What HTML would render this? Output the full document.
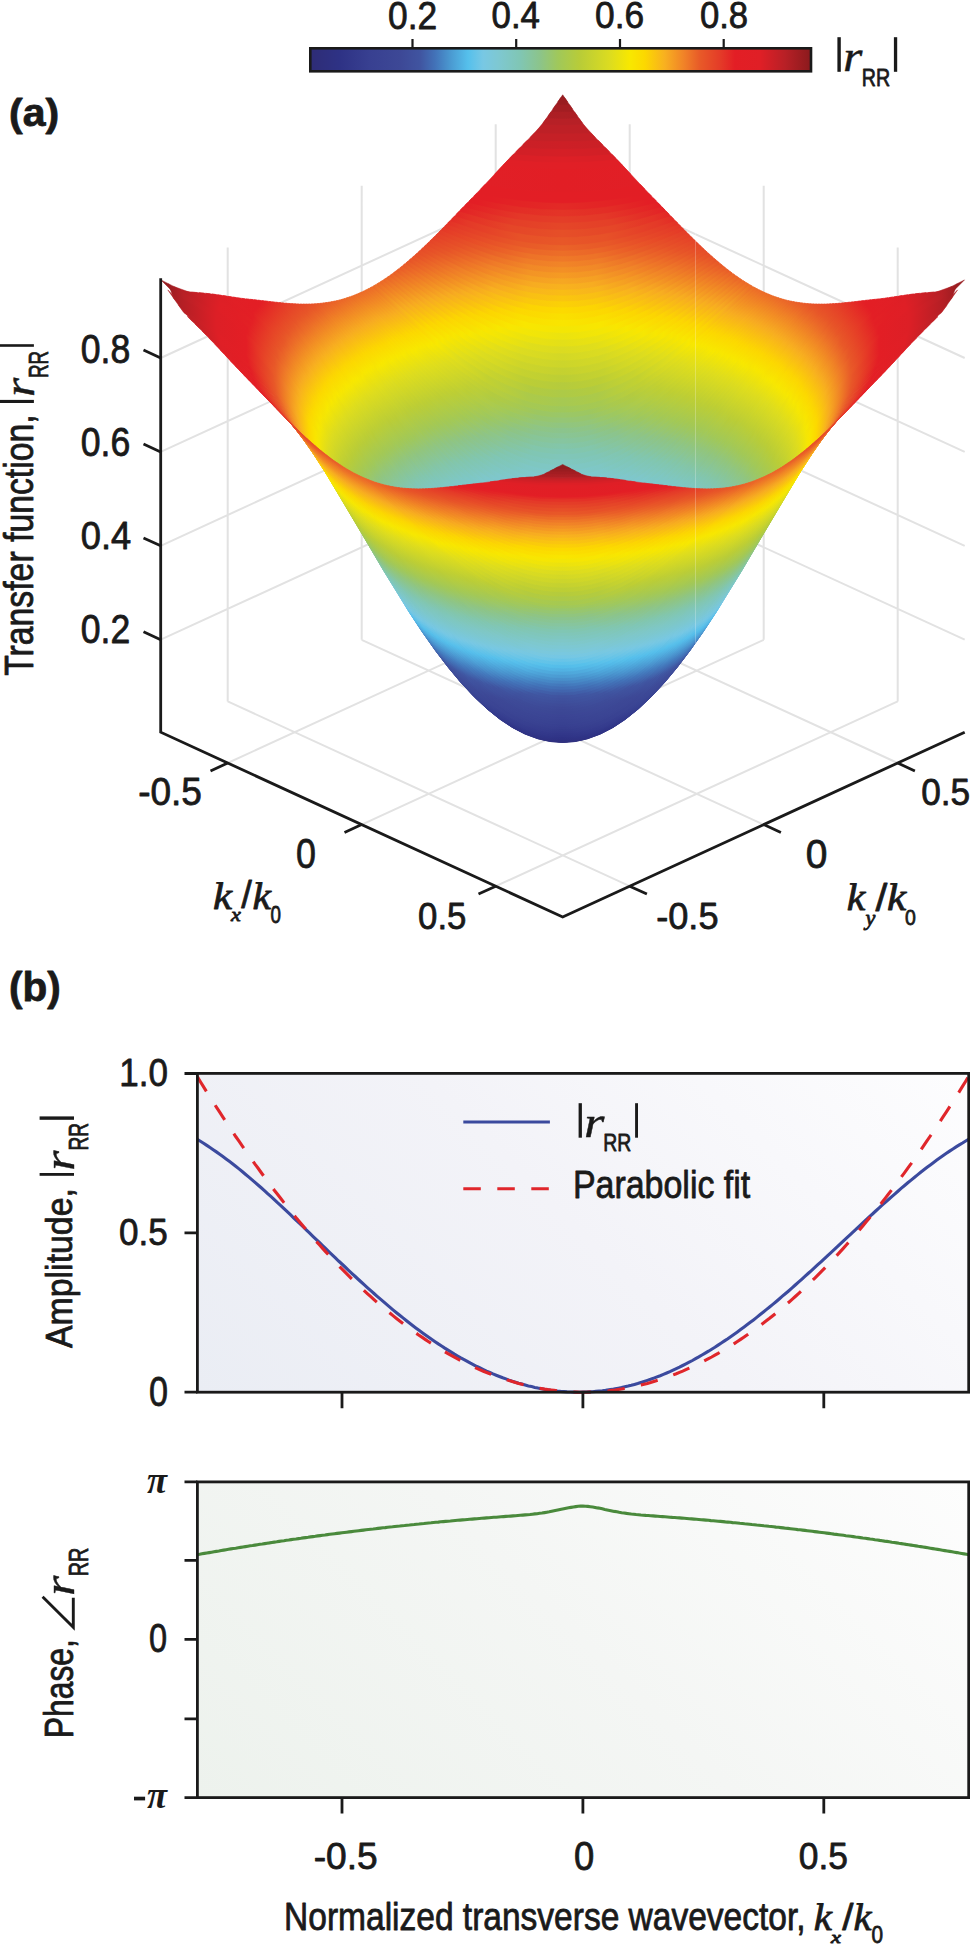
<!DOCTYPE html>
<html><head><meta charset="utf-8"><style>
html,body{margin:0;padding:0;background:#fff}
svg{display:block}
text{font-family:"Liberation Sans",sans-serif;fill:#1a1a1a}

</style></head><body>
<svg width="970" height="1944" viewBox="0 0 970 1944">
<defs><linearGradient id="cb" x1="0" x2="1" y1="0" y2="0"><stop offset="0.000" stop-color="#2e2c76"/><stop offset="0.059" stop-color="#2e3285"/><stop offset="0.119" stop-color="#384091"/><stop offset="0.179" stop-color="#3d4896"/><stop offset="0.219" stop-color="#4054a0"/><stop offset="0.249" stop-color="#4272b8"/><stop offset="0.279" stop-color="#4a98d0"/><stop offset="0.315" stop-color="#55c0ec"/><stop offset="0.345" stop-color="#78c8e4"/><stop offset="0.375" stop-color="#7ec8d2"/><stop offset="0.419" stop-color="#80c6b4"/><stop offset="0.459" stop-color="#8cc48a"/><stop offset="0.495" stop-color="#a0c85a"/><stop offset="0.538" stop-color="#b8cc38"/><stop offset="0.598" stop-color="#dcdc20"/><stop offset="0.638" stop-color="#f8e800"/><stop offset="0.668" stop-color="#fcd800"/><stop offset="0.708" stop-color="#f8b020"/><stop offset="0.748" stop-color="#f08028"/><stop offset="0.778" stop-color="#e85a28"/><stop offset="0.818" stop-color="#e43c28"/><stop offset="0.848" stop-color="#e31e25"/><stop offset="0.898" stop-color="#e01f26"/><stop offset="0.948" stop-color="#b82026"/><stop offset="1.000" stop-color="#8a1a1d"/></linearGradient><linearGradient id="bgA" gradientUnits="userSpaceOnUse" x1="197" y1="1392" x2="740" y2="849"><stop offset="0" stop-color="#eaedf4"/><stop offset="0.5" stop-color="#f3f3f8"/><stop offset="1" stop-color="#fdfdfe"/></linearGradient><linearGradient id="bgP" gradientUnits="userSpaceOnUse" x1="197" y1="1797" x2="740" y2="1254"><stop offset="0" stop-color="#edf2ed"/><stop offset="0.5" stop-color="#f4f6f4"/><stop offset="1" stop-color="#fdfdfd"/></linearGradient></defs><rect x="310.3" y="48.3" width="500.7" height="23" fill="url(#cb)" stroke="#1a1a1a" stroke-width="2.6"/><path d="M412.5 39V48M516.2 39V48M620 39V48M723.7 39V48" stroke="#1a1a1a" stroke-width="2.2"/>
<path d="M227.7 763L629.7 578.2M227.7 701.4L629.7 886.2M227.7 701.4L227.7 247.4M629.7 578.2L629.7 124.2M361.7 824.6L763.7 639.8M361.7 639.8L763.7 824.6M361.7 639.8L361.7 185.8M763.7 639.8L763.7 185.8M495.7 886.2L897.7 701.4M495.7 578.2L897.7 763M495.7 578.2L495.7 124.2M897.7 701.4L897.7 247.4M160.7 639.7L562.7 454.9M562.7 454.9L964.7 639.7M160.7 545.8L562.7 361M562.7 361L964.7 545.8M160.7 451.9L562.7 267.1M562.7 267.1L964.7 451.9M160.7 358L562.7 173.2M562.7 173.2L964.7 358" stroke="#e2e2e2" stroke-width="2" fill="none"/><defs><linearGradient id="g0" gradientUnits="userSpaceOnUse" x1="562.7" x2="964.7" y1="0" y2="0" spreadMethod="reflect"><stop offset="0.000" stop-color="#901b1e"/><stop offset="0.006" stop-color="#901b1e"/></linearGradient><linearGradient id="g1" gradientUnits="userSpaceOnUse" x1="562.7" x2="964.7" y1="0" y2="0" spreadMethod="reflect"><stop offset="0.000" stop-color="#9a1c20"/><stop offset="0.018" stop-color="#991c20"/></linearGradient><linearGradient id="g2" gradientUnits="userSpaceOnUse" x1="562.7" x2="964.7" y1="0" y2="0" spreadMethod="reflect"><stop offset="0.000" stop-color="#a31d22"/><stop offset="0.031" stop-color="#a31d22"/></linearGradient><linearGradient id="g3" gradientUnits="userSpaceOnUse" x1="562.7" x2="964.7" y1="0" y2="0" spreadMethod="reflect"><stop offset="0.000" stop-color="#ad1f24"/><stop offset="0.043" stop-color="#ac1e24"/></linearGradient><linearGradient id="g4" gradientUnits="userSpaceOnUse" x1="562.7" x2="964.7" y1="0" y2="0" spreadMethod="reflect"><stop offset="0.000" stop-color="#b72026"/><stop offset="0.056" stop-color="#b62026"/></linearGradient><linearGradient id="g5" gradientUnits="userSpaceOnUse" x1="562.7" x2="964.7" y1="0" y2="0" spreadMethod="reflect"><stop offset="0.000" stop-color="#be2026"/><stop offset="0.072" stop-color="#bd2026"/></linearGradient><linearGradient id="g6" gradientUnits="userSpaceOnUse" x1="562.7" x2="964.7" y1="0" y2="0" spreadMethod="reflect"><stop offset="0.000" stop-color="#c52026"/><stop offset="0.090" stop-color="#c42026"/></linearGradient><linearGradient id="g7" gradientUnits="userSpaceOnUse" x1="562.7" x2="964.7" y1="0" y2="0" spreadMethod="reflect"><stop offset="0.000" stop-color="#cd1f26"/><stop offset="0.108" stop-color="#ca2026"/></linearGradient><linearGradient id="g8" gradientUnits="userSpaceOnUse" x1="562.7" x2="964.7" y1="0" y2="0" spreadMethod="reflect"><stop offset="0.000" stop-color="#d51f26"/><stop offset="0.124" stop-color="#d11f26"/></linearGradient><linearGradient id="g9" gradientUnits="userSpaceOnUse" x1="562.7" x2="964.7" y1="0" y2="0" spreadMethod="reflect"><stop offset="0.000" stop-color="#de1f26"/><stop offset="0.140" stop-color="#d81f26"/></linearGradient><linearGradient id="g10" gradientUnits="userSpaceOnUse" x1="562.7" x2="964.7" y1="0" y2="0" spreadMethod="reflect"><stop offset="0.000" stop-color="#e11f26"/><stop offset="0.159" stop-color="#e01f26"/></linearGradient><linearGradient id="g11" gradientUnits="userSpaceOnUse" x1="562.7" x2="964.7" y1="0" y2="0" spreadMethod="reflect"><stop offset="0.000" stop-color="#e21e25"/><stop offset="0.187" stop-color="#e11f26"/></linearGradient><linearGradient id="g12" gradientUnits="userSpaceOnUse" x1="562.7" x2="964.7" y1="0" y2="0" spreadMethod="reflect"><stop offset="0.000" stop-color="#e31e25"/><stop offset="0.213" stop-color="#e21e25"/></linearGradient><linearGradient id="g13" gradientUnits="userSpaceOnUse" x1="562.7" x2="964.7" y1="0" y2="0" spreadMethod="reflect"><stop offset="0.000" stop-color="#e32a26"/><stop offset="0.115" stop-color="#e32325"/><stop offset="0.176" stop-color="#e31e25"/><stop offset="0.227" stop-color="#e21e25"/></linearGradient><linearGradient id="g14" gradientUnits="userSpaceOnUse" x1="562.7" x2="964.7" y1="0" y2="0" spreadMethod="reflect"><stop offset="0.000" stop-color="#e43427"/><stop offset="0.113" stop-color="#e32d26"/><stop offset="0.212" stop-color="#e31e25"/><stop offset="0.238" stop-color="#e21e25"/></linearGradient><linearGradient id="g15" gradientUnits="userSpaceOnUse" x1="562.7" x2="964.7" y1="0" y2="0" spreadMethod="reflect"><stop offset="0.000" stop-color="#e43e28"/><stop offset="0.104" stop-color="#e43828"/><stop offset="0.247" stop-color="#e31e25"/><stop offset="0.249" stop-color="#e31e25"/></linearGradient><linearGradient id="g16" gradientUnits="userSpaceOnUse" x1="562.7" x2="964.7" y1="0" y2="0" spreadMethod="reflect"><stop offset="0.000" stop-color="#e54628"/><stop offset="0.121" stop-color="#e43f28"/><stop offset="0.249" stop-color="#e32326"/><stop offset="0.259" stop-color="#e32025"/></linearGradient><linearGradient id="g17" gradientUnits="userSpaceOnUse" x1="562.7" x2="964.7" y1="0" y2="0" spreadMethod="reflect"><stop offset="0.000" stop-color="#e64f28"/><stop offset="0.128" stop-color="#e54628"/><stop offset="0.227" stop-color="#e43227"/><stop offset="0.270" stop-color="#e32626"/></linearGradient><linearGradient id="g18" gradientUnits="userSpaceOnUse" x1="562.7" x2="964.7" y1="0" y2="0" spreadMethod="reflect"><stop offset="0.000" stop-color="#e85728"/><stop offset="0.108" stop-color="#e75128"/><stop offset="0.236" stop-color="#e43928"/><stop offset="0.281" stop-color="#e32b26"/></linearGradient><linearGradient id="g19" gradientUnits="userSpaceOnUse" x1="562.7" x2="964.7" y1="0" y2="0" spreadMethod="reflect"><stop offset="0.000" stop-color="#ea6328"/><stop offset="0.111" stop-color="#e85828"/><stop offset="0.256" stop-color="#e43b28"/><stop offset="0.290" stop-color="#e42f27"/></linearGradient><linearGradient id="g20" gradientUnits="userSpaceOnUse" x1="562.7" x2="964.7" y1="0" y2="0" spreadMethod="reflect"><stop offset="0.000" stop-color="#ec6e28"/><stop offset="0.087" stop-color="#eb6628"/><stop offset="0.275" stop-color="#e43b28"/><stop offset="0.297" stop-color="#e43327"/></linearGradient><linearGradient id="g21" gradientUnits="userSpaceOnUse" x1="562.7" x2="964.7" y1="0" y2="0" spreadMethod="reflect"><stop offset="0.000" stop-color="#ef7928"/><stop offset="0.084" stop-color="#ed7228"/><stop offset="0.305" stop-color="#e43727"/></linearGradient><linearGradient id="g22" gradientUnits="userSpaceOnUse" x1="562.7" x2="964.7" y1="0" y2="0" spreadMethod="reflect"><stop offset="0.000" stop-color="#f18527"/><stop offset="0.091" stop-color="#ef7c28"/><stop offset="0.195" stop-color="#e85c28"/><stop offset="0.312" stop-color="#e43b28"/></linearGradient><linearGradient id="g23" gradientUnits="userSpaceOnUse" x1="562.7" x2="964.7" y1="0" y2="0" spreadMethod="reflect"><stop offset="0.000" stop-color="#f39025"/><stop offset="0.085" stop-color="#f18827"/><stop offset="0.176" stop-color="#ec6e28"/><stop offset="0.250" stop-color="#e75228"/><stop offset="0.319" stop-color="#e43e28"/></linearGradient><linearGradient id="g24" gradientUnits="userSpaceOnUse" x1="562.7" x2="964.7" y1="0" y2="0" spreadMethod="reflect"><stop offset="0.000" stop-color="#f59b23"/><stop offset="0.082" stop-color="#f39425"/><stop offset="0.169" stop-color="#ef7b28"/><stop offset="0.270" stop-color="#e75228"/><stop offset="0.327" stop-color="#e54028"/></linearGradient><linearGradient id="g25" gradientUnits="userSpaceOnUse" x1="562.7" x2="964.7" y1="0" y2="0" spreadMethod="reflect"><stop offset="0.000" stop-color="#f6a722"/><stop offset="0.084" stop-color="#f59f23"/><stop offset="0.181" stop-color="#f08228"/><stop offset="0.284" stop-color="#e75328"/><stop offset="0.334" stop-color="#e54328"/></linearGradient><linearGradient id="g26" gradientUnits="userSpaceOnUse" x1="562.7" x2="964.7" y1="0" y2="0" spreadMethod="reflect"><stop offset="0.000" stop-color="#f8b21e"/><stop offset="0.074" stop-color="#f7ac21"/><stop offset="0.156" stop-color="#f49524"/><stop offset="0.242" stop-color="#ed7028"/><stop offset="0.293" stop-color="#e75628"/><stop offset="0.341" stop-color="#e54528"/></linearGradient><linearGradient id="g27" gradientUnits="userSpaceOnUse" x1="562.7" x2="964.7" y1="0" y2="0" spreadMethod="reflect"><stop offset="0.000" stop-color="#f9bc16"/><stop offset="0.090" stop-color="#f8b41d"/><stop offset="0.186" stop-color="#f39525"/><stop offset="0.279" stop-color="#ea6528"/><stop offset="0.317" stop-color="#e75328"/><stop offset="0.349" stop-color="#e64728"/></linearGradient><linearGradient id="g28" gradientUnits="userSpaceOnUse" x1="562.7" x2="964.7" y1="0" y2="0" spreadMethod="reflect"><stop offset="0.000" stop-color="#fac60e"/><stop offset="0.083" stop-color="#f9bf14"/><stop offset="0.163" stop-color="#f7a921"/><stop offset="0.258" stop-color="#ef7c28"/><stop offset="0.326" stop-color="#e75528"/><stop offset="0.356" stop-color="#e64a28"/></linearGradient><linearGradient id="g29" gradientUnits="userSpaceOnUse" x1="562.7" x2="964.7" y1="0" y2="0" spreadMethod="reflect"><stop offset="0.000" stop-color="#fbd106"/><stop offset="0.088" stop-color="#fac80d"/><stop offset="0.176" stop-color="#f8b020"/><stop offset="0.281" stop-color="#ee7828"/><stop offset="0.342" stop-color="#e75428"/><stop offset="0.363" stop-color="#e64c28"/></linearGradient><linearGradient id="g30" gradientUnits="userSpaceOnUse" x1="562.7" x2="964.7" y1="0" y2="0" spreadMethod="reflect"><stop offset="0.000" stop-color="#fcda00"/><stop offset="0.080" stop-color="#fcd403"/><stop offset="0.167" stop-color="#f9bd16"/><stop offset="0.219" stop-color="#f6a622"/><stop offset="0.312" stop-color="#ec6e28"/><stop offset="0.355" stop-color="#e75428"/><stop offset="0.371" stop-color="#e64e28"/></linearGradient><linearGradient id="g31" gradientUnits="userSpaceOnUse" x1="562.7" x2="964.7" y1="0" y2="0" spreadMethod="reflect"><stop offset="0.000" stop-color="#fae000"/><stop offset="0.113" stop-color="#fcd701"/><stop offset="0.205" stop-color="#f9b81a"/><stop offset="0.233" stop-color="#f7aa21"/><stop offset="0.334" stop-color="#eb6928"/><stop offset="0.372" stop-color="#e75328"/><stop offset="0.378" stop-color="#e75028"/></linearGradient><linearGradient id="g32" gradientUnits="userSpaceOnUse" x1="562.7" x2="964.7" y1="0" y2="0" spreadMethod="reflect"><stop offset="0.000" stop-color="#f9e500"/><stop offset="0.103" stop-color="#fadf00"/><stop offset="0.158" stop-color="#fcd403"/><stop offset="0.248" stop-color="#f7ad21"/><stop offset="0.350" stop-color="#eb6728"/><stop offset="0.379" stop-color="#e75528"/><stop offset="0.386" stop-color="#e75228"/></linearGradient><linearGradient id="g33" gradientUnits="userSpaceOnUse" x1="562.7" x2="964.7" y1="0" y2="0" spreadMethod="reflect"><stop offset="0.000" stop-color="#f3e605"/><stop offset="0.095" stop-color="#f9e600"/><stop offset="0.180" stop-color="#fcd601"/><stop offset="0.269" stop-color="#f7ab21"/><stop offset="0.361" stop-color="#eb6928"/><stop offset="0.393" stop-color="#e75428"/></linearGradient><linearGradient id="g34" gradientUnits="userSpaceOnUse" x1="562.7" x2="964.7" y1="0" y2="0" spreadMethod="reflect"><stop offset="0.000" stop-color="#ebe30f"/><stop offset="0.094" stop-color="#f3e606"/><stop offset="0.134" stop-color="#f9e600"/><stop offset="0.207" stop-color="#fcd502"/><stop offset="0.284" stop-color="#f7ac21"/><stop offset="0.371" stop-color="#ec6b28"/><stop offset="0.401" stop-color="#e75628"/></linearGradient><linearGradient id="g35" gradientUnits="userSpaceOnUse" x1="562.7" x2="964.7" y1="0" y2="0" spreadMethod="reflect"><stop offset="0.000" stop-color="#e3df18"/><stop offset="0.089" stop-color="#eae210"/><stop offset="0.160" stop-color="#f8e700"/><stop offset="0.228" stop-color="#fcd502"/><stop offset="0.300" stop-color="#f7ac21"/><stop offset="0.382" stop-color="#ec6d28"/><stop offset="0.409" stop-color="#e85828"/></linearGradient><linearGradient id="g36" gradientUnits="userSpaceOnUse" x1="562.7" x2="964.7" y1="0" y2="0" spreadMethod="reflect"><stop offset="0.000" stop-color="#dbdb21"/><stop offset="0.080" stop-color="#e0de1b"/><stop offset="0.167" stop-color="#f3e605"/><stop offset="0.191" stop-color="#f9e600"/><stop offset="0.247" stop-color="#fcd602"/><stop offset="0.316" stop-color="#f7ab21"/><stop offset="0.396" stop-color="#ec6b28"/><stop offset="0.417" stop-color="#e85928"/></linearGradient><linearGradient id="g37" gradientUnits="userSpaceOnUse" x1="562.7" x2="964.7" y1="0" y2="0" spreadMethod="reflect"><stop offset="0.000" stop-color="#d3d826"/><stop offset="0.106" stop-color="#dcdc20"/><stop offset="0.202" stop-color="#f6e702"/><stop offset="0.266" stop-color="#fcd502"/><stop offset="0.329" stop-color="#f7ac21"/><stop offset="0.411" stop-color="#eb6828"/><stop offset="0.425" stop-color="#e85c28"/></linearGradient><linearGradient id="g38" gradientUnits="userSpaceOnUse" x1="562.7" x2="964.7" y1="0" y2="0" spreadMethod="reflect"><stop offset="0.000" stop-color="#ccd52b"/><stop offset="0.094" stop-color="#d3d826"/><stop offset="0.159" stop-color="#e1de1b"/><stop offset="0.231" stop-color="#f8e700"/><stop offset="0.281" stop-color="#fcd602"/><stop offset="0.343" stop-color="#f7ac21"/><stop offset="0.419" stop-color="#ec6b28"/><stop offset="0.433" stop-color="#e95e28"/></linearGradient><linearGradient id="g39" gradientUnits="userSpaceOnUse" x1="562.7" x2="964.7" y1="0" y2="0" spreadMethod="reflect"><stop offset="0.000" stop-color="#c4d130"/><stop offset="0.103" stop-color="#cdd52a"/><stop offset="0.180" stop-color="#dfdd1d"/><stop offset="0.250" stop-color="#f8e700"/><stop offset="0.298" stop-color="#fcd602"/><stop offset="0.357" stop-color="#f7ac21"/><stop offset="0.430" stop-color="#eb6a28"/><stop offset="0.441" stop-color="#e96028"/></linearGradient><linearGradient id="g40" gradientUnits="userSpaceOnUse" x1="562.7" x2="964.7" y1="0" y2="0" spreadMethod="reflect"><stop offset="0.000" stop-color="#bcce35"/><stop offset="0.101" stop-color="#c5d22f"/><stop offset="0.202" stop-color="#dedd1e"/><stop offset="0.270" stop-color="#f8e600"/><stop offset="0.311" stop-color="#fcd701"/><stop offset="0.371" stop-color="#f7aa21"/><stop offset="0.438" stop-color="#ec6d28"/><stop offset="0.449" stop-color="#ea6228"/></linearGradient><linearGradient id="g41" gradientUnits="userSpaceOnUse" x1="562.7" x2="964.7" y1="0" y2="0" spreadMethod="reflect"><stop offset="0.000" stop-color="#b5cb3d"/><stop offset="0.095" stop-color="#bcce35"/><stop offset="0.198" stop-color="#d5d924"/><stop offset="0.233" stop-color="#e2df19"/><stop offset="0.286" stop-color="#f8e600"/><stop offset="0.328" stop-color="#fcd502"/><stop offset="0.382" stop-color="#f7ac21"/><stop offset="0.450" stop-color="#ec6b28"/><stop offset="0.458" stop-color="#ea6428"/></linearGradient><linearGradient id="g42" gradientUnits="userSpaceOnUse" x1="562.7" x2="964.7" y1="0" y2="0" spreadMethod="reflect"><stop offset="0.000" stop-color="#adca47"/><stop offset="0.078" stop-color="#b2cb40"/><stop offset="0.175" stop-color="#c7d32e"/><stop offset="0.249" stop-color="#e1de1b"/><stop offset="0.299" stop-color="#f8e700"/><stop offset="0.338" stop-color="#fcd800"/><stop offset="0.393" stop-color="#f7ac21"/><stop offset="0.463" stop-color="#eb6928"/><stop offset="0.466" stop-color="#ea6528"/></linearGradient><linearGradient id="g43" gradientUnits="userSpaceOnUse" x1="562.7" x2="964.7" y1="0" y2="0" spreadMethod="reflect"><stop offset="0.000" stop-color="#a6c952"/><stop offset="0.087" stop-color="#acca49"/><stop offset="0.186" stop-color="#c2d131"/><stop offset="0.261" stop-color="#dedd1e"/><stop offset="0.313" stop-color="#f8e800"/><stop offset="0.356" stop-color="#fcd403"/><stop offset="0.404" stop-color="#f7ad21"/><stop offset="0.471" stop-color="#eb6a28"/><stop offset="0.475" stop-color="#eb6628"/></linearGradient><linearGradient id="g44" gradientUnits="userSpaceOnUse" x1="562.7" x2="964.7" y1="0" y2="0" spreadMethod="reflect"><stop offset="0.000" stop-color="#9fc85c"/><stop offset="0.097" stop-color="#a7c950"/><stop offset="0.201" stop-color="#c1d032"/><stop offset="0.277" stop-color="#dfdd1d"/><stop offset="0.326" stop-color="#f8e800"/><stop offset="0.362" stop-color="#fcd800"/><stop offset="0.414" stop-color="#f7ac21"/><stop offset="0.483" stop-color="#eb6728"/></linearGradient><linearGradient id="g45" gradientUnits="userSpaceOnUse" x1="562.7" x2="964.7" y1="0" y2="0" spreadMethod="reflect"><stop offset="0.000" stop-color="#9ac769"/><stop offset="0.065" stop-color="#9dc760"/><stop offset="0.175" stop-color="#b3cb3f"/><stop offset="0.248" stop-color="#cdd52a"/><stop offset="0.289" stop-color="#dfdd1c"/><stop offset="0.334" stop-color="#f8e800"/><stop offset="0.371" stop-color="#fcd800"/><stop offset="0.419" stop-color="#f8ae20"/><stop offset="0.485" stop-color="#ec6b28"/><stop offset="0.489" stop-color="#eb6728"/></linearGradient><linearGradient id="g46" gradientUnits="userSpaceOnUse" x1="562.7" x2="964.7" y1="0" y2="0" spreadMethod="reflect"><stop offset="0.000" stop-color="#95c675"/><stop offset="0.066" stop-color="#98c66c"/><stop offset="0.177" stop-color="#afcb44"/><stop offset="0.231" stop-color="#c1d032"/><stop offset="0.297" stop-color="#dedd1e"/><stop offset="0.346" stop-color="#f8e700"/><stop offset="0.379" stop-color="#fcd800"/><stop offset="0.428" stop-color="#f7ac21"/><stop offset="0.490" stop-color="#ec6c28"/><stop offset="0.494" stop-color="#eb6728"/></linearGradient><linearGradient id="g47" gradientUnits="userSpaceOnUse" x1="562.7" x2="964.7" y1="0" y2="0" spreadMethod="reflect"><stop offset="0.000" stop-color="#90c581"/><stop offset="0.067" stop-color="#94c678"/><stop offset="0.129" stop-color="#9ec85f"/><stop offset="0.238" stop-color="#bfcf33"/><stop offset="0.304" stop-color="#dddc1f"/><stop offset="0.354" stop-color="#f8e700"/><stop offset="0.388" stop-color="#fcd701"/><stop offset="0.433" stop-color="#f8ae20"/><stop offset="0.492" stop-color="#ed7028"/><stop offset="0.500" stop-color="#eb6728"/></linearGradient><linearGradient id="g48" gradientUnits="userSpaceOnUse" x1="562.7" x2="964.7" y1="0" y2="0" spreadMethod="reflect"><stop offset="0.000" stop-color="#8bc48d"/><stop offset="0.067" stop-color="#8fc584"/><stop offset="0.135" stop-color="#9ac767"/><stop offset="0.240" stop-color="#bbce36"/><stop offset="0.320" stop-color="#e1de1b"/><stop offset="0.363" stop-color="#f8e700"/><stop offset="0.396" stop-color="#fcd502"/><stop offset="0.443" stop-color="#f7ab21"/><stop offset="0.497" stop-color="#ed7028"/><stop offset="0.506" stop-color="#eb6728"/></linearGradient><linearGradient id="g49" gradientUnits="userSpaceOnUse" x1="562.7" x2="964.7" y1="0" y2="0" spreadMethod="reflect"><stop offset="0.000" stop-color="#89c596"/><stop offset="0.068" stop-color="#8bc48e"/><stop offset="0.119" stop-color="#92c57b"/><stop offset="0.205" stop-color="#aaca4c"/><stop offset="0.264" stop-color="#c1d032"/><stop offset="0.328" stop-color="#e0de1b"/><stop offset="0.367" stop-color="#f8e800"/><stop offset="0.401" stop-color="#fcd800"/><stop offset="0.448" stop-color="#f7ac21"/><stop offset="0.512" stop-color="#eb6728"/></linearGradient><linearGradient id="g50" gradientUnits="userSpaceOnUse" x1="562.7" x2="964.7" y1="0" y2="0" spreadMethod="reflect"><stop offset="0.000" stop-color="#86c5a0"/><stop offset="0.073" stop-color="#88c597"/><stop offset="0.125" stop-color="#8ec484"/><stop offset="0.185" stop-color="#9ec85e"/><stop offset="0.267" stop-color="#bdce34"/><stop offset="0.336" stop-color="#e0de1c"/><stop offset="0.375" stop-color="#f8e800"/><stop offset="0.410" stop-color="#fcd602"/><stop offset="0.453" stop-color="#f8ae20"/><stop offset="0.513" stop-color="#ec6b28"/><stop offset="0.518" stop-color="#eb6728"/></linearGradient><linearGradient id="g51" gradientUnits="userSpaceOnUse" x1="562.7" x2="964.7" y1="0" y2="0" spreadMethod="reflect"><stop offset="0.000" stop-color="#83c6aa"/><stop offset="0.070" stop-color="#85c5a1"/><stop offset="0.135" stop-color="#8cc48b"/><stop offset="0.196" stop-color="#9dc761"/><stop offset="0.275" stop-color="#bcce35"/><stop offset="0.345" stop-color="#e0de1c"/><stop offset="0.384" stop-color="#f8e700"/><stop offset="0.415" stop-color="#fcd800"/><stop offset="0.463" stop-color="#f7aa21"/><stop offset="0.524" stop-color="#eb6628"/></linearGradient><linearGradient id="g52" gradientUnits="userSpaceOnUse" x1="562.7" x2="964.7" y1="0" y2="0" spreadMethod="reflect"><stop offset="0.000" stop-color="#80c6b3"/><stop offset="0.071" stop-color="#83c6ab"/><stop offset="0.137" stop-color="#89c494"/><stop offset="0.190" stop-color="#96c672"/><stop offset="0.230" stop-color="#a4c954"/><stop offset="0.291" stop-color="#bfcf33"/><stop offset="0.353" stop-color="#e0de1c"/><stop offset="0.393" stop-color="#f8e700"/><stop offset="0.424" stop-color="#fcd602"/><stop offset="0.468" stop-color="#f7ab21"/><stop offset="0.530" stop-color="#ea6528"/></linearGradient><linearGradient id="g53" gradientUnits="userSpaceOnUse" x1="562.7" x2="964.7" y1="0" y2="0" spreadMethod="reflect"><stop offset="0.000" stop-color="#80c6ba"/><stop offset="0.076" stop-color="#80c6b3"/><stop offset="0.138" stop-color="#87c59c"/><stop offset="0.183" stop-color="#8fc583"/><stop offset="0.241" stop-color="#a4c954"/><stop offset="0.299" stop-color="#becf34"/><stop offset="0.357" stop-color="#dddd1e"/><stop offset="0.397" stop-color="#f8e800"/><stop offset="0.429" stop-color="#fcd800"/><stop offset="0.473" stop-color="#f7ac21"/><stop offset="0.536" stop-color="#ea6528"/></linearGradient><linearGradient id="g54" gradientUnits="userSpaceOnUse" x1="562.7" x2="964.7" y1="0" y2="0" spreadMethod="reflect"><stop offset="0.000" stop-color="#7fc7c1"/><stop offset="0.090" stop-color="#80c6b7"/><stop offset="0.135" stop-color="#84c5a7"/><stop offset="0.194" stop-color="#8ec486"/><stop offset="0.248" stop-color="#a2c857"/><stop offset="0.307" stop-color="#bdce34"/><stop offset="0.366" stop-color="#dedd1e"/><stop offset="0.406" stop-color="#f8e700"/><stop offset="0.434" stop-color="#fcd900"/><stop offset="0.479" stop-color="#f7ac21"/><stop offset="0.533" stop-color="#ec6e28"/><stop offset="0.542" stop-color="#ea6428"/></linearGradient><linearGradient id="g55" gradientUnits="userSpaceOnUse" x1="562.7" x2="964.7" y1="0" y2="0" spreadMethod="reflect"><stop offset="0.000" stop-color="#7fc7c7"/><stop offset="0.078" stop-color="#7fc7c0"/><stop offset="0.137" stop-color="#81c6b1"/><stop offset="0.206" stop-color="#8dc488"/><stop offset="0.265" stop-color="#a5c953"/><stop offset="0.315" stop-color="#bdce35"/><stop offset="0.375" stop-color="#dfdd1d"/><stop offset="0.411" stop-color="#f8e800"/><stop offset="0.443" stop-color="#fcd601"/><stop offset="0.484" stop-color="#f7ad21"/><stop offset="0.539" stop-color="#ec6d28"/><stop offset="0.548" stop-color="#ea6228"/></linearGradient><linearGradient id="g56" gradientUnits="userSpaceOnUse" x1="562.7" x2="964.7" y1="0" y2="0" spreadMethod="reflect"><stop offset="0.000" stop-color="#7ec8ce"/><stop offset="0.092" stop-color="#7fc7c4"/><stop offset="0.157" stop-color="#81c6b0"/><stop offset="0.222" stop-color="#8ec486"/><stop offset="0.273" stop-color="#a3c955"/><stop offset="0.328" stop-color="#bfcf33"/><stop offset="0.384" stop-color="#e0de1c"/><stop offset="0.420" stop-color="#f8e700"/><stop offset="0.448" stop-color="#fcd700"/><stop offset="0.490" stop-color="#f8ad20"/><stop offset="0.541" stop-color="#ed7128"/><stop offset="0.554" stop-color="#ea6128"/></linearGradient><linearGradient id="g57" gradientUnits="userSpaceOnUse" x1="562.7" x2="964.7" y1="0" y2="0" spreadMethod="reflect"><stop offset="0.000" stop-color="#7dc8d4"/><stop offset="0.079" stop-color="#7ec8cd"/><stop offset="0.168" stop-color="#80c6b4"/><stop offset="0.234" stop-color="#8ec486"/><stop offset="0.280" stop-color="#a2c857"/><stop offset="0.332" stop-color="#bcce35"/><stop offset="0.388" stop-color="#dedd1e"/><stop offset="0.425" stop-color="#f8e800"/><stop offset="0.453" stop-color="#fcd800"/><stop offset="0.495" stop-color="#f8ad20"/><stop offset="0.547" stop-color="#ed7028"/><stop offset="0.561" stop-color="#e96028"/></linearGradient><linearGradient id="g58" gradientUnits="userSpaceOnUse" x1="562.7" x2="964.7" y1="0" y2="0" spreadMethod="reflect"><stop offset="0.000" stop-color="#7bc8da"/><stop offset="0.085" stop-color="#7ec8d2"/><stop offset="0.165" stop-color="#80c6bb"/><stop offset="0.194" stop-color="#82c6ad"/><stop offset="0.246" stop-color="#8ec486"/><stop offset="0.288" stop-color="#a1c858"/><stop offset="0.340" stop-color="#bcce35"/><stop offset="0.397" stop-color="#dfdd1d"/><stop offset="0.430" stop-color="#f7e801"/><stop offset="0.459" stop-color="#fcd900"/><stop offset="0.501" stop-color="#f8ad20"/><stop offset="0.553" stop-color="#ec6f28"/><stop offset="0.567" stop-color="#e95e28"/></linearGradient><linearGradient id="g59" gradientUnits="userSpaceOnUse" x1="562.7" x2="964.7" y1="0" y2="0" spreadMethod="reflect"><stop offset="0.000" stop-color="#79c8e0"/><stop offset="0.096" stop-color="#7dc8d6"/><stop offset="0.172" stop-color="#7fc7bf"/><stop offset="0.210" stop-color="#82c6ac"/><stop offset="0.258" stop-color="#8ec485"/><stop offset="0.301" stop-color="#a3c856"/><stop offset="0.344" stop-color="#bacd37"/><stop offset="0.407" stop-color="#e1de1b"/><stop offset="0.440" stop-color="#f8e700"/><stop offset="0.469" stop-color="#fcd502"/><stop offset="0.507" stop-color="#f7ad21"/><stop offset="0.564" stop-color="#eb6728"/><stop offset="0.574" stop-color="#e85c28"/></linearGradient><linearGradient id="g60" gradientUnits="userSpaceOnUse" x1="562.7" x2="964.7" y1="0" y2="0" spreadMethod="reflect"><stop offset="0.000" stop-color="#75c7e5"/><stop offset="0.087" stop-color="#7ac8de"/><stop offset="0.160" stop-color="#7fc7ca"/><stop offset="0.218" stop-color="#81c6b0"/><stop offset="0.271" stop-color="#8fc582"/><stop offset="0.310" stop-color="#a2c856"/><stop offset="0.358" stop-color="#bdce34"/><stop offset="0.411" stop-color="#dfdd1c"/><stop offset="0.445" stop-color="#f8e800"/><stop offset="0.474" stop-color="#fcd602"/><stop offset="0.513" stop-color="#f7ac21"/><stop offset="0.561" stop-color="#ed7128"/><stop offset="0.581" stop-color="#e85a28"/></linearGradient><linearGradient id="g61" gradientUnits="userSpaceOnUse" x1="562.7" x2="964.7" y1="0" y2="0" spreadMethod="reflect"><stop offset="0.000" stop-color="#69c5e7"/><stop offset="0.064" stop-color="#71c6e6"/><stop offset="0.113" stop-color="#7ac8de"/><stop offset="0.176" stop-color="#7fc7ca"/><stop offset="0.230" stop-color="#81c6b0"/><stop offset="0.279" stop-color="#8ec485"/><stop offset="0.318" stop-color="#a2c857"/><stop offset="0.362" stop-color="#bbcd36"/><stop offset="0.421" stop-color="#e1de1a"/><stop offset="0.450" stop-color="#f8e800"/><stop offset="0.480" stop-color="#fcd601"/><stop offset="0.519" stop-color="#f7ac21"/><stop offset="0.568" stop-color="#ec6f28"/><stop offset="0.587" stop-color="#e85928"/></linearGradient><linearGradient id="g62" gradientUnits="userSpaceOnUse" x1="562.7" x2="964.7" y1="0" y2="0" spreadMethod="reflect"><stop offset="0.000" stop-color="#5dc2ea"/><stop offset="0.069" stop-color="#67c4e8"/><stop offset="0.124" stop-color="#79c8e1"/><stop offset="0.193" stop-color="#7fc7ca"/><stop offset="0.243" stop-color="#81c6af"/><stop offset="0.292" stop-color="#90c581"/><stop offset="0.327" stop-color="#a2c857"/><stop offset="0.371" stop-color="#bcce35"/><stop offset="0.421" stop-color="#dcdc20"/><stop offset="0.456" stop-color="#f7e801"/><stop offset="0.485" stop-color="#fcd701"/><stop offset="0.525" stop-color="#f7ab21"/><stop offset="0.574" stop-color="#ec6d28"/><stop offset="0.594" stop-color="#e85728"/></linearGradient><linearGradient id="g63" gradientUnits="userSpaceOnUse" x1="562.7" x2="964.7" y1="0" y2="0" spreadMethod="reflect"><stop offset="0.000" stop-color="#54bdea"/><stop offset="0.060" stop-color="#59c1eb"/><stop offset="0.130" stop-color="#75c7e5"/><stop offset="0.200" stop-color="#7ec8cd"/><stop offset="0.255" stop-color="#82c6ae"/><stop offset="0.301" stop-color="#8fc582"/><stop offset="0.336" stop-color="#a2c856"/><stop offset="0.381" stop-color="#bdce34"/><stop offset="0.431" stop-color="#dfdd1d"/><stop offset="0.461" stop-color="#f6e702"/><stop offset="0.491" stop-color="#fcd701"/><stop offset="0.526" stop-color="#f8b020"/><stop offset="0.581" stop-color="#ec6b28"/><stop offset="0.601" stop-color="#e75628"/></linearGradient><linearGradient id="g64" gradientUnits="userSpaceOnUse" x1="562.7" x2="964.7" y1="0" y2="0" spreadMethod="reflect"><stop offset="0.000" stop-color="#51b2e2"/><stop offset="0.066" stop-color="#53bae8"/><stop offset="0.096" stop-color="#59c1eb"/><stop offset="0.162" stop-color="#79c8e2"/><stop offset="0.238" stop-color="#7fc7c0"/><stop offset="0.269" stop-color="#82c6ac"/><stop offset="0.314" stop-color="#92c57c"/><stop offset="0.345" stop-color="#a3c856"/><stop offset="0.385" stop-color="#bbce36"/><stop offset="0.436" stop-color="#dedd1e"/><stop offset="0.471" stop-color="#f8e600"/><stop offset="0.497" stop-color="#fcd701"/><stop offset="0.532" stop-color="#f8af20"/><stop offset="0.583" stop-color="#ec6f28"/><stop offset="0.603" stop-color="#e85728"/><stop offset="0.608" stop-color="#e75428"/></linearGradient><linearGradient id="g65" gradientUnits="userSpaceOnUse" x1="562.7" x2="964.7" y1="0" y2="0" spreadMethod="reflect"><stop offset="0.000" stop-color="#4ea6da"/><stop offset="0.067" stop-color="#50afe0"/><stop offset="0.118" stop-color="#58c1eb"/><stop offset="0.179" stop-color="#79c8e1"/><stop offset="0.246" stop-color="#7fc7c2"/><stop offset="0.282" stop-color="#83c5a9"/><stop offset="0.318" stop-color="#8fc583"/><stop offset="0.349" stop-color="#a1c859"/><stop offset="0.390" stop-color="#bacd37"/><stop offset="0.441" stop-color="#dddc1f"/><stop offset="0.477" stop-color="#f8e700"/><stop offset="0.502" stop-color="#fcd601"/><stop offset="0.538" stop-color="#f8ae20"/><stop offset="0.590" stop-color="#ec6c28"/><stop offset="0.610" stop-color="#e75628"/><stop offset="0.615" stop-color="#e75228"/></linearGradient><linearGradient id="g66" gradientUnits="userSpaceOnUse" x1="562.7" x2="964.7" y1="0" y2="0" spreadMethod="reflect"><stop offset="0.000" stop-color="#4b9bd2"/><stop offset="0.062" stop-color="#4da3d8"/><stop offset="0.130" stop-color="#54bdea"/><stop offset="0.176" stop-color="#70c6e6"/><stop offset="0.192" stop-color="#79c8e2"/><stop offset="0.259" stop-color="#7fc7c1"/><stop offset="0.290" stop-color="#83c6aa"/><stop offset="0.332" stop-color="#92c57b"/><stop offset="0.363" stop-color="#a5c953"/><stop offset="0.399" stop-color="#bcce36"/><stop offset="0.451" stop-color="#e0de1b"/><stop offset="0.482" stop-color="#f8e700"/><stop offset="0.508" stop-color="#fcd602"/><stop offset="0.545" stop-color="#f7ac21"/><stop offset="0.596" stop-color="#eb6928"/><stop offset="0.617" stop-color="#e75428"/><stop offset="0.622" stop-color="#e75028"/></linearGradient><linearGradient id="g67" gradientUnits="userSpaceOnUse" x1="562.7" x2="964.7" y1="0" y2="0" spreadMethod="reflect"><stop offset="0.000" stop-color="#4890cb"/><stop offset="0.058" stop-color="#4a97d0"/><stop offset="0.126" stop-color="#51b1e1"/><stop offset="0.152" stop-color="#55c0ec"/><stop offset="0.205" stop-color="#79c8e2"/><stop offset="0.267" stop-color="#7fc7c2"/><stop offset="0.299" stop-color="#83c6aa"/><stop offset="0.336" stop-color="#90c581"/><stop offset="0.367" stop-color="#a3c856"/><stop offset="0.409" stop-color="#becf34"/><stop offset="0.456" stop-color="#e0de1c"/><stop offset="0.488" stop-color="#f8e700"/><stop offset="0.514" stop-color="#fcd502"/><stop offset="0.551" stop-color="#f7aa21"/><stop offset="0.598" stop-color="#ec6d28"/><stop offset="0.614" stop-color="#e85928"/><stop offset="0.629" stop-color="#e64e28"/></linearGradient><linearGradient id="g68" gradientUnits="userSpaceOnUse" x1="562.7" x2="964.7" y1="0" y2="0" spreadMethod="reflect"><stop offset="0.000" stop-color="#4684c3"/><stop offset="0.053" stop-color="#478ac7"/><stop offset="0.133" stop-color="#4faadd"/><stop offset="0.170" stop-color="#56c0ec"/><stop offset="0.212" stop-color="#78c8e4"/><stop offset="0.281" stop-color="#7fc7bf"/><stop offset="0.313" stop-color="#85c5a4"/><stop offset="0.345" stop-color="#91c57e"/><stop offset="0.371" stop-color="#a1c858"/><stop offset="0.413" stop-color="#bdce35"/><stop offset="0.461" stop-color="#dfdd1c"/><stop offset="0.493" stop-color="#f8e700"/><stop offset="0.519" stop-color="#fcd403"/><stop offset="0.551" stop-color="#f8b020"/><stop offset="0.604" stop-color="#eb6a28"/><stop offset="0.620" stop-color="#e85828"/><stop offset="0.636" stop-color="#e64c28"/></linearGradient><linearGradient id="g69" gradientUnits="userSpaceOnUse" x1="562.7" x2="964.7" y1="0" y2="0" spreadMethod="reflect"><stop offset="0.000" stop-color="#4378bc"/><stop offset="0.059" stop-color="#4580c1"/><stop offset="0.123" stop-color="#4b9bd2"/><stop offset="0.182" stop-color="#55c0ec"/><stop offset="0.225" stop-color="#78c8e3"/><stop offset="0.289" stop-color="#7fc7bf"/><stop offset="0.316" stop-color="#83c5a9"/><stop offset="0.354" stop-color="#92c57c"/><stop offset="0.375" stop-color="#9fc85b"/><stop offset="0.413" stop-color="#b8cc38"/><stop offset="0.466" stop-color="#dfdd1d"/><stop offset="0.498" stop-color="#f8e600"/><stop offset="0.520" stop-color="#fcd900"/><stop offset="0.557" stop-color="#f8ae20"/><stop offset="0.600" stop-color="#ee7528"/><stop offset="0.627" stop-color="#e75628"/><stop offset="0.643" stop-color="#e64a28"/></linearGradient><linearGradient id="g70" gradientUnits="userSpaceOnUse" x1="562.7" x2="964.7" y1="0" y2="0" spreadMethod="reflect"><stop offset="0.000" stop-color="#426eb4"/><stop offset="0.054" stop-color="#4273b9"/><stop offset="0.119" stop-color="#488eca"/><stop offset="0.190" stop-color="#54bce9"/><stop offset="0.200" stop-color="#59c1eb"/><stop offset="0.233" stop-color="#77c8e4"/><stop offset="0.292" stop-color="#7fc7c3"/><stop offset="0.320" stop-color="#82c6ad"/><stop offset="0.357" stop-color="#90c580"/><stop offset="0.384" stop-color="#a1c858"/><stop offset="0.422" stop-color="#bbcd36"/><stop offset="0.471" stop-color="#dfdd1d"/><stop offset="0.498" stop-color="#f6e702"/><stop offset="0.525" stop-color="#fcd800"/><stop offset="0.563" stop-color="#f7ab21"/><stop offset="0.612" stop-color="#eb6a28"/><stop offset="0.634" stop-color="#e75328"/><stop offset="0.650" stop-color="#e64828"/></linearGradient><linearGradient id="g71" gradientUnits="userSpaceOnUse" x1="562.7" x2="964.7" y1="0" y2="0" spreadMethod="reflect"><stop offset="0.000" stop-color="#4164ad"/><stop offset="0.066" stop-color="#426cb4"/><stop offset="0.120" stop-color="#4683c3"/><stop offset="0.208" stop-color="#56c0ec"/><stop offset="0.246" stop-color="#78c8e3"/><stop offset="0.317" stop-color="#80c6b7"/><stop offset="0.361" stop-color="#8ec484"/><stop offset="0.389" stop-color="#a0c85a"/><stop offset="0.427" stop-color="#bacd37"/><stop offset="0.476" stop-color="#dfdd1d"/><stop offset="0.504" stop-color="#f6e702"/><stop offset="0.531" stop-color="#fcd701"/><stop offset="0.564" stop-color="#f8b020"/><stop offset="0.619" stop-color="#eb6728"/><stop offset="0.635" stop-color="#e75528"/><stop offset="0.657" stop-color="#e54628"/></linearGradient><linearGradient id="g72" gradientUnits="userSpaceOnUse" x1="562.7" x2="964.7" y1="0" y2="0" spreadMethod="reflect"><stop offset="0.000" stop-color="#405ba6"/><stop offset="0.066" stop-color="#4163ac"/><stop offset="0.122" stop-color="#4378bc"/><stop offset="0.199" stop-color="#50b0e0"/><stop offset="0.221" stop-color="#57c1eb"/><stop offset="0.255" stop-color="#78c8e4"/><stop offset="0.326" stop-color="#80c6b6"/><stop offset="0.371" stop-color="#90c580"/><stop offset="0.398" stop-color="#a2c857"/><stop offset="0.432" stop-color="#b9cc37"/><stop offset="0.481" stop-color="#dfdd1d"/><stop offset="0.509" stop-color="#f7e801"/><stop offset="0.537" stop-color="#fcd602"/><stop offset="0.570" stop-color="#f8ae20"/><stop offset="0.614" stop-color="#ed7228"/><stop offset="0.636" stop-color="#e85728"/><stop offset="0.664" stop-color="#e54328"/></linearGradient><linearGradient id="g73" gradientUnits="userSpaceOnUse" x1="562.7" x2="964.7" y1="0" y2="0" spreadMethod="reflect"><stop offset="0.000" stop-color="#40539f"/><stop offset="0.067" stop-color="#405aa5"/><stop offset="0.129" stop-color="#4271b7"/><stop offset="0.207" stop-color="#50acde"/><stop offset="0.229" stop-color="#55c0ec"/><stop offset="0.263" stop-color="#77c8e4"/><stop offset="0.319" stop-color="#7fc7c1"/><stop offset="0.341" stop-color="#82c6ae"/><stop offset="0.380" stop-color="#92c57b"/><stop offset="0.403" stop-color="#a1c858"/><stop offset="0.442" stop-color="#bdce35"/><stop offset="0.487" stop-color="#dfdd1d"/><stop offset="0.515" stop-color="#f8e800"/><stop offset="0.543" stop-color="#fcd403"/><stop offset="0.576" stop-color="#f7ab21"/><stop offset="0.627" stop-color="#eb6728"/><stop offset="0.643" stop-color="#e75528"/><stop offset="0.671" stop-color="#e54128"/></linearGradient><linearGradient id="g74" gradientUnits="userSpaceOnUse" x1="562.7" x2="964.7" y1="0" y2="0" spreadMethod="reflect"><stop offset="0.000" stop-color="#3f519d"/><stop offset="0.085" stop-color="#4056a2"/><stop offset="0.147" stop-color="#4272b8"/><stop offset="0.226" stop-color="#51b3e3"/><stop offset="0.243" stop-color="#58c1eb"/><stop offset="0.272" stop-color="#77c8e4"/><stop offset="0.328" stop-color="#7fc7bf"/><stop offset="0.351" stop-color="#83c6ab"/><stop offset="0.379" stop-color="#8dc488"/><stop offset="0.407" stop-color="#a0c85a"/><stop offset="0.447" stop-color="#bcce35"/><stop offset="0.492" stop-color="#dfdd1c"/><stop offset="0.520" stop-color="#f8e800"/><stop offset="0.543" stop-color="#fcd900"/><stop offset="0.577" stop-color="#f8b020"/><stop offset="0.622" stop-color="#ed7228"/><stop offset="0.645" stop-color="#e85628"/><stop offset="0.679" stop-color="#e43e28"/></linearGradient><linearGradient id="g75" gradientUnits="userSpaceOnUse" x1="562.7" x2="964.7" y1="0" y2="0" spreadMethod="reflect"><stop offset="0.000" stop-color="#3e4e9b"/><stop offset="0.103" stop-color="#4054a0"/><stop offset="0.160" stop-color="#4270b7"/><stop offset="0.246" stop-color="#54bce9"/><stop offset="0.257" stop-color="#5dc2ea"/><stop offset="0.280" stop-color="#77c8e4"/><stop offset="0.326" stop-color="#7fc7c7"/><stop offset="0.355" stop-color="#82c6ae"/><stop offset="0.389" stop-color="#90c582"/><stop offset="0.418" stop-color="#a3c955"/><stop offset="0.452" stop-color="#bcce35"/><stop offset="0.492" stop-color="#dbdc21"/><stop offset="0.526" stop-color="#f8e700"/><stop offset="0.549" stop-color="#fcd701"/><stop offset="0.583" stop-color="#f7ad21"/><stop offset="0.635" stop-color="#ea6628"/><stop offset="0.652" stop-color="#e75428"/><stop offset="0.686" stop-color="#e43b28"/></linearGradient><linearGradient id="g76" gradientUnits="userSpaceOnUse" x1="562.7" x2="964.7" y1="0" y2="0" spreadMethod="reflect"><stop offset="0.000" stop-color="#3e4b98"/><stop offset="0.116" stop-color="#40539f"/><stop offset="0.145" stop-color="#415ea8"/><stop offset="0.191" stop-color="#457ec0"/><stop offset="0.260" stop-color="#56c0ec"/><stop offset="0.289" stop-color="#77c8e4"/><stop offset="0.335" stop-color="#7fc7c5"/><stop offset="0.364" stop-color="#83c6ab"/><stop offset="0.399" stop-color="#92c57b"/><stop offset="0.422" stop-color="#a3c856"/><stop offset="0.457" stop-color="#bcce35"/><stop offset="0.503" stop-color="#e1de1b"/><stop offset="0.526" stop-color="#f6e703"/><stop offset="0.549" stop-color="#fbda00"/><stop offset="0.584" stop-color="#f8b11f"/><stop offset="0.630" stop-color="#ed7128"/><stop offset="0.654" stop-color="#e75528"/><stop offset="0.694" stop-color="#e43828"/></linearGradient><linearGradient id="g77" gradientUnits="userSpaceOnUse" x1="562.7" x2="964.7" y1="0" y2="0" spreadMethod="reflect"><stop offset="0.000" stop-color="#3d4896"/><stop offset="0.123" stop-color="#3f519d"/><stop offset="0.152" stop-color="#4059a4"/><stop offset="0.199" stop-color="#447abd"/><stop offset="0.269" stop-color="#56c0ec"/><stop offset="0.298" stop-color="#78c8e4"/><stop offset="0.363" stop-color="#80c6b5"/><stop offset="0.404" stop-color="#91c57d"/><stop offset="0.427" stop-color="#a2c857"/><stop offset="0.462" stop-color="#bcce35"/><stop offset="0.503" stop-color="#dcdc20"/><stop offset="0.532" stop-color="#f7e801"/><stop offset="0.556" stop-color="#fcd900"/><stop offset="0.591" stop-color="#f8ae20"/><stop offset="0.638" stop-color="#ec6c28"/><stop offset="0.661" stop-color="#e75228"/><stop offset="0.702" stop-color="#e43427"/></linearGradient><linearGradient id="g78" gradientUnits="userSpaceOnUse" x1="562.7" x2="964.7" y1="0" y2="0" spreadMethod="reflect"><stop offset="0.000" stop-color="#3c4795"/><stop offset="0.106" stop-color="#3e4c99"/><stop offset="0.160" stop-color="#4055a1"/><stop offset="0.207" stop-color="#4377bb"/><stop offset="0.278" stop-color="#56c0ec"/><stop offset="0.308" stop-color="#78c8e3"/><stop offset="0.361" stop-color="#80c6bb"/><stop offset="0.385" stop-color="#85c5a1"/><stop offset="0.408" stop-color="#90c57f"/><stop offset="0.432" stop-color="#a2c858"/><stop offset="0.467" stop-color="#bcce35"/><stop offset="0.509" stop-color="#dddd1f"/><stop offset="0.538" stop-color="#f8e800"/><stop offset="0.562" stop-color="#fcd701"/><stop offset="0.592" stop-color="#f8b21f"/><stop offset="0.639" stop-color="#ed6f28"/><stop offset="0.663" stop-color="#e75428"/><stop offset="0.710" stop-color="#e43027"/></linearGradient><linearGradient id="g79" gradientUnits="userSpaceOnUse" x1="562.7" x2="964.7" y1="0" y2="0" spreadMethod="reflect"><stop offset="0.000" stop-color="#3b4694"/><stop offset="0.120" stop-color="#3e4b98"/><stop offset="0.174" stop-color="#4055a0"/><stop offset="0.221" stop-color="#447abd"/><stop offset="0.287" stop-color="#57c1eb"/><stop offset="0.311" stop-color="#75c7e5"/><stop offset="0.347" stop-color="#7ec8cc"/><stop offset="0.383" stop-color="#83c6ab"/><stop offset="0.413" stop-color="#90c581"/><stop offset="0.437" stop-color="#a1c858"/><stop offset="0.473" stop-color="#bcce35"/><stop offset="0.515" stop-color="#dedd1d"/><stop offset="0.539" stop-color="#f5e704"/><stop offset="0.551" stop-color="#f9e200"/><stop offset="0.569" stop-color="#fcd403"/><stop offset="0.599" stop-color="#f8ae20"/><stop offset="0.646" stop-color="#eb6a28"/><stop offset="0.664" stop-color="#e75528"/><stop offset="0.718" stop-color="#e32c26"/></linearGradient><linearGradient id="g80" gradientUnits="userSpaceOnUse" x1="562.7" x2="964.7" y1="0" y2="0" spreadMethod="reflect"><stop offset="0.000" stop-color="#3b4494"/><stop offset="0.133" stop-color="#3e4a98"/><stop offset="0.188" stop-color="#4055a1"/><stop offset="0.230" stop-color="#4378bc"/><stop offset="0.291" stop-color="#54bdea"/><stop offset="0.321" stop-color="#78c8e4"/><stop offset="0.375" stop-color="#80c6ba"/><stop offset="0.406" stop-color="#89c595"/><stop offset="0.442" stop-color="#a1c858"/><stop offset="0.472" stop-color="#b8cc38"/><stop offset="0.521" stop-color="#e0de1c"/><stop offset="0.545" stop-color="#f7e702"/><stop offset="0.569" stop-color="#fcd800"/><stop offset="0.606" stop-color="#f7a921"/><stop offset="0.648" stop-color="#ec6d28"/><stop offset="0.672" stop-color="#e75228"/><stop offset="0.727" stop-color="#e32726"/></linearGradient><linearGradient id="g81" gradientUnits="userSpaceOnUse" x1="562.7" x2="964.7" y1="0" y2="0" spreadMethod="reflect"><stop offset="0.000" stop-color="#3a4393"/><stop offset="0.147" stop-color="#3d4a97"/><stop offset="0.202" stop-color="#4057a3"/><stop offset="0.245" stop-color="#457ec0"/><stop offset="0.300" stop-color="#55bfeb"/><stop offset="0.331" stop-color="#79c8e2"/><stop offset="0.386" stop-color="#80c6b6"/><stop offset="0.423" stop-color="#8fc583"/><stop offset="0.447" stop-color="#a1c858"/><stop offset="0.484" stop-color="#bece34"/><stop offset="0.521" stop-color="#dcdc20"/><stop offset="0.551" stop-color="#f8e700"/><stop offset="0.576" stop-color="#fcd503"/><stop offset="0.607" stop-color="#f8ad20"/><stop offset="0.650" stop-color="#ed7028"/><stop offset="0.668" stop-color="#e85828"/><stop offset="0.735" stop-color="#e32325"/></linearGradient><linearGradient id="g82" gradientUnits="userSpaceOnUse" x1="562.7" x2="964.7" y1="0" y2="0" spreadMethod="reflect"><stop offset="0.000" stop-color="#394292"/><stop offset="0.155" stop-color="#3d4896"/><stop offset="0.211" stop-color="#4055a1"/><stop offset="0.254" stop-color="#457ec0"/><stop offset="0.310" stop-color="#57c0ec"/><stop offset="0.335" stop-color="#78c8e4"/><stop offset="0.391" stop-color="#80c6b7"/><stop offset="0.428" stop-color="#8fc584"/><stop offset="0.453" stop-color="#a1c858"/><stop offset="0.484" stop-color="#b9cd37"/><stop offset="0.527" stop-color="#dedd1e"/><stop offset="0.552" stop-color="#f5e703"/><stop offset="0.577" stop-color="#fcd900"/><stop offset="0.608" stop-color="#f8b11f"/><stop offset="0.657" stop-color="#eb6a28"/><stop offset="0.676" stop-color="#e75428"/><stop offset="0.738" stop-color="#e32326"/><stop offset="0.744" stop-color="#e31e25"/></linearGradient><linearGradient id="g83" gradientUnits="userSpaceOnUse" x1="562.7" x2="964.7" y1="0" y2="0" spreadMethod="reflect"><stop offset="0.000" stop-color="#384191"/><stop offset="0.163" stop-color="#3d4896"/><stop offset="0.220" stop-color="#4054a0"/><stop offset="0.257" stop-color="#4377bb"/><stop offset="0.314" stop-color="#54bdea"/><stop offset="0.339" stop-color="#74c7e5"/><stop offset="0.364" stop-color="#7ec8d3"/><stop offset="0.402" stop-color="#81c6b2"/><stop offset="0.439" stop-color="#93c579"/><stop offset="0.458" stop-color="#a2c858"/><stop offset="0.490" stop-color="#bacd36"/><stop offset="0.534" stop-color="#e0de1c"/><stop offset="0.559" stop-color="#f8e800"/><stop offset="0.584" stop-color="#fcd503"/><stop offset="0.615" stop-color="#f7ac21"/><stop offset="0.659" stop-color="#ec6c28"/><stop offset="0.678" stop-color="#e75628"/><stop offset="0.747" stop-color="#e31e25"/><stop offset="0.753" stop-color="#e31e25"/></linearGradient><linearGradient id="g84" gradientUnits="userSpaceOnUse" x1="562.7" x2="964.7" y1="0" y2="0" spreadMethod="reflect"><stop offset="0.000" stop-color="#373f90"/><stop offset="0.178" stop-color="#3d4896"/><stop offset="0.229" stop-color="#4054a0"/><stop offset="0.267" stop-color="#4378bc"/><stop offset="0.324" stop-color="#56c0ec"/><stop offset="0.350" stop-color="#78c8e3"/><stop offset="0.400" stop-color="#80c6b9"/><stop offset="0.419" stop-color="#86c5a0"/><stop offset="0.445" stop-color="#94c678"/><stop offset="0.464" stop-color="#a2c857"/><stop offset="0.489" stop-color="#b6cc3a"/><stop offset="0.534" stop-color="#dcdc20"/><stop offset="0.566" stop-color="#f8e600"/><stop offset="0.585" stop-color="#fcd800"/><stop offset="0.617" stop-color="#f8af20"/><stop offset="0.661" stop-color="#ec6f28"/><stop offset="0.680" stop-color="#e85728"/><stop offset="0.750" stop-color="#e31e25"/><stop offset="0.763" stop-color="#e21e25"/></linearGradient><linearGradient id="g85" gradientUnits="userSpaceOnUse" x1="562.7" x2="964.7" y1="0" y2="0" spreadMethod="reflect"><stop offset="0.000" stop-color="#363d8e"/><stop offset="0.193" stop-color="#3d4896"/><stop offset="0.238" stop-color="#4054a0"/><stop offset="0.277" stop-color="#447abd"/><stop offset="0.328" stop-color="#54beea"/><stop offset="0.354" stop-color="#77c8e4"/><stop offset="0.393" stop-color="#7fc7c5"/><stop offset="0.418" stop-color="#83c6aa"/><stop offset="0.444" stop-color="#8fc583"/><stop offset="0.470" stop-color="#a3c956"/><stop offset="0.496" stop-color="#b8cc39"/><stop offset="0.541" stop-color="#dedd1d"/><stop offset="0.566" stop-color="#f7e801"/><stop offset="0.592" stop-color="#fcd403"/><stop offset="0.618" stop-color="#f8b21e"/><stop offset="0.663" stop-color="#ed7128"/><stop offset="0.682" stop-color="#e85728"/><stop offset="0.753" stop-color="#e31e25"/><stop offset="0.772" stop-color="#e21e25"/></linearGradient><linearGradient id="g86" gradientUnits="userSpaceOnUse" x1="562.7" x2="964.7" y1="0" y2="0" spreadMethod="reflect"><stop offset="0.000" stop-color="#343b8c"/><stop offset="0.176" stop-color="#3b4594"/><stop offset="0.241" stop-color="#3f529e"/><stop offset="0.254" stop-color="#4059a4"/><stop offset="0.287" stop-color="#447dbf"/><stop offset="0.339" stop-color="#58c1eb"/><stop offset="0.359" stop-color="#75c7e5"/><stop offset="0.391" stop-color="#7ec8cb"/><stop offset="0.424" stop-color="#83c6aa"/><stop offset="0.450" stop-color="#90c581"/><stop offset="0.469" stop-color="#9fc85c"/><stop offset="0.502" stop-color="#b9cd37"/><stop offset="0.541" stop-color="#dbdc21"/><stop offset="0.567" stop-color="#f4e604"/><stop offset="0.580" stop-color="#fae100"/><stop offset="0.593" stop-color="#fcd700"/><stop offset="0.626" stop-color="#f7ac21"/><stop offset="0.672" stop-color="#eb6928"/><stop offset="0.691" stop-color="#e75328"/><stop offset="0.756" stop-color="#e31e25"/><stop offset="0.782" stop-color="#e21e25"/></linearGradient><linearGradient id="g87" gradientUnits="userSpaceOnUse" x1="562.7" x2="964.7" y1="0" y2="0" spreadMethod="reflect"><stop offset="0.000" stop-color="#33398b"/><stop offset="0.145" stop-color="#394192"/><stop offset="0.225" stop-color="#3e4b98"/><stop offset="0.258" stop-color="#4054a0"/><stop offset="0.291" stop-color="#4378bc"/><stop offset="0.344" stop-color="#55c0ec"/><stop offset="0.363" stop-color="#73c7e5"/><stop offset="0.377" stop-color="#7bc8dc"/><stop offset="0.423" stop-color="#80c6b3"/><stop offset="0.456" stop-color="#90c57f"/><stop offset="0.476" stop-color="#a0c85a"/><stop offset="0.509" stop-color="#bbcd36"/><stop offset="0.548" stop-color="#dedd1e"/><stop offset="0.575" stop-color="#f8e800"/><stop offset="0.595" stop-color="#fcd900"/><stop offset="0.628" stop-color="#f8af20"/><stop offset="0.674" stop-color="#eb6a28"/><stop offset="0.694" stop-color="#e75328"/><stop offset="0.760" stop-color="#e31e25"/><stop offset="0.793" stop-color="#e21e25"/></linearGradient><linearGradient id="g88" gradientUnits="userSpaceOnUse" x1="562.7" x2="964.7" y1="0" y2="0" spreadMethod="reflect"><stop offset="0.000" stop-color="#313689"/><stop offset="0.134" stop-color="#373f90"/><stop offset="0.234" stop-color="#3e4b98"/><stop offset="0.268" stop-color="#4056a2"/><stop offset="0.301" stop-color="#447dbf"/><stop offset="0.348" stop-color="#55beeb"/><stop offset="0.375" stop-color="#79c8e2"/><stop offset="0.429" stop-color="#81c6b2"/><stop offset="0.455" stop-color="#8cc489"/><stop offset="0.482" stop-color="#a2c857"/><stop offset="0.509" stop-color="#b8cc38"/><stop offset="0.549" stop-color="#dbdb21"/><stop offset="0.576" stop-color="#f5e703"/><stop offset="0.596" stop-color="#fbdb00"/><stop offset="0.609" stop-color="#fbcc0a"/><stop offset="0.629" stop-color="#f8b11f"/><stop offset="0.670" stop-color="#ee7528"/><stop offset="0.690" stop-color="#e85928"/><stop offset="0.763" stop-color="#e31e25"/><stop offset="0.804" stop-color="#e11f26"/></linearGradient><linearGradient id="g89" gradientUnits="userSpaceOnUse" x1="562.7" x2="964.7" y1="0" y2="0" spreadMethod="reflect"><stop offset="0.000" stop-color="#303487"/><stop offset="0.149" stop-color="#373f90"/><stop offset="0.251" stop-color="#3e4d9a"/><stop offset="0.272" stop-color="#40539f"/><stop offset="0.305" stop-color="#4378bc"/><stop offset="0.353" stop-color="#54bcea"/><stop offset="0.373" stop-color="#70c6e6"/><stop offset="0.380" stop-color="#78c8e3"/><stop offset="0.421" stop-color="#7fc7bf"/><stop offset="0.448" stop-color="#87c59c"/><stop offset="0.475" stop-color="#99c76c"/><stop offset="0.489" stop-color="#a4c955"/><stop offset="0.516" stop-color="#bacd36"/><stop offset="0.557" stop-color="#dedd1d"/><stop offset="0.584" stop-color="#f8e700"/><stop offset="0.604" stop-color="#fcd700"/><stop offset="0.631" stop-color="#f8b31e"/><stop offset="0.672" stop-color="#ee7628"/><stop offset="0.692" stop-color="#e85928"/><stop offset="0.767" stop-color="#e31e25"/><stop offset="0.815" stop-color="#e11f26"/></linearGradient><linearGradient id="g90" gradientUnits="userSpaceOnUse" x1="562.7" x2="964.7" y1="0" y2="0" spreadMethod="reflect"><stop offset="0.000" stop-color="#2e3285"/><stop offset="0.145" stop-color="#353c8e"/><stop offset="0.255" stop-color="#3e4c99"/><stop offset="0.282" stop-color="#4055a1"/><stop offset="0.317" stop-color="#457fc0"/><stop offset="0.358" stop-color="#54bbe9"/><stop offset="0.372" stop-color="#65c4e8"/><stop offset="0.386" stop-color="#78c8e3"/><stop offset="0.427" stop-color="#7fc7be"/><stop offset="0.454" stop-color="#88c599"/><stop offset="0.482" stop-color="#9bc767"/><stop offset="0.496" stop-color="#a6c951"/><stop offset="0.516" stop-color="#b7cc39"/><stop offset="0.558" stop-color="#dcdc20"/><stop offset="0.585" stop-color="#f7e801"/><stop offset="0.606" stop-color="#fcd900"/><stop offset="0.640" stop-color="#f7ab21"/><stop offset="0.682" stop-color="#ec6d28"/><stop offset="0.695" stop-color="#e85928"/><stop offset="0.771" stop-color="#e31e25"/><stop offset="0.826" stop-color="#e01f26"/></linearGradient><linearGradient id="g91" gradientUnits="userSpaceOnUse" x1="562.7" x2="964.7" y1="0" y2="0" spreadMethod="reflect"><stop offset="0.000" stop-color="#2e3183"/><stop offset="0.126" stop-color="#32388a"/><stop offset="0.259" stop-color="#3e4b98"/><stop offset="0.286" stop-color="#40539f"/><stop offset="0.314" stop-color="#4272b8"/><stop offset="0.363" stop-color="#54bbe8"/><stop offset="0.370" stop-color="#5ac1eb"/><stop offset="0.391" stop-color="#79c8e2"/><stop offset="0.440" stop-color="#80c6b5"/><stop offset="0.468" stop-color="#8cc48b"/><stop offset="0.496" stop-color="#a3c856"/><stop offset="0.524" stop-color="#bacd36"/><stop offset="0.559" stop-color="#dadb22"/><stop offset="0.587" stop-color="#f6e703"/><stop offset="0.608" stop-color="#fcda00"/><stop offset="0.643" stop-color="#f7ac21"/><stop offset="0.685" stop-color="#ec6d28"/><stop offset="0.699" stop-color="#e85928"/><stop offset="0.769" stop-color="#e31f25"/><stop offset="0.839" stop-color="#e01f26"/></linearGradient><linearGradient id="g92" gradientUnits="userSpaceOnUse" x1="562.7" x2="964.7" y1="0" y2="0" spreadMethod="reflect"><stop offset="0.000" stop-color="#2e3081"/><stop offset="0.128" stop-color="#313689"/><stop offset="0.270" stop-color="#3e4c99"/><stop offset="0.298" stop-color="#4057a3"/><stop offset="0.326" stop-color="#447bbd"/><stop offset="0.369" stop-color="#54bbe8"/><stop offset="0.376" stop-color="#5bc1eb"/><stop offset="0.397" stop-color="#79c8e1"/><stop offset="0.447" stop-color="#80c6b2"/><stop offset="0.483" stop-color="#94c677"/><stop offset="0.497" stop-color="#a0c85a"/><stop offset="0.525" stop-color="#b8cc38"/><stop offset="0.568" stop-color="#dedd1d"/><stop offset="0.589" stop-color="#f4e604"/><stop offset="0.603" stop-color="#fae000"/><stop offset="0.617" stop-color="#fcd304"/><stop offset="0.646" stop-color="#f7ac21"/><stop offset="0.688" stop-color="#ec6c28"/><stop offset="0.702" stop-color="#e85828"/><stop offset="0.773" stop-color="#e31e25"/><stop offset="0.844" stop-color="#df1f26"/><stop offset="0.852" stop-color="#db1f26"/></linearGradient><linearGradient id="g93" gradientUnits="userSpaceOnUse" x1="562.7" x2="964.7" y1="0" y2="0" spreadMethod="reflect"><stop offset="0.000" stop-color="#2e307f"/><stop offset="0.123" stop-color="#2f3487"/><stop offset="0.274" stop-color="#3e4b98"/><stop offset="0.303" stop-color="#4055a1"/><stop offset="0.332" stop-color="#447abd"/><stop offset="0.375" stop-color="#54bce9"/><stop offset="0.389" stop-color="#68c4e8"/><stop offset="0.397" stop-color="#74c7e5"/><stop offset="0.425" stop-color="#7ec8cd"/><stop offset="0.454" stop-color="#82c6ae"/><stop offset="0.483" stop-color="#91c57e"/><stop offset="0.498" stop-color="#9dc760"/><stop offset="0.526" stop-color="#b6cc3b"/><stop offset="0.570" stop-color="#dddc1f"/><stop offset="0.591" stop-color="#f3e605"/><stop offset="0.606" stop-color="#fae100"/><stop offset="0.620" stop-color="#fcd403"/><stop offset="0.649" stop-color="#f7ac21"/><stop offset="0.692" stop-color="#eb6a28"/><stop offset="0.714" stop-color="#e75128"/><stop offset="0.772" stop-color="#e32125"/><stop offset="0.808" stop-color="#e21e25"/><stop offset="0.851" stop-color="#dd1f26"/><stop offset="0.865" stop-color="#d51f26"/></linearGradient><linearGradient id="g94" gradientUnits="userSpaceOnUse" x1="562.7" x2="964.7" y1="0" y2="0" spreadMethod="reflect"><stop offset="0.000" stop-color="#2e2f7d"/><stop offset="0.132" stop-color="#2f3386"/><stop offset="0.286" stop-color="#3e4c9a"/><stop offset="0.308" stop-color="#4054a0"/><stop offset="0.337" stop-color="#447abd"/><stop offset="0.381" stop-color="#54beeb"/><stop offset="0.403" stop-color="#77c8e4"/><stop offset="0.447" stop-color="#80c6bb"/><stop offset="0.462" stop-color="#83c5a8"/><stop offset="0.491" stop-color="#95c675"/><stop offset="0.506" stop-color="#a1c858"/><stop offset="0.535" stop-color="#bbcd36"/><stop offset="0.572" stop-color="#dcdc20"/><stop offset="0.601" stop-color="#f8e600"/><stop offset="0.616" stop-color="#fbdb00"/><stop offset="0.631" stop-color="#fbc90c"/><stop offset="0.653" stop-color="#f7ab21"/><stop offset="0.689" stop-color="#ed7228"/><stop offset="0.711" stop-color="#e75628"/><stop offset="0.777" stop-color="#e31f25"/><stop offset="0.851" stop-color="#de1f26"/><stop offset="0.880" stop-color="#cf1f26"/></linearGradient><linearGradient id="g95" gradientUnits="userSpaceOnUse" x1="562.7" x2="964.7" y1="0" y2="0" spreadMethod="reflect"><stop offset="0.000" stop-color="#2e2e7b"/><stop offset="0.119" stop-color="#2e3183"/><stop offset="0.291" stop-color="#3e4c99"/><stop offset="0.314" stop-color="#4054a0"/><stop offset="0.343" stop-color="#447bbe"/><stop offset="0.388" stop-color="#57c0ec"/><stop offset="0.411" stop-color="#79c8e2"/><stop offset="0.455" stop-color="#80c6b7"/><stop offset="0.485" stop-color="#8dc488"/><stop offset="0.508" stop-color="#a0c85a"/><stop offset="0.538" stop-color="#bacd37"/><stop offset="0.575" stop-color="#dcdc20"/><stop offset="0.605" stop-color="#f9e600"/><stop offset="0.620" stop-color="#fbda00"/><stop offset="0.650" stop-color="#f8b31d"/><stop offset="0.687" stop-color="#ef7a28"/><stop offset="0.709" stop-color="#e85928"/><stop offset="0.777" stop-color="#e32125"/><stop offset="0.806" stop-color="#e21e25"/><stop offset="0.851" stop-color="#df1f26"/><stop offset="0.896" stop-color="#c92026"/></linearGradient><linearGradient id="g96" gradientUnits="userSpaceOnUse" x1="562.7" x2="964.7" y1="0" y2="0" spreadMethod="reflect"><stop offset="0.000" stop-color="#2e2d79"/><stop offset="0.129" stop-color="#2e3182"/><stop offset="0.297" stop-color="#3e4c99"/><stop offset="0.320" stop-color="#4055a1"/><stop offset="0.350" stop-color="#457ec0"/><stop offset="0.388" stop-color="#54bbe8"/><stop offset="0.396" stop-color="#5cc2ea"/><stop offset="0.411" stop-color="#76c7e5"/><stop offset="0.442" stop-color="#7fc7c9"/><stop offset="0.464" stop-color="#81c6b0"/><stop offset="0.495" stop-color="#92c57c"/><stop offset="0.510" stop-color="#9fc85c"/><stop offset="0.541" stop-color="#b9cd37"/><stop offset="0.579" stop-color="#dddc1f"/><stop offset="0.601" stop-color="#f4e604"/><stop offset="0.617" stop-color="#fadf00"/><stop offset="0.624" stop-color="#fcd900"/><stop offset="0.655" stop-color="#f8b020"/><stop offset="0.693" stop-color="#ee7528"/><stop offset="0.716" stop-color="#e75628"/><stop offset="0.784" stop-color="#e31e25"/><stop offset="0.853" stop-color="#df1f26"/><stop offset="0.914" stop-color="#c22026"/></linearGradient><linearGradient id="g97" gradientUnits="userSpaceOnUse" x1="562.7" x2="964.7" y1="0" y2="0" spreadMethod="reflect"><stop offset="0.000" stop-color="#2e2d78"/><stop offset="0.124" stop-color="#2e3080"/><stop offset="0.202" stop-color="#333a8c"/><stop offset="0.296" stop-color="#3d4a98"/><stop offset="0.327" stop-color="#4058a3"/><stop offset="0.358" stop-color="#4684c3"/><stop offset="0.397" stop-color="#57c0ec"/><stop offset="0.412" stop-color="#71c6e6"/><stop offset="0.420" stop-color="#79c8e1"/><stop offset="0.467" stop-color="#81c6b2"/><stop offset="0.490" stop-color="#8bc48c"/><stop offset="0.513" stop-color="#9fc85c"/><stop offset="0.544" stop-color="#bacd36"/><stop offset="0.583" stop-color="#dfdd1d"/><stop offset="0.607" stop-color="#f7e801"/><stop offset="0.630" stop-color="#fcd502"/><stop offset="0.653" stop-color="#f8b51c"/><stop offset="0.684" stop-color="#f18527"/><stop offset="0.715" stop-color="#e85828"/><stop offset="0.785" stop-color="#e31e25"/><stop offset="0.855" stop-color="#df1f26"/><stop offset="0.933" stop-color="#bb2026"/></linearGradient><linearGradient id="g98" gradientUnits="userSpaceOnUse" x1="562.7" x2="964.7" y1="0" y2="0" spreadMethod="reflect"><stop offset="0.000" stop-color="#2e2c76"/><stop offset="0.127" stop-color="#2e307f"/><stop offset="0.207" stop-color="#33398b"/><stop offset="0.303" stop-color="#3e4b98"/><stop offset="0.327" stop-color="#4054a0"/><stop offset="0.350" stop-color="#4272b8"/><stop offset="0.398" stop-color="#55c0ec"/><stop offset="0.414" stop-color="#70c6e6"/><stop offset="0.422" stop-color="#79c8e1"/><stop offset="0.470" stop-color="#81c6b1"/><stop offset="0.494" stop-color="#8cc48a"/><stop offset="0.518" stop-color="#a1c859"/><stop offset="0.542" stop-color="#b6cc3b"/><stop offset="0.582" stop-color="#dbdb21"/><stop offset="0.605" stop-color="#f4e605"/><stop offset="0.621" stop-color="#fadf00"/><stop offset="0.629" stop-color="#fcd900"/><stop offset="0.661" stop-color="#f7ac21"/><stop offset="0.709" stop-color="#ea6328"/><stop offset="0.717" stop-color="#e85828"/><stop offset="0.789" stop-color="#e31e25"/><stop offset="0.860" stop-color="#dd1f26"/><stop offset="0.948" stop-color="#b31f25"/><stop offset="0.956" stop-color="#ad1f24"/></linearGradient><linearGradient id="g99" gradientUnits="userSpaceOnUse" x1="562.7" x2="964.7" y1="0" y2="0" spreadMethod="reflect"><stop offset="0.000" stop-color="#2e2c76"/><stop offset="0.115" stop-color="#2e2f7c"/><stop offset="0.189" stop-color="#303588"/><stop offset="0.312" stop-color="#3e4d9a"/><stop offset="0.328" stop-color="#40539f"/><stop offset="0.353" stop-color="#4271b8"/><stop offset="0.402" stop-color="#57c1eb"/><stop offset="0.418" stop-color="#73c7e5"/><stop offset="0.435" stop-color="#7cc8d8"/><stop offset="0.468" stop-color="#80c6b6"/><stop offset="0.500" stop-color="#90c580"/><stop offset="0.517" stop-color="#9fc85d"/><stop offset="0.550" stop-color="#bcce35"/><stop offset="0.582" stop-color="#dadb21"/><stop offset="0.607" stop-color="#f4e605"/><stop offset="0.615" stop-color="#f9e500"/><stop offset="0.632" stop-color="#fcd800"/><stop offset="0.656" stop-color="#f9b51c"/><stop offset="0.689" stop-color="#f08328"/><stop offset="0.714" stop-color="#e95d28"/><stop offset="0.787" stop-color="#e31e25"/><stop offset="0.861" stop-color="#dd1f26"/><stop offset="0.943" stop-color="#b82026"/><stop offset="0.984" stop-color="#971c20"/></linearGradient><linearGradient id="g100" gradientUnits="userSpaceOnUse" x1="562.7" x2="964.7" y1="0" y2="0" spreadMethod="reflect"><stop offset="0.000" stop-color="#2e2c76"/><stop offset="0.115" stop-color="#2e2f7c"/><stop offset="0.189" stop-color="#303588"/><stop offset="0.311" stop-color="#3e4d9a"/><stop offset="0.328" stop-color="#40539f"/><stop offset="0.352" stop-color="#4271b7"/><stop offset="0.402" stop-color="#57c0ec"/><stop offset="0.418" stop-color="#73c7e5"/><stop offset="0.434" stop-color="#7cc8d8"/><stop offset="0.467" stop-color="#80c6b7"/><stop offset="0.500" stop-color="#90c580"/><stop offset="0.516" stop-color="#9ec85e"/><stop offset="0.549" stop-color="#bbce36"/><stop offset="0.590" stop-color="#e2df19"/><stop offset="0.607" stop-color="#f4e605"/><stop offset="0.615" stop-color="#f9e500"/><stop offset="0.631" stop-color="#fcd800"/><stop offset="0.664" stop-color="#f7aa21"/><stop offset="0.705" stop-color="#eb6a28"/><stop offset="0.721" stop-color="#e75528"/><stop offset="0.787" stop-color="#e31e25"/><stop offset="0.861" stop-color="#dd1f26"/><stop offset="0.951" stop-color="#b21f25"/><stop offset="0.984" stop-color="#981c20"/></linearGradient><linearGradient id="g101" gradientUnits="userSpaceOnUse" x1="562.7" x2="964.7" y1="0" y2="0" spreadMethod="reflect"><stop offset="0.000" stop-color="#2e2c76"/><stop offset="0.127" stop-color="#2e307f"/><stop offset="0.207" stop-color="#33398b"/><stop offset="0.303" stop-color="#3e4b98"/><stop offset="0.326" stop-color="#4054a0"/><stop offset="0.350" stop-color="#4272b8"/><stop offset="0.398" stop-color="#55bfec"/><stop offset="0.422" stop-color="#79c8e1"/><stop offset="0.470" stop-color="#81c6b1"/><stop offset="0.494" stop-color="#8cc48a"/><stop offset="0.518" stop-color="#a1c859"/><stop offset="0.541" stop-color="#b6cc3b"/><stop offset="0.581" stop-color="#dbdb21"/><stop offset="0.605" stop-color="#f4e605"/><stop offset="0.621" stop-color="#fadf00"/><stop offset="0.629" stop-color="#fcd900"/><stop offset="0.661" stop-color="#f7ad21"/><stop offset="0.709" stop-color="#ea6328"/><stop offset="0.717" stop-color="#e85828"/><stop offset="0.788" stop-color="#e31e25"/><stop offset="0.860" stop-color="#dd1f26"/><stop offset="0.948" stop-color="#b31f25"/><stop offset="0.955" stop-color="#ad1f24"/></linearGradient><linearGradient id="g102" gradientUnits="userSpaceOnUse" x1="562.7" x2="964.7" y1="0" y2="0" spreadMethod="reflect"><stop offset="0.000" stop-color="#2e2d78"/><stop offset="0.124" stop-color="#2e3080"/><stop offset="0.202" stop-color="#333a8c"/><stop offset="0.295" stop-color="#3d4a98"/><stop offset="0.327" stop-color="#4058a3"/><stop offset="0.350" stop-color="#4377bb"/><stop offset="0.397" stop-color="#57c0ec"/><stop offset="0.412" stop-color="#71c6e6"/><stop offset="0.420" stop-color="#79c8e1"/><stop offset="0.466" stop-color="#81c6b2"/><stop offset="0.490" stop-color="#8bc48c"/><stop offset="0.513" stop-color="#9fc85c"/><stop offset="0.544" stop-color="#bacd36"/><stop offset="0.583" stop-color="#dfdd1d"/><stop offset="0.606" stop-color="#f7e801"/><stop offset="0.630" stop-color="#fcd602"/><stop offset="0.653" stop-color="#f9b51c"/><stop offset="0.684" stop-color="#f18527"/><stop offset="0.715" stop-color="#e85828"/><stop offset="0.785" stop-color="#e31e25"/><stop offset="0.855" stop-color="#df1f26"/><stop offset="0.933" stop-color="#bb2026"/></linearGradient><linearGradient id="g103" gradientUnits="userSpaceOnUse" x1="562.7" x2="964.7" y1="0" y2="0" spreadMethod="reflect"><stop offset="0.000" stop-color="#2e2d79"/><stop offset="0.129" stop-color="#2e3182"/><stop offset="0.297" stop-color="#3e4c99"/><stop offset="0.320" stop-color="#4055a1"/><stop offset="0.350" stop-color="#457ec0"/><stop offset="0.388" stop-color="#54bbe8"/><stop offset="0.403" stop-color="#69c5e7"/><stop offset="0.411" stop-color="#76c7e5"/><stop offset="0.442" stop-color="#7fc7c9"/><stop offset="0.464" stop-color="#81c6b0"/><stop offset="0.495" stop-color="#92c57c"/><stop offset="0.510" stop-color="#9fc85d"/><stop offset="0.540" stop-color="#b9cd37"/><stop offset="0.579" stop-color="#dddc1f"/><stop offset="0.601" stop-color="#f4e604"/><stop offset="0.617" stop-color="#fadf00"/><stop offset="0.624" stop-color="#fcd900"/><stop offset="0.655" stop-color="#f8b020"/><stop offset="0.693" stop-color="#ee7528"/><stop offset="0.716" stop-color="#e75628"/><stop offset="0.784" stop-color="#e31e25"/><stop offset="0.853" stop-color="#df1f26"/><stop offset="0.913" stop-color="#c22026"/></linearGradient><linearGradient id="g104" gradientUnits="userSpaceOnUse" x1="562.7" x2="964.7" y1="0" y2="0" spreadMethod="reflect"><stop offset="0.000" stop-color="#2e2e7b"/><stop offset="0.119" stop-color="#2e3183"/><stop offset="0.291" stop-color="#3e4c99"/><stop offset="0.314" stop-color="#4054a0"/><stop offset="0.343" stop-color="#447bbe"/><stop offset="0.388" stop-color="#57c0ec"/><stop offset="0.411" stop-color="#79c8e2"/><stop offset="0.455" stop-color="#80c6b7"/><stop offset="0.485" stop-color="#8dc488"/><stop offset="0.508" stop-color="#a0c85a"/><stop offset="0.538" stop-color="#bacd37"/><stop offset="0.575" stop-color="#dcdc20"/><stop offset="0.605" stop-color="#f9e600"/><stop offset="0.620" stop-color="#fbda00"/><stop offset="0.650" stop-color="#f8b31d"/><stop offset="0.687" stop-color="#ef7a28"/><stop offset="0.709" stop-color="#e85928"/><stop offset="0.777" stop-color="#e32125"/><stop offset="0.806" stop-color="#e21e25"/><stop offset="0.851" stop-color="#df1f26"/><stop offset="0.896" stop-color="#c92026"/></linearGradient><linearGradient id="g105" gradientUnits="userSpaceOnUse" x1="562.7" x2="964.7" y1="0" y2="0" spreadMethod="reflect"><stop offset="0.000" stop-color="#2e2f7d"/><stop offset="0.132" stop-color="#2f3386"/><stop offset="0.286" stop-color="#3e4c9a"/><stop offset="0.308" stop-color="#4054a0"/><stop offset="0.337" stop-color="#447abd"/><stop offset="0.381" stop-color="#54beeb"/><stop offset="0.403" stop-color="#77c8e4"/><stop offset="0.447" stop-color="#80c6bb"/><stop offset="0.462" stop-color="#83c5a8"/><stop offset="0.491" stop-color="#95c675"/><stop offset="0.506" stop-color="#a1c858"/><stop offset="0.535" stop-color="#bbcd36"/><stop offset="0.572" stop-color="#dcdc20"/><stop offset="0.601" stop-color="#f8e600"/><stop offset="0.616" stop-color="#fbdb00"/><stop offset="0.631" stop-color="#fbc90c"/><stop offset="0.653" stop-color="#f7ab21"/><stop offset="0.697" stop-color="#eb6828"/><stop offset="0.711" stop-color="#e75628"/><stop offset="0.777" stop-color="#e31e25"/><stop offset="0.851" stop-color="#de1f26"/><stop offset="0.880" stop-color="#cf1f26"/></linearGradient><linearGradient id="g106" gradientUnits="userSpaceOnUse" x1="562.7" x2="964.7" y1="0" y2="0" spreadMethod="reflect"><stop offset="0.000" stop-color="#2e307f"/><stop offset="0.123" stop-color="#2f3487"/><stop offset="0.274" stop-color="#3e4b98"/><stop offset="0.303" stop-color="#4055a1"/><stop offset="0.332" stop-color="#447abd"/><stop offset="0.375" stop-color="#54bce9"/><stop offset="0.389" stop-color="#68c4e8"/><stop offset="0.397" stop-color="#74c7e5"/><stop offset="0.425" stop-color="#7ec8cd"/><stop offset="0.454" stop-color="#82c6ae"/><stop offset="0.483" stop-color="#91c57e"/><stop offset="0.498" stop-color="#9dc760"/><stop offset="0.526" stop-color="#b6cc3b"/><stop offset="0.570" stop-color="#dddc1f"/><stop offset="0.591" stop-color="#f3e605"/><stop offset="0.606" stop-color="#fae100"/><stop offset="0.620" stop-color="#fcd403"/><stop offset="0.649" stop-color="#f7ac21"/><stop offset="0.692" stop-color="#eb6a28"/><stop offset="0.714" stop-color="#e75128"/><stop offset="0.772" stop-color="#e32125"/><stop offset="0.808" stop-color="#e21e25"/><stop offset="0.851" stop-color="#dd1f26"/><stop offset="0.865" stop-color="#d51f26"/></linearGradient><linearGradient id="g107" gradientUnits="userSpaceOnUse" x1="562.7" x2="964.7" y1="0" y2="0" spreadMethod="reflect"><stop offset="0.000" stop-color="#2e3081"/><stop offset="0.128" stop-color="#313689"/><stop offset="0.270" stop-color="#3e4c99"/><stop offset="0.298" stop-color="#4057a3"/><stop offset="0.326" stop-color="#447bbd"/><stop offset="0.369" stop-color="#54bbe8"/><stop offset="0.376" stop-color="#5bc1eb"/><stop offset="0.397" stop-color="#79c8e1"/><stop offset="0.447" stop-color="#80c6b2"/><stop offset="0.483" stop-color="#94c677"/><stop offset="0.497" stop-color="#a0c85a"/><stop offset="0.525" stop-color="#b8cc38"/><stop offset="0.568" stop-color="#dedd1d"/><stop offset="0.589" stop-color="#f4e604"/><stop offset="0.603" stop-color="#fae000"/><stop offset="0.617" stop-color="#fcd304"/><stop offset="0.646" stop-color="#f7ac21"/><stop offset="0.688" stop-color="#ec6c28"/><stop offset="0.703" stop-color="#e85828"/><stop offset="0.774" stop-color="#e31e25"/><stop offset="0.845" stop-color="#df1f26"/><stop offset="0.852" stop-color="#db1f26"/></linearGradient><linearGradient id="g108" gradientUnits="userSpaceOnUse" x1="562.7" x2="964.7" y1="0" y2="0" spreadMethod="reflect"><stop offset="0.000" stop-color="#2e3183"/><stop offset="0.126" stop-color="#32388a"/><stop offset="0.259" stop-color="#3e4b98"/><stop offset="0.287" stop-color="#40539f"/><stop offset="0.315" stop-color="#4272b8"/><stop offset="0.363" stop-color="#54bbe8"/><stop offset="0.370" stop-color="#5ac1eb"/><stop offset="0.391" stop-color="#79c8e2"/><stop offset="0.440" stop-color="#80c6b5"/><stop offset="0.468" stop-color="#8cc48b"/><stop offset="0.496" stop-color="#a3c856"/><stop offset="0.524" stop-color="#bacd36"/><stop offset="0.566" stop-color="#e0de1b"/><stop offset="0.587" stop-color="#f6e703"/><stop offset="0.608" stop-color="#fcda00"/><stop offset="0.643" stop-color="#f7ac21"/><stop offset="0.685" stop-color="#ec6c28"/><stop offset="0.706" stop-color="#e75328"/><stop offset="0.769" stop-color="#e31f25"/><stop offset="0.839" stop-color="#e01f26"/></linearGradient><linearGradient id="g109" gradientUnits="userSpaceOnUse" x1="562.7" x2="964.7" y1="0" y2="0" spreadMethod="reflect"><stop offset="0.000" stop-color="#2e3285"/><stop offset="0.145" stop-color="#353c8e"/><stop offset="0.255" stop-color="#3e4c99"/><stop offset="0.282" stop-color="#4055a1"/><stop offset="0.317" stop-color="#457fc0"/><stop offset="0.358" stop-color="#54bbe9"/><stop offset="0.372" stop-color="#65c4e8"/><stop offset="0.386" stop-color="#78c8e3"/><stop offset="0.427" stop-color="#7fc7be"/><stop offset="0.455" stop-color="#88c599"/><stop offset="0.482" stop-color="#9bc767"/><stop offset="0.496" stop-color="#a6c951"/><stop offset="0.523" stop-color="#bdce34"/><stop offset="0.558" stop-color="#dcdc20"/><stop offset="0.585" stop-color="#f8e801"/><stop offset="0.606" stop-color="#fcd900"/><stop offset="0.641" stop-color="#f7ab21"/><stop offset="0.682" stop-color="#ec6d28"/><stop offset="0.696" stop-color="#e85928"/><stop offset="0.764" stop-color="#e32125"/><stop offset="0.799" stop-color="#e21e25"/><stop offset="0.826" stop-color="#e01f26"/></linearGradient><linearGradient id="g110" gradientUnits="userSpaceOnUse" x1="562.7" x2="964.7" y1="0" y2="0" spreadMethod="reflect"><stop offset="0.000" stop-color="#303487"/><stop offset="0.149" stop-color="#373f90"/><stop offset="0.251" stop-color="#3e4d9a"/><stop offset="0.272" stop-color="#40539f"/><stop offset="0.306" stop-color="#4378bc"/><stop offset="0.353" stop-color="#54bcea"/><stop offset="0.373" stop-color="#70c6e6"/><stop offset="0.380" stop-color="#78c8e3"/><stop offset="0.421" stop-color="#7fc7bf"/><stop offset="0.448" stop-color="#87c59c"/><stop offset="0.475" stop-color="#99c76c"/><stop offset="0.482" stop-color="#9ec85e"/><stop offset="0.516" stop-color="#bacd36"/><stop offset="0.557" stop-color="#dedd1d"/><stop offset="0.584" stop-color="#f8e700"/><stop offset="0.604" stop-color="#fcd701"/><stop offset="0.632" stop-color="#f8b31e"/><stop offset="0.672" stop-color="#ee7628"/><stop offset="0.693" stop-color="#e85928"/><stop offset="0.767" stop-color="#e31e25"/><stop offset="0.815" stop-color="#e11f26"/></linearGradient><linearGradient id="g111" gradientUnits="userSpaceOnUse" x1="562.7" x2="964.7" y1="0" y2="0" spreadMethod="reflect"><stop offset="0.000" stop-color="#313689"/><stop offset="0.134" stop-color="#373f90"/><stop offset="0.234" stop-color="#3e4b98"/><stop offset="0.268" stop-color="#4056a2"/><stop offset="0.301" stop-color="#447cbf"/><stop offset="0.348" stop-color="#54beeb"/><stop offset="0.375" stop-color="#79c8e2"/><stop offset="0.429" stop-color="#81c6b2"/><stop offset="0.455" stop-color="#8cc489"/><stop offset="0.482" stop-color="#a2c857"/><stop offset="0.509" stop-color="#b8cc38"/><stop offset="0.549" stop-color="#dbdb21"/><stop offset="0.576" stop-color="#f5e703"/><stop offset="0.596" stop-color="#fbdb00"/><stop offset="0.609" stop-color="#fbcc0a"/><stop offset="0.630" stop-color="#f8b11f"/><stop offset="0.670" stop-color="#ee7528"/><stop offset="0.690" stop-color="#e85928"/><stop offset="0.764" stop-color="#e31e25"/><stop offset="0.804" stop-color="#e11f26"/></linearGradient><linearGradient id="g112" gradientUnits="userSpaceOnUse" x1="562.7" x2="964.7" y1="0" y2="0" spreadMethod="reflect"><stop offset="0.000" stop-color="#33388b"/><stop offset="0.211" stop-color="#3d4896"/><stop offset="0.258" stop-color="#4054a0"/><stop offset="0.291" stop-color="#4378bc"/><stop offset="0.344" stop-color="#55c0ec"/><stop offset="0.363" stop-color="#73c7e5"/><stop offset="0.377" stop-color="#7bc8dc"/><stop offset="0.423" stop-color="#80c6b3"/><stop offset="0.456" stop-color="#90c57f"/><stop offset="0.476" stop-color="#a0c85a"/><stop offset="0.509" stop-color="#bbcd36"/><stop offset="0.548" stop-color="#dedd1e"/><stop offset="0.575" stop-color="#f8e800"/><stop offset="0.595" stop-color="#fcd900"/><stop offset="0.628" stop-color="#f8af20"/><stop offset="0.674" stop-color="#eb6a28"/><stop offset="0.694" stop-color="#e75328"/><stop offset="0.760" stop-color="#e31e25"/><stop offset="0.793" stop-color="#e21e25"/></linearGradient><linearGradient id="g113" gradientUnits="userSpaceOnUse" x1="562.7" x2="964.7" y1="0" y2="0" spreadMethod="reflect"><stop offset="0.000" stop-color="#343b8c"/><stop offset="0.176" stop-color="#3b4594"/><stop offset="0.241" stop-color="#3f529e"/><stop offset="0.254" stop-color="#4059a4"/><stop offset="0.287" stop-color="#447dbf"/><stop offset="0.339" stop-color="#58c1eb"/><stop offset="0.359" stop-color="#75c7e5"/><stop offset="0.391" stop-color="#7ec8cb"/><stop offset="0.424" stop-color="#83c6aa"/><stop offset="0.450" stop-color="#90c581"/><stop offset="0.470" stop-color="#9fc85c"/><stop offset="0.502" stop-color="#b9cd37"/><stop offset="0.541" stop-color="#dbdc21"/><stop offset="0.567" stop-color="#f4e604"/><stop offset="0.580" stop-color="#fae100"/><stop offset="0.594" stop-color="#fcd701"/><stop offset="0.626" stop-color="#f7ac21"/><stop offset="0.672" stop-color="#eb6928"/><stop offset="0.691" stop-color="#e75328"/><stop offset="0.757" stop-color="#e31e25"/><stop offset="0.783" stop-color="#e21e25"/></linearGradient><linearGradient id="g114" gradientUnits="userSpaceOnUse" x1="562.7" x2="964.7" y1="0" y2="0" spreadMethod="reflect"><stop offset="0.000" stop-color="#363d8e"/><stop offset="0.193" stop-color="#3d4896"/><stop offset="0.245" stop-color="#4058a4"/><stop offset="0.277" stop-color="#447abd"/><stop offset="0.328" stop-color="#54beea"/><stop offset="0.354" stop-color="#77c8e4"/><stop offset="0.393" stop-color="#7fc7c5"/><stop offset="0.419" stop-color="#83c6aa"/><stop offset="0.444" stop-color="#8fc583"/><stop offset="0.470" stop-color="#a3c955"/><stop offset="0.502" stop-color="#bdce35"/><stop offset="0.541" stop-color="#dedd1d"/><stop offset="0.567" stop-color="#f7e801"/><stop offset="0.592" stop-color="#fcd403"/><stop offset="0.618" stop-color="#f8b21e"/><stop offset="0.663" stop-color="#ed7028"/><stop offset="0.682" stop-color="#e85728"/><stop offset="0.753" stop-color="#e31e25"/><stop offset="0.773" stop-color="#e21e25"/></linearGradient><linearGradient id="g115" gradientUnits="userSpaceOnUse" x1="562.7" x2="964.7" y1="0" y2="0" spreadMethod="reflect"><stop offset="0.000" stop-color="#373f90"/><stop offset="0.178" stop-color="#3d4896"/><stop offset="0.229" stop-color="#4054a0"/><stop offset="0.267" stop-color="#4378bc"/><stop offset="0.324" stop-color="#56c0ec"/><stop offset="0.350" stop-color="#78c8e3"/><stop offset="0.401" stop-color="#80c6b9"/><stop offset="0.420" stop-color="#86c5a0"/><stop offset="0.445" stop-color="#94c678"/><stop offset="0.464" stop-color="#a2c857"/><stop offset="0.490" stop-color="#b6cc3a"/><stop offset="0.534" stop-color="#dcdc20"/><stop offset="0.566" stop-color="#f8e600"/><stop offset="0.585" stop-color="#fcd800"/><stop offset="0.617" stop-color="#f8af20"/><stop offset="0.661" stop-color="#ec6e28"/><stop offset="0.680" stop-color="#e85628"/><stop offset="0.750" stop-color="#e31e25"/><stop offset="0.763" stop-color="#e21e25"/></linearGradient><linearGradient id="g116" gradientUnits="userSpaceOnUse" x1="562.7" x2="964.7" y1="0" y2="0" spreadMethod="reflect"><stop offset="0.000" stop-color="#384191"/><stop offset="0.170" stop-color="#3d4896"/><stop offset="0.220" stop-color="#4054a0"/><stop offset="0.257" stop-color="#4377bb"/><stop offset="0.314" stop-color="#54bdea"/><stop offset="0.339" stop-color="#74c7e5"/><stop offset="0.364" stop-color="#7ec8d3"/><stop offset="0.402" stop-color="#81c6b2"/><stop offset="0.440" stop-color="#93c579"/><stop offset="0.458" stop-color="#a2c858"/><stop offset="0.490" stop-color="#bacd36"/><stop offset="0.534" stop-color="#e0de1c"/><stop offset="0.559" stop-color="#f8e800"/><stop offset="0.584" stop-color="#fcd503"/><stop offset="0.615" stop-color="#f7ac21"/><stop offset="0.659" stop-color="#ec6c28"/><stop offset="0.678" stop-color="#e75528"/><stop offset="0.747" stop-color="#e31e25"/><stop offset="0.754" stop-color="#e31e25"/></linearGradient><linearGradient id="g117" gradientUnits="userSpaceOnUse" x1="562.7" x2="964.7" y1="0" y2="0" spreadMethod="reflect"><stop offset="0.000" stop-color="#394292"/><stop offset="0.155" stop-color="#3d4896"/><stop offset="0.211" stop-color="#4055a1"/><stop offset="0.254" stop-color="#457ec0"/><stop offset="0.310" stop-color="#57c0ec"/><stop offset="0.335" stop-color="#78c8e4"/><stop offset="0.391" stop-color="#80c6b7"/><stop offset="0.428" stop-color="#8fc584"/><stop offset="0.453" stop-color="#a1c858"/><stop offset="0.484" stop-color="#b9cd37"/><stop offset="0.527" stop-color="#dedd1e"/><stop offset="0.552" stop-color="#f5e703"/><stop offset="0.571" stop-color="#fbdd00"/><stop offset="0.577" stop-color="#fcd800"/><stop offset="0.608" stop-color="#f8b11f"/><stop offset="0.658" stop-color="#eb6a28"/><stop offset="0.676" stop-color="#e75428"/><stop offset="0.744" stop-color="#e31e25"/></linearGradient><linearGradient id="g118" gradientUnits="userSpaceOnUse" x1="562.7" x2="964.7" y1="0" y2="0" spreadMethod="reflect"><stop offset="0.000" stop-color="#3a4393"/><stop offset="0.147" stop-color="#3d4a97"/><stop offset="0.202" stop-color="#4057a2"/><stop offset="0.239" stop-color="#4377bb"/><stop offset="0.300" stop-color="#55bfeb"/><stop offset="0.331" stop-color="#79c8e2"/><stop offset="0.386" stop-color="#80c6b6"/><stop offset="0.423" stop-color="#8fc583"/><stop offset="0.448" stop-color="#a1c858"/><stop offset="0.484" stop-color="#bece34"/><stop offset="0.527" stop-color="#e2de1a"/><stop offset="0.552" stop-color="#f8e700"/><stop offset="0.576" stop-color="#fcd503"/><stop offset="0.607" stop-color="#f8ad20"/><stop offset="0.650" stop-color="#ed7028"/><stop offset="0.674" stop-color="#e75328"/><stop offset="0.736" stop-color="#e32325"/></linearGradient><linearGradient id="g119" gradientUnits="userSpaceOnUse" x1="562.7" x2="964.7" y1="0" y2="0" spreadMethod="reflect"><stop offset="0.000" stop-color="#3b4494"/><stop offset="0.133" stop-color="#3e4a98"/><stop offset="0.188" stop-color="#4055a1"/><stop offset="0.236" stop-color="#457fc0"/><stop offset="0.291" stop-color="#54bdea"/><stop offset="0.321" stop-color="#78c8e4"/><stop offset="0.376" stop-color="#80c6ba"/><stop offset="0.406" stop-color="#89c595"/><stop offset="0.442" stop-color="#a1c858"/><stop offset="0.473" stop-color="#b8cc38"/><stop offset="0.521" stop-color="#e0de1b"/><stop offset="0.545" stop-color="#f7e701"/><stop offset="0.569" stop-color="#fcd800"/><stop offset="0.600" stop-color="#f8b21f"/><stop offset="0.648" stop-color="#ec6d28"/><stop offset="0.666" stop-color="#e85728"/><stop offset="0.727" stop-color="#e32726"/></linearGradient><linearGradient id="g120" gradientUnits="userSpaceOnUse" x1="562.7" x2="964.7" y1="0" y2="0" spreadMethod="reflect"><stop offset="0.000" stop-color="#3b4694"/><stop offset="0.120" stop-color="#3e4b98"/><stop offset="0.174" stop-color="#4054a0"/><stop offset="0.222" stop-color="#447abd"/><stop offset="0.287" stop-color="#57c1eb"/><stop offset="0.311" stop-color="#75c7e5"/><stop offset="0.347" stop-color="#7ec8cc"/><stop offset="0.383" stop-color="#83c6ab"/><stop offset="0.413" stop-color="#90c581"/><stop offset="0.437" stop-color="#a1c858"/><stop offset="0.473" stop-color="#bcce35"/><stop offset="0.515" stop-color="#dfdd1d"/><stop offset="0.539" stop-color="#f5e704"/><stop offset="0.551" stop-color="#f9e200"/><stop offset="0.563" stop-color="#fcda00"/><stop offset="0.599" stop-color="#f8ae20"/><stop offset="0.647" stop-color="#eb6a28"/><stop offset="0.665" stop-color="#e75528"/><stop offset="0.719" stop-color="#e32b26"/></linearGradient><linearGradient id="g121" gradientUnits="userSpaceOnUse" x1="562.7" x2="964.7" y1="0" y2="0" spreadMethod="reflect"><stop offset="0.000" stop-color="#3c4795"/><stop offset="0.107" stop-color="#3e4c99"/><stop offset="0.160" stop-color="#4054a0"/><stop offset="0.213" stop-color="#447cbf"/><stop offset="0.278" stop-color="#56c0ec"/><stop offset="0.308" stop-color="#78c8e3"/><stop offset="0.355" stop-color="#7fc7c0"/><stop offset="0.379" stop-color="#83c5a9"/><stop offset="0.408" stop-color="#90c57f"/><stop offset="0.432" stop-color="#a2c858"/><stop offset="0.468" stop-color="#bcce35"/><stop offset="0.509" stop-color="#dddd1f"/><stop offset="0.539" stop-color="#f8e800"/><stop offset="0.562" stop-color="#fcd701"/><stop offset="0.592" stop-color="#f8b21f"/><stop offset="0.639" stop-color="#ec6f28"/><stop offset="0.657" stop-color="#e85828"/><stop offset="0.710" stop-color="#e42f27"/></linearGradient><linearGradient id="g122" gradientUnits="userSpaceOnUse" x1="562.7" x2="964.7" y1="0" y2="0" spreadMethod="reflect"><stop offset="0.000" stop-color="#3d4896"/><stop offset="0.117" stop-color="#3f509d"/><stop offset="0.152" stop-color="#4059a4"/><stop offset="0.199" stop-color="#447abd"/><stop offset="0.269" stop-color="#56c0ec"/><stop offset="0.298" stop-color="#78c8e4"/><stop offset="0.363" stop-color="#80c6b5"/><stop offset="0.404" stop-color="#91c57d"/><stop offset="0.427" stop-color="#a2c857"/><stop offset="0.462" stop-color="#bcce35"/><stop offset="0.503" stop-color="#dcdc20"/><stop offset="0.533" stop-color="#f7e801"/><stop offset="0.556" stop-color="#fcd900"/><stop offset="0.591" stop-color="#f8ad20"/><stop offset="0.638" stop-color="#ec6c28"/><stop offset="0.655" stop-color="#e85728"/><stop offset="0.702" stop-color="#e43427"/></linearGradient><linearGradient id="g123" gradientUnits="userSpaceOnUse" x1="562.7" x2="964.7" y1="0" y2="0" spreadMethod="reflect"><stop offset="0.000" stop-color="#3e4b98"/><stop offset="0.110" stop-color="#3f529e"/><stop offset="0.133" stop-color="#4058a3"/><stop offset="0.185" stop-color="#4378bc"/><stop offset="0.260" stop-color="#56c0ec"/><stop offset="0.289" stop-color="#77c8e4"/><stop offset="0.336" stop-color="#7fc7c5"/><stop offset="0.365" stop-color="#83c6ab"/><stop offset="0.399" stop-color="#92c57b"/><stop offset="0.422" stop-color="#a3c856"/><stop offset="0.457" stop-color="#bcce35"/><stop offset="0.503" stop-color="#e1de1b"/><stop offset="0.527" stop-color="#f6e703"/><stop offset="0.550" stop-color="#fbda00"/><stop offset="0.584" stop-color="#f8b11f"/><stop offset="0.631" stop-color="#ed7128"/><stop offset="0.654" stop-color="#e75528"/><stop offset="0.694" stop-color="#e43728"/></linearGradient><linearGradient id="g124" gradientUnits="userSpaceOnUse" x1="562.7" x2="964.7" y1="0" y2="0" spreadMethod="reflect"><stop offset="0.000" stop-color="#3e4e9b"/><stop offset="0.103" stop-color="#4054a0"/><stop offset="0.160" stop-color="#4270b6"/><stop offset="0.246" stop-color="#54bce9"/><stop offset="0.258" stop-color="#5dc2ea"/><stop offset="0.280" stop-color="#76c8e4"/><stop offset="0.326" stop-color="#7fc7c7"/><stop offset="0.355" stop-color="#82c6af"/><stop offset="0.389" stop-color="#8fc582"/><stop offset="0.418" stop-color="#a3c955"/><stop offset="0.452" stop-color="#bcce35"/><stop offset="0.492" stop-color="#dbdc21"/><stop offset="0.526" stop-color="#f8e700"/><stop offset="0.549" stop-color="#fcd701"/><stop offset="0.584" stop-color="#f7ac21"/><stop offset="0.635" stop-color="#ea6628"/><stop offset="0.658" stop-color="#e74f28"/><stop offset="0.687" stop-color="#e43b28"/></linearGradient><linearGradient id="g125" gradientUnits="userSpaceOnUse" x1="562.7" x2="964.7" y1="0" y2="0" spreadMethod="reflect"><stop offset="0.000" stop-color="#3f509d"/><stop offset="0.085" stop-color="#4056a1"/><stop offset="0.147" stop-color="#4271b7"/><stop offset="0.238" stop-color="#54bdea"/><stop offset="0.277" stop-color="#79c8e2"/><stop offset="0.345" stop-color="#81c6b2"/><stop offset="0.385" stop-color="#91c57f"/><stop offset="0.407" stop-color="#a0c85a"/><stop offset="0.447" stop-color="#bcce35"/><stop offset="0.492" stop-color="#dfdd1c"/><stop offset="0.521" stop-color="#f8e800"/><stop offset="0.543" stop-color="#fcd800"/><stop offset="0.577" stop-color="#f8b020"/><stop offset="0.623" stop-color="#ed7228"/><stop offset="0.645" stop-color="#e85628"/><stop offset="0.679" stop-color="#e43e28"/></linearGradient><linearGradient id="g126" gradientUnits="userSpaceOnUse" x1="562.7" x2="964.7" y1="0" y2="0" spreadMethod="reflect"><stop offset="0.000" stop-color="#40539f"/><stop offset="0.056" stop-color="#4057a3"/><stop offset="0.129" stop-color="#4271b7"/><stop offset="0.190" stop-color="#4c9ed4"/><stop offset="0.229" stop-color="#55bfec"/><stop offset="0.263" stop-color="#77c8e4"/><stop offset="0.319" stop-color="#7fc7c1"/><stop offset="0.341" stop-color="#82c6ae"/><stop offset="0.381" stop-color="#92c57b"/><stop offset="0.403" stop-color="#a1c858"/><stop offset="0.442" stop-color="#bdce35"/><stop offset="0.487" stop-color="#dfdd1d"/><stop offset="0.515" stop-color="#f8e800"/><stop offset="0.543" stop-color="#fcd403"/><stop offset="0.577" stop-color="#f7ab21"/><stop offset="0.627" stop-color="#eb6628"/><stop offset="0.649" stop-color="#e75028"/><stop offset="0.672" stop-color="#e54128"/></linearGradient><linearGradient id="g127" gradientUnits="userSpaceOnUse" x1="562.7" x2="964.7" y1="0" y2="0" spreadMethod="reflect"><stop offset="0.000" stop-color="#405ba5"/><stop offset="0.055" stop-color="#4160aa"/><stop offset="0.116" stop-color="#4375ba"/><stop offset="0.199" stop-color="#50afe0"/><stop offset="0.221" stop-color="#57c0ec"/><stop offset="0.255" stop-color="#78c8e4"/><stop offset="0.321" stop-color="#80c6ba"/><stop offset="0.365" stop-color="#8cc489"/><stop offset="0.399" stop-color="#a2c857"/><stop offset="0.432" stop-color="#b9cc37"/><stop offset="0.482" stop-color="#dfdd1d"/><stop offset="0.509" stop-color="#f7e801"/><stop offset="0.537" stop-color="#fcd602"/><stop offset="0.570" stop-color="#f8ae20"/><stop offset="0.615" stop-color="#ed7228"/><stop offset="0.637" stop-color="#e85728"/><stop offset="0.664" stop-color="#e54328"/></linearGradient><linearGradient id="g128" gradientUnits="userSpaceOnUse" x1="562.7" x2="964.7" y1="0" y2="0" spreadMethod="reflect"><stop offset="0.000" stop-color="#4164ad"/><stop offset="0.066" stop-color="#426cb3"/><stop offset="0.110" stop-color="#447dbf"/><stop offset="0.186" stop-color="#50afe0"/><stop offset="0.208" stop-color="#55c0ec"/><stop offset="0.246" stop-color="#78c8e3"/><stop offset="0.312" stop-color="#80c6bb"/><stop offset="0.340" stop-color="#86c5a0"/><stop offset="0.372" stop-color="#95c674"/><stop offset="0.389" stop-color="#a0c85a"/><stop offset="0.427" stop-color="#bacd37"/><stop offset="0.477" stop-color="#dfdd1d"/><stop offset="0.504" stop-color="#f6e702"/><stop offset="0.531" stop-color="#fcd701"/><stop offset="0.564" stop-color="#f8b020"/><stop offset="0.619" stop-color="#eb6728"/><stop offset="0.635" stop-color="#e75528"/><stop offset="0.657" stop-color="#e54628"/></linearGradient><linearGradient id="g129" gradientUnits="userSpaceOnUse" x1="562.7" x2="964.7" y1="0" y2="0" spreadMethod="reflect"><stop offset="0.000" stop-color="#426db4"/><stop offset="0.060" stop-color="#4274b9"/><stop offset="0.119" stop-color="#488dc9"/><stop offset="0.195" stop-color="#55bfec"/><stop offset="0.238" stop-color="#79c8e2"/><stop offset="0.309" stop-color="#80c6b8"/><stop offset="0.352" stop-color="#8dc488"/><stop offset="0.385" stop-color="#a1c858"/><stop offset="0.423" stop-color="#bbcd36"/><stop offset="0.471" stop-color="#dfdd1d"/><stop offset="0.498" stop-color="#f6e702"/><stop offset="0.526" stop-color="#fcd800"/><stop offset="0.564" stop-color="#f7ab21"/><stop offset="0.612" stop-color="#eb6a28"/><stop offset="0.634" stop-color="#e75328"/><stop offset="0.650" stop-color="#e64828"/></linearGradient><linearGradient id="g130" gradientUnits="userSpaceOnUse" x1="562.7" x2="964.7" y1="0" y2="0" spreadMethod="reflect"><stop offset="0.000" stop-color="#4377bb"/><stop offset="0.064" stop-color="#4581c2"/><stop offset="0.129" stop-color="#4c9ed4"/><stop offset="0.182" stop-color="#55bfec"/><stop offset="0.225" stop-color="#78c8e4"/><stop offset="0.289" stop-color="#7fc7bf"/><stop offset="0.316" stop-color="#83c5a9"/><stop offset="0.354" stop-color="#92c57c"/><stop offset="0.381" stop-color="#a3c856"/><stop offset="0.413" stop-color="#b8cc38"/><stop offset="0.466" stop-color="#dfdd1d"/><stop offset="0.499" stop-color="#f8e600"/><stop offset="0.520" stop-color="#fcd900"/><stop offset="0.558" stop-color="#f8ad20"/><stop offset="0.600" stop-color="#ee7528"/><stop offset="0.627" stop-color="#e75528"/><stop offset="0.643" stop-color="#e64a28"/></linearGradient><linearGradient id="g131" gradientUnits="userSpaceOnUse" x1="562.7" x2="964.7" y1="0" y2="0" spreadMethod="reflect"><stop offset="0.000" stop-color="#4683c3"/><stop offset="0.058" stop-color="#478bc8"/><stop offset="0.133" stop-color="#4faadc"/><stop offset="0.170" stop-color="#55c0ec"/><stop offset="0.217" stop-color="#79c8e2"/><stop offset="0.281" stop-color="#7fc7bf"/><stop offset="0.302" stop-color="#81c6af"/><stop offset="0.345" stop-color="#91c57f"/><stop offset="0.371" stop-color="#a1c859"/><stop offset="0.408" stop-color="#b9cc37"/><stop offset="0.461" stop-color="#dfdd1c"/><stop offset="0.493" stop-color="#f8e700"/><stop offset="0.520" stop-color="#fcd403"/><stop offset="0.552" stop-color="#f8af20"/><stop offset="0.605" stop-color="#eb6a28"/><stop offset="0.621" stop-color="#e85728"/><stop offset="0.636" stop-color="#e64c28"/></linearGradient><linearGradient id="g132" gradientUnits="userSpaceOnUse" x1="562.7" x2="964.7" y1="0" y2="0" spreadMethod="reflect"><stop offset="0.000" stop-color="#488fca"/><stop offset="0.052" stop-color="#4995ce"/><stop offset="0.115" stop-color="#4fabde"/><stop offset="0.157" stop-color="#57c1eb"/><stop offset="0.205" stop-color="#79c8e2"/><stop offset="0.273" stop-color="#7fc7bf"/><stop offset="0.294" stop-color="#81c6b0"/><stop offset="0.341" stop-color="#93c57a"/><stop offset="0.367" stop-color="#a3c856"/><stop offset="0.404" stop-color="#bacd37"/><stop offset="0.457" stop-color="#e0de1c"/><stop offset="0.488" stop-color="#f8e700"/><stop offset="0.514" stop-color="#fcd502"/><stop offset="0.551" stop-color="#f7aa21"/><stop offset="0.598" stop-color="#ec6d28"/><stop offset="0.614" stop-color="#e85928"/><stop offset="0.630" stop-color="#e64e28"/></linearGradient><linearGradient id="g133" gradientUnits="userSpaceOnUse" x1="562.7" x2="964.7" y1="0" y2="0" spreadMethod="reflect"><stop offset="0.000" stop-color="#4b9bd2"/><stop offset="0.057" stop-color="#4da1d7"/><stop offset="0.125" stop-color="#53bae8"/><stop offset="0.145" stop-color="#5bc1eb"/><stop offset="0.192" stop-color="#79c8e2"/><stop offset="0.259" stop-color="#7fc7c1"/><stop offset="0.291" stop-color="#83c6aa"/><stop offset="0.327" stop-color="#8fc582"/><stop offset="0.363" stop-color="#a5c953"/><stop offset="0.400" stop-color="#bbce36"/><stop offset="0.451" stop-color="#e0de1b"/><stop offset="0.483" stop-color="#f8e700"/><stop offset="0.509" stop-color="#fcd602"/><stop offset="0.545" stop-color="#f7ac21"/><stop offset="0.597" stop-color="#eb6928"/><stop offset="0.618" stop-color="#e75428"/><stop offset="0.623" stop-color="#e75028"/></linearGradient><linearGradient id="g134" gradientUnits="userSpaceOnUse" x1="562.7" x2="964.7" y1="0" y2="0" spreadMethod="reflect"><stop offset="0.000" stop-color="#4ea6da"/><stop offset="0.056" stop-color="#50acde"/><stop offset="0.118" stop-color="#57c0ec"/><stop offset="0.174" stop-color="#78c8e3"/><stop offset="0.241" stop-color="#7fc7c5"/><stop offset="0.277" stop-color="#82c6ae"/><stop offset="0.318" stop-color="#8fc583"/><stop offset="0.349" stop-color="#a1c859"/><stop offset="0.390" stop-color="#bacd37"/><stop offset="0.441" stop-color="#dddc1f"/><stop offset="0.477" stop-color="#f8e700"/><stop offset="0.503" stop-color="#fcd601"/><stop offset="0.539" stop-color="#f8ae20"/><stop offset="0.590" stop-color="#ec6c28"/><stop offset="0.610" stop-color="#e75628"/><stop offset="0.616" stop-color="#e75228"/></linearGradient><linearGradient id="g135" gradientUnits="userSpaceOnUse" x1="562.7" x2="964.7" y1="0" y2="0" spreadMethod="reflect"><stop offset="0.000" stop-color="#51b1e2"/><stop offset="0.061" stop-color="#53b9e7"/><stop offset="0.096" stop-color="#59c1eb"/><stop offset="0.162" stop-color="#79c8e2"/><stop offset="0.233" stop-color="#7fc7c3"/><stop offset="0.269" stop-color="#82c6ac"/><stop offset="0.309" stop-color="#8fc583"/><stop offset="0.345" stop-color="#a3c856"/><stop offset="0.385" stop-color="#bbcd36"/><stop offset="0.436" stop-color="#dedd1e"/><stop offset="0.472" stop-color="#f8e700"/><stop offset="0.497" stop-color="#fcd701"/><stop offset="0.532" stop-color="#f8af20"/><stop offset="0.583" stop-color="#ec6e28"/><stop offset="0.608" stop-color="#e75428"/></linearGradient><linearGradient id="g136" gradientUnits="userSpaceOnUse" x1="562.7" x2="964.7" y1="0" y2="0" spreadMethod="reflect"><stop offset="0.000" stop-color="#54bce9"/><stop offset="0.055" stop-color="#57c1eb"/><stop offset="0.120" stop-color="#6fc6e6"/><stop offset="0.145" stop-color="#79c8e1"/><stop offset="0.216" stop-color="#7fc7c6"/><stop offset="0.256" stop-color="#82c6ae"/><stop offset="0.301" stop-color="#8fc582"/><stop offset="0.336" stop-color="#a2c857"/><stop offset="0.376" stop-color="#bacd37"/><stop offset="0.431" stop-color="#dfdd1d"/><stop offset="0.461" stop-color="#f6e702"/><stop offset="0.491" stop-color="#fcd701"/><stop offset="0.526" stop-color="#f8b020"/><stop offset="0.581" stop-color="#ec6b28"/><stop offset="0.601" stop-color="#e75528"/></linearGradient><linearGradient id="g137" gradientUnits="userSpaceOnUse" x1="562.7" x2="964.7" y1="0" y2="0" spreadMethod="reflect"><stop offset="0.000" stop-color="#5dc2ea"/><stop offset="0.064" stop-color="#65c4e8"/><stop offset="0.124" stop-color="#79c8e2"/><stop offset="0.203" stop-color="#7fc7c5"/><stop offset="0.243" stop-color="#81c6b0"/><stop offset="0.292" stop-color="#90c581"/><stop offset="0.327" stop-color="#a2c857"/><stop offset="0.372" stop-color="#bcce35"/><stop offset="0.421" stop-color="#dcdc20"/><stop offset="0.456" stop-color="#f7e801"/><stop offset="0.486" stop-color="#fcd701"/><stop offset="0.525" stop-color="#f7ab21"/><stop offset="0.575" stop-color="#ec6d28"/><stop offset="0.595" stop-color="#e85728"/></linearGradient><linearGradient id="g138" gradientUnits="userSpaceOnUse" x1="562.7" x2="964.7" y1="0" y2="0" spreadMethod="reflect"><stop offset="0.000" stop-color="#68c4e8"/><stop offset="0.069" stop-color="#72c7e5"/><stop offset="0.113" stop-color="#7ac8df"/><stop offset="0.186" stop-color="#7fc7c7"/><stop offset="0.235" stop-color="#82c6ad"/><stop offset="0.279" stop-color="#8ec485"/><stop offset="0.318" stop-color="#a2c857"/><stop offset="0.362" stop-color="#bbcd36"/><stop offset="0.421" stop-color="#e1de1a"/><stop offset="0.451" stop-color="#f8e800"/><stop offset="0.480" stop-color="#fcd601"/><stop offset="0.519" stop-color="#f7ac21"/><stop offset="0.568" stop-color="#ec6f28"/><stop offset="0.588" stop-color="#e85928"/></linearGradient><linearGradient id="g139" gradientUnits="userSpaceOnUse" x1="562.7" x2="964.7" y1="0" y2="0" spreadMethod="reflect"><stop offset="0.000" stop-color="#74c7e5"/><stop offset="0.077" stop-color="#79c8e0"/><stop offset="0.165" stop-color="#7fc7c9"/><stop offset="0.218" stop-color="#81c6b0"/><stop offset="0.271" stop-color="#8fc583"/><stop offset="0.310" stop-color="#a2c857"/><stop offset="0.353" stop-color="#bacd37"/><stop offset="0.412" stop-color="#dfdd1d"/><stop offset="0.445" stop-color="#f8e800"/><stop offset="0.474" stop-color="#fcd602"/><stop offset="0.513" stop-color="#f7ac21"/><stop offset="0.562" stop-color="#ed7128"/><stop offset="0.581" stop-color="#e85a28"/></linearGradient><linearGradient id="g140" gradientUnits="userSpaceOnUse" x1="562.7" x2="964.7" y1="0" y2="0" spreadMethod="reflect"><stop offset="0.000" stop-color="#79c8e0"/><stop offset="0.081" stop-color="#7cc8d9"/><stop offset="0.158" stop-color="#7fc7c5"/><stop offset="0.206" stop-color="#81c6af"/><stop offset="0.258" stop-color="#8ec485"/><stop offset="0.302" stop-color="#a3c856"/><stop offset="0.345" stop-color="#bacd37"/><stop offset="0.407" stop-color="#e1de1b"/><stop offset="0.440" stop-color="#f8e700"/><stop offset="0.469" stop-color="#fcd502"/><stop offset="0.507" stop-color="#f7ad21"/><stop offset="0.565" stop-color="#eb6728"/><stop offset="0.574" stop-color="#e85c28"/></linearGradient><linearGradient id="g141" gradientUnits="userSpaceOnUse" x1="562.7" x2="964.7" y1="0" y2="0" spreadMethod="reflect"><stop offset="0.000" stop-color="#7bc8da"/><stop offset="0.090" stop-color="#7ec8d2"/><stop offset="0.185" stop-color="#80c6b4"/><stop offset="0.246" stop-color="#8dc486"/><stop offset="0.293" stop-color="#a3c955"/><stop offset="0.345" stop-color="#bfcf33"/><stop offset="0.397" stop-color="#dfdd1d"/><stop offset="0.431" stop-color="#f7e801"/><stop offset="0.459" stop-color="#fcd900"/><stop offset="0.502" stop-color="#f8ad20"/><stop offset="0.554" stop-color="#ec6f28"/><stop offset="0.568" stop-color="#e95e28"/></linearGradient><linearGradient id="g142" gradientUnits="userSpaceOnUse" x1="562.7" x2="964.7" y1="0" y2="0" spreadMethod="reflect"><stop offset="0.000" stop-color="#7dc8d4"/><stop offset="0.075" stop-color="#7ec8ce"/><stop offset="0.159" stop-color="#80c6b8"/><stop offset="0.215" stop-color="#89c596"/><stop offset="0.257" stop-color="#97c66f"/><stop offset="0.281" stop-color="#a2c857"/><stop offset="0.332" stop-color="#bcce35"/><stop offset="0.393" stop-color="#e1de1b"/><stop offset="0.426" stop-color="#f8e800"/><stop offset="0.454" stop-color="#fcd800"/><stop offset="0.496" stop-color="#f8ad20"/><stop offset="0.547" stop-color="#ed7028"/><stop offset="0.561" stop-color="#e96028"/></linearGradient><linearGradient id="g143" gradientUnits="userSpaceOnUse" x1="562.7" x2="964.7" y1="0" y2="0" spreadMethod="reflect"><stop offset="0.000" stop-color="#7ec8ce"/><stop offset="0.079" stop-color="#7fc7c7"/><stop offset="0.157" stop-color="#81c6b1"/><stop offset="0.222" stop-color="#8ec486"/><stop offset="0.273" stop-color="#a3c956"/><stop offset="0.324" stop-color="#bcce35"/><stop offset="0.384" stop-color="#dfdd1c"/><stop offset="0.421" stop-color="#f8e700"/><stop offset="0.449" stop-color="#fcd800"/><stop offset="0.490" stop-color="#f8ad20"/><stop offset="0.541" stop-color="#ed7128"/><stop offset="0.555" stop-color="#e96128"/></linearGradient><linearGradient id="g144" gradientUnits="userSpaceOnUse" x1="562.7" x2="964.7" y1="0" y2="0" spreadMethod="reflect"><stop offset="0.000" stop-color="#7fc7c8"/><stop offset="0.091" stop-color="#7fc7be"/><stop offset="0.146" stop-color="#82c6ad"/><stop offset="0.210" stop-color="#8ec485"/><stop offset="0.261" stop-color="#a2c857"/><stop offset="0.311" stop-color="#bacd37"/><stop offset="0.379" stop-color="#e2de1a"/><stop offset="0.411" stop-color="#f8e800"/><stop offset="0.443" stop-color="#fcd601"/><stop offset="0.485" stop-color="#f7ad21"/><stop offset="0.539" stop-color="#ec6d28"/><stop offset="0.549" stop-color="#ea6228"/></linearGradient><linearGradient id="g145" gradientUnits="userSpaceOnUse" x1="562.7" x2="964.7" y1="0" y2="0" spreadMethod="reflect"><stop offset="0.000" stop-color="#7fc7c1"/><stop offset="0.077" stop-color="#80c6ba"/><stop offset="0.122" stop-color="#82c6ae"/><stop offset="0.194" stop-color="#8dc487"/><stop offset="0.253" stop-color="#a4c954"/><stop offset="0.303" stop-color="#bbcd36"/><stop offset="0.371" stop-color="#e1de1b"/><stop offset="0.407" stop-color="#f8e700"/><stop offset="0.438" stop-color="#fcd502"/><stop offset="0.479" stop-color="#f7ac21"/><stop offset="0.533" stop-color="#ec6e28"/><stop offset="0.542" stop-color="#ea6428"/></linearGradient><linearGradient id="g146" gradientUnits="userSpaceOnUse" x1="562.7" x2="964.7" y1="0" y2="0" spreadMethod="reflect"><stop offset="0.000" stop-color="#80c6bb"/><stop offset="0.085" stop-color="#81c6b2"/><stop offset="0.161" stop-color="#8ac492"/><stop offset="0.210" stop-color="#98c66e"/><stop offset="0.241" stop-color="#a4c955"/><stop offset="0.295" stop-color="#bcce36"/><stop offset="0.357" stop-color="#dddc1f"/><stop offset="0.398" stop-color="#f8e800"/><stop offset="0.429" stop-color="#fcd800"/><stop offset="0.474" stop-color="#f7ac21"/><stop offset="0.532" stop-color="#eb6a28"/><stop offset="0.536" stop-color="#ea6528"/></linearGradient><linearGradient id="g147" gradientUnits="userSpaceOnUse" x1="562.7" x2="964.7" y1="0" y2="0" spreadMethod="reflect"><stop offset="0.000" stop-color="#80c6b4"/><stop offset="0.071" stop-color="#82c6ac"/><stop offset="0.146" stop-color="#8ac490"/><stop offset="0.194" stop-color="#97c66f"/><stop offset="0.230" stop-color="#a4c954"/><stop offset="0.287" stop-color="#bdce35"/><stop offset="0.353" stop-color="#e0de1c"/><stop offset="0.393" stop-color="#f8e700"/><stop offset="0.424" stop-color="#fcd602"/><stop offset="0.468" stop-color="#f7ab21"/><stop offset="0.530" stop-color="#ea6528"/></linearGradient><linearGradient id="g148" gradientUnits="userSpaceOnUse" x1="562.7" x2="964.7" y1="0" y2="0" spreadMethod="reflect"><stop offset="0.000" stop-color="#83c6aa"/><stop offset="0.070" stop-color="#85c5a2"/><stop offset="0.140" stop-color="#8cc489"/><stop offset="0.214" stop-color="#a3c856"/><stop offset="0.279" stop-color="#becf34"/><stop offset="0.345" stop-color="#e0de1c"/><stop offset="0.384" stop-color="#f8e700"/><stop offset="0.415" stop-color="#fcd800"/><stop offset="0.463" stop-color="#f7aa21"/><stop offset="0.524" stop-color="#eb6628"/></linearGradient><linearGradient id="g149" gradientUnits="userSpaceOnUse" x1="562.7" x2="964.7" y1="0" y2="0" spreadMethod="reflect"><stop offset="0.000" stop-color="#86c5a1"/><stop offset="0.069" stop-color="#88c598"/><stop offset="0.130" stop-color="#8fc583"/><stop offset="0.212" stop-color="#a7c950"/><stop offset="0.272" stop-color="#bfcf33"/><stop offset="0.337" stop-color="#e0de1c"/><stop offset="0.376" stop-color="#f8e800"/><stop offset="0.410" stop-color="#fcd601"/><stop offset="0.453" stop-color="#f8ae20"/><stop offset="0.514" stop-color="#ec6b28"/><stop offset="0.518" stop-color="#eb6728"/></linearGradient><linearGradient id="g150" gradientUnits="userSpaceOnUse" x1="562.7" x2="964.7" y1="0" y2="0" spreadMethod="reflect"><stop offset="0.000" stop-color="#88c597"/><stop offset="0.073" stop-color="#8bc48e"/><stop offset="0.128" stop-color="#94c678"/><stop offset="0.192" stop-color="#a5c953"/><stop offset="0.256" stop-color="#bdce35"/><stop offset="0.324" stop-color="#dddd1e"/><stop offset="0.367" stop-color="#f7e801"/><stop offset="0.401" stop-color="#fcd800"/><stop offset="0.448" stop-color="#f7ac21"/><stop offset="0.512" stop-color="#eb6728"/></linearGradient><linearGradient id="g151" gradientUnits="userSpaceOnUse" x1="562.7" x2="964.7" y1="0" y2="0" spreadMethod="reflect"><stop offset="0.000" stop-color="#8bc48d"/><stop offset="0.068" stop-color="#8ec485"/><stop offset="0.135" stop-color="#9ac768"/><stop offset="0.186" stop-color="#a8c94f"/><stop offset="0.241" stop-color="#bbcd36"/><stop offset="0.316" stop-color="#dedd1e"/><stop offset="0.363" stop-color="#f8e700"/><stop offset="0.397" stop-color="#fcd602"/><stop offset="0.443" stop-color="#f7ab21"/><stop offset="0.498" stop-color="#ed7028"/><stop offset="0.506" stop-color="#eb6728"/></linearGradient><linearGradient id="g152" gradientUnits="userSpaceOnUse" x1="562.7" x2="964.7" y1="0" y2="0" spreadMethod="reflect"><stop offset="0.000" stop-color="#8fc582"/><stop offset="0.067" stop-color="#93c579"/><stop offset="0.133" stop-color="#9fc85d"/><stop offset="0.225" stop-color="#bacd37"/><stop offset="0.309" stop-color="#dfdd1d"/><stop offset="0.355" stop-color="#f8e700"/><stop offset="0.388" stop-color="#fcd701"/><stop offset="0.434" stop-color="#f8ae20"/><stop offset="0.492" stop-color="#ed7028"/><stop offset="0.501" stop-color="#eb6728"/></linearGradient><linearGradient id="g153" gradientUnits="userSpaceOnUse" x1="562.7" x2="964.7" y1="0" y2="0" spreadMethod="reflect"><stop offset="0.000" stop-color="#94c676"/><stop offset="0.066" stop-color="#98c66d"/><stop offset="0.165" stop-color="#abca4a"/><stop offset="0.223" stop-color="#becf34"/><stop offset="0.301" stop-color="#e0de1c"/><stop offset="0.346" stop-color="#f8e700"/><stop offset="0.379" stop-color="#fcd800"/><stop offset="0.429" stop-color="#f7ac21"/><stop offset="0.491" stop-color="#ec6c28"/><stop offset="0.495" stop-color="#eb6728"/></linearGradient><linearGradient id="g154" gradientUnits="userSpaceOnUse" x1="562.7" x2="964.7" y1="0" y2="0" spreadMethod="reflect"><stop offset="0.000" stop-color="#99c76a"/><stop offset="0.065" stop-color="#9dc761"/><stop offset="0.163" stop-color="#b0cb44"/><stop offset="0.220" stop-color="#c2d031"/><stop offset="0.289" stop-color="#dfdd1d"/><stop offset="0.338" stop-color="#f8e700"/><stop offset="0.375" stop-color="#fcd502"/><stop offset="0.420" stop-color="#f8ae20"/><stop offset="0.485" stop-color="#ec6b28"/><stop offset="0.489" stop-color="#eb6728"/></linearGradient><linearGradient id="g155" gradientUnits="userSpaceOnUse" x1="562.7" x2="964.7" y1="0" y2="0" spreadMethod="reflect"><stop offset="0.000" stop-color="#9fc85d"/><stop offset="0.093" stop-color="#a6c951"/><stop offset="0.185" stop-color="#bbcd36"/><stop offset="0.278" stop-color="#dfdd1d"/><stop offset="0.326" stop-color="#f8e800"/><stop offset="0.366" stop-color="#fcd502"/><stop offset="0.414" stop-color="#f7ac21"/><stop offset="0.483" stop-color="#eb6728"/></linearGradient><linearGradient id="g156" gradientUnits="userSpaceOnUse" x1="562.7" x2="964.7" y1="0" y2="0" spreadMethod="reflect"><stop offset="0.000" stop-color="#a5c952"/><stop offset="0.079" stop-color="#abca4b"/><stop offset="0.170" stop-color="#bdce34"/><stop offset="0.265" stop-color="#e0de1c"/><stop offset="0.313" stop-color="#f8e800"/><stop offset="0.356" stop-color="#fcd403"/><stop offset="0.404" stop-color="#f7ad21"/><stop offset="0.471" stop-color="#eb6a28"/><stop offset="0.475" stop-color="#eb6628"/></linearGradient><linearGradient id="g157" gradientUnits="userSpaceOnUse" x1="562.7" x2="964.7" y1="0" y2="0" spreadMethod="reflect"><stop offset="0.000" stop-color="#adca48"/><stop offset="0.086" stop-color="#b3cb3f"/><stop offset="0.179" stop-color="#c8d32e"/><stop offset="0.249" stop-color="#e0de1b"/><stop offset="0.299" stop-color="#f8e800"/><stop offset="0.342" stop-color="#fcd502"/><stop offset="0.393" stop-color="#f7ad21"/><stop offset="0.463" stop-color="#eb6928"/><stop offset="0.467" stop-color="#ea6528"/></linearGradient><linearGradient id="g158" gradientUnits="userSpaceOnUse" x1="562.7" x2="964.7" y1="0" y2="0" spreadMethod="reflect"><stop offset="0.000" stop-color="#b4cb3d"/><stop offset="0.095" stop-color="#bcce35"/><stop offset="0.202" stop-color="#d6d924"/><stop offset="0.244" stop-color="#e7e114"/><stop offset="0.286" stop-color="#f8e700"/><stop offset="0.328" stop-color="#fcd502"/><stop offset="0.382" stop-color="#f7ac21"/><stop offset="0.451" stop-color="#ec6b28"/><stop offset="0.458" stop-color="#ea6428"/></linearGradient><linearGradient id="g159" gradientUnits="userSpaceOnUse" x1="562.7" x2="964.7" y1="0" y2="0" spreadMethod="reflect"><stop offset="0.000" stop-color="#bcce35"/><stop offset="0.097" stop-color="#c4d130"/><stop offset="0.202" stop-color="#dedd1e"/><stop offset="0.270" stop-color="#f8e700"/><stop offset="0.311" stop-color="#fcd701"/><stop offset="0.371" stop-color="#f7ab21"/><stop offset="0.439" stop-color="#ec6d28"/><stop offset="0.450" stop-color="#ea6228"/></linearGradient><linearGradient id="g160" gradientUnits="userSpaceOnUse" x1="562.7" x2="964.7" y1="0" y2="0" spreadMethod="reflect"><stop offset="0.000" stop-color="#c4d130"/><stop offset="0.099" stop-color="#ccd52b"/><stop offset="0.184" stop-color="#e0de1c"/><stop offset="0.250" stop-color="#f8e700"/><stop offset="0.298" stop-color="#fcd602"/><stop offset="0.357" stop-color="#f7ac21"/><stop offset="0.430" stop-color="#eb6a28"/><stop offset="0.442" stop-color="#e96028"/></linearGradient><linearGradient id="g161" gradientUnits="userSpaceOnUse" x1="562.7" x2="964.7" y1="0" y2="0" spreadMethod="reflect"><stop offset="0.000" stop-color="#ccd52b"/><stop offset="0.097" stop-color="#d3d826"/><stop offset="0.159" stop-color="#e0de1b"/><stop offset="0.231" stop-color="#f8e700"/><stop offset="0.282" stop-color="#fcd601"/><stop offset="0.343" stop-color="#f7ac21"/><stop offset="0.419" stop-color="#ec6b28"/><stop offset="0.433" stop-color="#e95e28"/></linearGradient><linearGradient id="g162" gradientUnits="userSpaceOnUse" x1="562.7" x2="964.7" y1="0" y2="0" spreadMethod="reflect"><stop offset="0.000" stop-color="#d3d826"/><stop offset="0.103" stop-color="#dbdc20"/><stop offset="0.188" stop-color="#f1e508"/><stop offset="0.216" stop-color="#f9e600"/><stop offset="0.266" stop-color="#fcd602"/><stop offset="0.330" stop-color="#f7ac21"/><stop offset="0.411" stop-color="#eb6828"/><stop offset="0.425" stop-color="#e85c28"/></linearGradient><linearGradient id="g163" gradientUnits="userSpaceOnUse" x1="562.7" x2="964.7" y1="0" y2="0" spreadMethod="reflect"><stop offset="0.000" stop-color="#dadb21"/><stop offset="0.076" stop-color="#e0de1c"/><stop offset="0.170" stop-color="#f4e605"/><stop offset="0.191" stop-color="#f8e600"/><stop offset="0.247" stop-color="#fcd602"/><stop offset="0.316" stop-color="#f7ab21"/><stop offset="0.396" stop-color="#ec6b28"/><stop offset="0.417" stop-color="#e85a28"/></linearGradient><linearGradient id="g164" gradientUnits="userSpaceOnUse" x1="562.7" x2="964.7" y1="0" y2="0" spreadMethod="reflect"><stop offset="0.000" stop-color="#e3df18"/><stop offset="0.085" stop-color="#e9e211"/><stop offset="0.160" stop-color="#f8e700"/><stop offset="0.229" stop-color="#fcd502"/><stop offset="0.300" stop-color="#f7ac21"/><stop offset="0.389" stop-color="#eb6728"/><stop offset="0.409" stop-color="#e85828"/></linearGradient><linearGradient id="g165" gradientUnits="userSpaceOnUse" x1="562.7" x2="964.7" y1="0" y2="0" spreadMethod="reflect"><stop offset="0.000" stop-color="#ebe20f"/><stop offset="0.090" stop-color="#f2e507"/><stop offset="0.137" stop-color="#f9e600"/><stop offset="0.207" stop-color="#fcd502"/><stop offset="0.288" stop-color="#f7aa21"/><stop offset="0.375" stop-color="#eb6928"/><stop offset="0.401" stop-color="#e75628"/></linearGradient><linearGradient id="g166" gradientUnits="userSpaceOnUse" x1="562.7" x2="964.7" y1="0" y2="0" spreadMethod="reflect"><stop offset="0.000" stop-color="#f3e606"/><stop offset="0.095" stop-color="#f9e600"/><stop offset="0.184" stop-color="#fcd502"/><stop offset="0.269" stop-color="#f7ab21"/><stop offset="0.361" stop-color="#eb6a28"/><stop offset="0.387" stop-color="#e85728"/><stop offset="0.394" stop-color="#e75428"/></linearGradient><linearGradient id="g167" gradientUnits="userSpaceOnUse" x1="562.7" x2="964.7" y1="0" y2="0" spreadMethod="reflect"><stop offset="0.000" stop-color="#f9e600"/><stop offset="0.119" stop-color="#fbdd00"/><stop offset="0.158" stop-color="#fcd503"/><stop offset="0.248" stop-color="#f8ad20"/><stop offset="0.344" stop-color="#ec6c28"/><stop offset="0.380" stop-color="#e75528"/><stop offset="0.386" stop-color="#e75228"/></linearGradient><linearGradient id="g168" gradientUnits="userSpaceOnUse" x1="562.7" x2="964.7" y1="0" y2="0" spreadMethod="reflect"><stop offset="0.000" stop-color="#fae000"/><stop offset="0.114" stop-color="#fcd800"/><stop offset="0.214" stop-color="#f8b41d"/><stop offset="0.315" stop-color="#ee7728"/><stop offset="0.369" stop-color="#e75428"/><stop offset="0.378" stop-color="#e75028"/></linearGradient><linearGradient id="g169" gradientUnits="userSpaceOnUse" x1="562.7" x2="964.7" y1="0" y2="0" spreadMethod="reflect"><stop offset="0.000" stop-color="#fcda00"/><stop offset="0.083" stop-color="#fcd403"/><stop offset="0.176" stop-color="#f9ba18"/><stop offset="0.220" stop-color="#f6a622"/><stop offset="0.315" stop-color="#ec6d28"/><stop offset="0.352" stop-color="#e75628"/><stop offset="0.371" stop-color="#e64e28"/></linearGradient><linearGradient id="g170" gradientUnits="userSpaceOnUse" x1="562.7" x2="964.7" y1="0" y2="0" spreadMethod="reflect"><stop offset="0.000" stop-color="#fbd106"/><stop offset="0.088" stop-color="#fac90c"/><stop offset="0.179" stop-color="#f8af20"/><stop offset="0.279" stop-color="#ef7a28"/><stop offset="0.342" stop-color="#e75428"/><stop offset="0.364" stop-color="#e64c28"/></linearGradient><linearGradient id="g171" gradientUnits="userSpaceOnUse" x1="562.7" x2="964.7" y1="0" y2="0" spreadMethod="reflect"><stop offset="0.000" stop-color="#fac70e"/><stop offset="0.092" stop-color="#f9be15"/><stop offset="0.166" stop-color="#f7a821"/><stop offset="0.258" stop-color="#ef7c28"/><stop offset="0.327" stop-color="#e75528"/><stop offset="0.356" stop-color="#e64a28"/></linearGradient><linearGradient id="g172" gradientUnits="userSpaceOnUse" x1="562.7" x2="964.7" y1="0" y2="0" spreadMethod="reflect"><stop offset="0.000" stop-color="#f9bd16"/><stop offset="0.090" stop-color="#f8b41d"/><stop offset="0.163" stop-color="#f59f23"/><stop offset="0.259" stop-color="#ed7128"/><stop offset="0.314" stop-color="#e75428"/><stop offset="0.349" stop-color="#e64828"/></linearGradient><linearGradient id="g173" gradientUnits="userSpaceOnUse" x1="562.7" x2="964.7" y1="0" y2="0" spreadMethod="reflect"><stop offset="0.000" stop-color="#f8b31e"/><stop offset="0.077" stop-color="#f7ac21"/><stop offset="0.171" stop-color="#f39125"/><stop offset="0.271" stop-color="#e96128"/><stop offset="0.339" stop-color="#e54628"/><stop offset="0.342" stop-color="#e54528"/></linearGradient><linearGradient id="g174" gradientUnits="userSpaceOnUse" x1="562.7" x2="964.7" y1="0" y2="0" spreadMethod="reflect"><stop offset="0.000" stop-color="#f7a821"/><stop offset="0.086" stop-color="#f59f23"/><stop offset="0.181" stop-color="#f08228"/><stop offset="0.279" stop-color="#e75528"/><stop offset="0.335" stop-color="#e54328"/></linearGradient><linearGradient id="g175" gradientUnits="userSpaceOnUse" x1="562.7" x2="964.7" y1="0" y2="0" spreadMethod="reflect"><stop offset="0.000" stop-color="#f59c23"/><stop offset="0.085" stop-color="#f39425"/><stop offset="0.177" stop-color="#ee7928"/><stop offset="0.267" stop-color="#e75328"/><stop offset="0.327" stop-color="#e54028"/></linearGradient><linearGradient id="g176" gradientUnits="userSpaceOnUse" x1="562.7" x2="964.7" y1="0" y2="0" spreadMethod="reflect"><stop offset="0.000" stop-color="#f39125"/><stop offset="0.088" stop-color="#f18827"/><stop offset="0.173" stop-color="#ec6f28"/><stop offset="0.248" stop-color="#e75328"/><stop offset="0.320" stop-color="#e43e28"/></linearGradient><linearGradient id="g177" gradientUnits="userSpaceOnUse" x1="562.7" x2="964.7" y1="0" y2="0" spreadMethod="reflect"><stop offset="0.000" stop-color="#f18527"/><stop offset="0.083" stop-color="#ef7e28"/><stop offset="0.180" stop-color="#ea6228"/><stop offset="0.312" stop-color="#e43b28"/></linearGradient><linearGradient id="g178" gradientUnits="userSpaceOnUse" x1="562.7" x2="964.7" y1="0" y2="0" spreadMethod="reflect"><stop offset="0.000" stop-color="#ef7a28"/><stop offset="0.086" stop-color="#ed7228"/><stop offset="0.305" stop-color="#e43728"/></linearGradient><linearGradient id="g179" gradientUnits="userSpaceOnUse" x1="562.7" x2="964.7" y1="0" y2="0" spreadMethod="reflect"><stop offset="0.000" stop-color="#ec6e28"/><stop offset="0.079" stop-color="#eb6828"/><stop offset="0.280" stop-color="#e43a28"/><stop offset="0.298" stop-color="#e43327"/></linearGradient><linearGradient id="g180" gradientUnits="userSpaceOnUse" x1="562.7" x2="964.7" y1="0" y2="0" spreadMethod="reflect"><stop offset="0.000" stop-color="#ea6328"/><stop offset="0.089" stop-color="#e85b28"/><stop offset="0.230" stop-color="#e54228"/><stop offset="0.290" stop-color="#e43027"/></linearGradient><linearGradient id="g181" gradientUnits="userSpaceOnUse" x1="562.7" x2="964.7" y1="0" y2="0" spreadMethod="reflect"><stop offset="0.000" stop-color="#e85828"/><stop offset="0.124" stop-color="#e74f28"/><stop offset="0.244" stop-color="#e43727"/><stop offset="0.281" stop-color="#e32b26"/></linearGradient><linearGradient id="g182" gradientUnits="userSpaceOnUse" x1="562.7" x2="964.7" y1="0" y2="0" spreadMethod="reflect"><stop offset="0.000" stop-color="#e74f28"/><stop offset="0.131" stop-color="#e54628"/><stop offset="0.221" stop-color="#e43427"/><stop offset="0.270" stop-color="#e32626"/></linearGradient><linearGradient id="g183" gradientUnits="userSpaceOnUse" x1="562.7" x2="964.7" y1="0" y2="0" spreadMethod="reflect"><stop offset="0.000" stop-color="#e54628"/><stop offset="0.121" stop-color="#e43f28"/><stop offset="0.242" stop-color="#e32526"/><stop offset="0.260" stop-color="#e32025"/></linearGradient><linearGradient id="g184" gradientUnits="userSpaceOnUse" x1="562.7" x2="964.7" y1="0" y2="0" spreadMethod="reflect"><stop offset="0.000" stop-color="#e43e28"/><stop offset="0.106" stop-color="#e43828"/><stop offset="0.247" stop-color="#e31e25"/><stop offset="0.249" stop-color="#e31e25"/></linearGradient><linearGradient id="g185" gradientUnits="userSpaceOnUse" x1="562.7" x2="964.7" y1="0" y2="0" spreadMethod="reflect"><stop offset="0.000" stop-color="#e43427"/><stop offset="0.105" stop-color="#e42e27"/><stop offset="0.212" stop-color="#e31e25"/><stop offset="0.238" stop-color="#e21e25"/></linearGradient><linearGradient id="g186" gradientUnits="userSpaceOnUse" x1="562.7" x2="964.7" y1="0" y2="0" spreadMethod="reflect"><stop offset="0.000" stop-color="#e32a26"/><stop offset="0.117" stop-color="#e32325"/><stop offset="0.178" stop-color="#e31e25"/><stop offset="0.227" stop-color="#e21e25"/></linearGradient><linearGradient id="g187" gradientUnits="userSpaceOnUse" x1="562.7" x2="964.7" y1="0" y2="0" spreadMethod="reflect"><stop offset="0.000" stop-color="#e31e25"/><stop offset="0.212" stop-color="#e21e25"/></linearGradient><linearGradient id="g188" gradientUnits="userSpaceOnUse" x1="562.7" x2="964.7" y1="0" y2="0" spreadMethod="reflect"><stop offset="0.000" stop-color="#e21e25"/><stop offset="0.186" stop-color="#e11f26"/></linearGradient><linearGradient id="g189" gradientUnits="userSpaceOnUse" x1="562.7" x2="964.7" y1="0" y2="0" spreadMethod="reflect"><stop offset="0.000" stop-color="#e11f26"/><stop offset="0.158" stop-color="#df1f26"/></linearGradient><linearGradient id="g190" gradientUnits="userSpaceOnUse" x1="562.7" x2="964.7" y1="0" y2="0" spreadMethod="reflect"><stop offset="0.000" stop-color="#de1f26"/><stop offset="0.140" stop-color="#d81f26"/></linearGradient><linearGradient id="g191" gradientUnits="userSpaceOnUse" x1="562.7" x2="964.7" y1="0" y2="0" spreadMethod="reflect"><stop offset="0.000" stop-color="#d51f26"/><stop offset="0.124" stop-color="#d11f26"/></linearGradient><linearGradient id="g192" gradientUnits="userSpaceOnUse" x1="562.7" x2="964.7" y1="0" y2="0" spreadMethod="reflect"><stop offset="0.000" stop-color="#cd1f26"/><stop offset="0.108" stop-color="#ca2026"/></linearGradient><linearGradient id="g193" gradientUnits="userSpaceOnUse" x1="562.7" x2="964.7" y1="0" y2="0" spreadMethod="reflect"><stop offset="0.000" stop-color="#c52026"/><stop offset="0.090" stop-color="#c42026"/></linearGradient><linearGradient id="g194" gradientUnits="userSpaceOnUse" x1="562.7" x2="964.7" y1="0" y2="0" spreadMethod="reflect"><stop offset="0.000" stop-color="#be2026"/><stop offset="0.072" stop-color="#bd2026"/></linearGradient><linearGradient id="g195" gradientUnits="userSpaceOnUse" x1="562.7" x2="964.7" y1="0" y2="0" spreadMethod="reflect"><stop offset="0.000" stop-color="#b72026"/><stop offset="0.056" stop-color="#b62026"/></linearGradient><linearGradient id="g196" gradientUnits="userSpaceOnUse" x1="562.7" x2="964.7" y1="0" y2="0" spreadMethod="reflect"><stop offset="0.000" stop-color="#ad1f24"/><stop offset="0.043" stop-color="#ac1e24"/></linearGradient><linearGradient id="g197" gradientUnits="userSpaceOnUse" x1="562.7" x2="964.7" y1="0" y2="0" spreadMethod="reflect"><stop offset="0.000" stop-color="#a31d22"/><stop offset="0.031" stop-color="#a31d22"/></linearGradient><linearGradient id="g198" gradientUnits="userSpaceOnUse" x1="562.7" x2="964.7" y1="0" y2="0" spreadMethod="reflect"><stop offset="0.000" stop-color="#9a1c20"/><stop offset="0.019" stop-color="#9a1c20"/></linearGradient><linearGradient id="g199" gradientUnits="userSpaceOnUse" x1="562.7" x2="964.7" y1="0" y2="0" spreadMethod="reflect"><stop offset="0.000" stop-color="#901b1e"/><stop offset="0.006" stop-color="#901b1e"/></linearGradient><clipPath id="sclip"><path d="M160.7 0 160.7 279.6 184.8 314.1 196.9 325.8 211 340.1 242.4 373.6 288.7 421.2 294.7 428.1 301.4 436.7 314.8 455.9 329.5 479 345 504.7 385.8 574.3 410.6 614.3 424 634.5 436.1 651.5 448.1 667.3 459.5 681 472.9 695.6 486.3 708.3 499.7 719.1 512.5 727.5 518.5 730.9 525.2 734.1 531.2 736.6 537.2 738.6 543.9 740.4 550 741.5 556.7 742.2 562.7 742.5 568.7 742.2 575.4 741.5 581.5 740.4 588.2 738.6 594.2 736.6 600.2 734.1 606.9 730.9 613 727.5 625.7 719.1 639.1 708.3 652.5 695.6 665.9 681 677.3 667.3 689.3 651.5 701.4 634.5 714.8 614.3 739.6 574.3 780.5 504.7 795.9 479 810.6 455.9 824 436.7 830.7 428.1 836.7 421.2 883 373.6 914.5 340.1 928.5 325.8 940.6 314.1 964.7 279.6 964.7 0z"/></clipPath></defs><g stroke-width="0.5"><path fill="url(#g0)" stroke="url(#g0)" d="M562.7 94.8 562.7 94.8 567.6 102 557.8 102z"/><path fill="url(#g1)" stroke="url(#g1)" d="M560.7 97.7 564.7 97.7 572.6 109.2 552.8 109.2z"/><path fill="url(#g2)" stroke="url(#g2)" d="M555.8 104.9 569.6 104.9 577.5 116.3 562.7 116.6 547.9 116.3z"/><path fill="url(#g3)" stroke="url(#g3)" d="M550.8 112 574.6 112 582.5 123.3 562.7 123.8 542.9 123.3z"/><path fill="url(#g4)" stroke="url(#g4)" d="M546.2 118.6 562.7 119 579.2 118.6 588 130.4 562.7 130.8 537.4 130.4z"/><path fill="url(#g5)" stroke="url(#g5)" d="M541.9 124.7 562.7 125.3 583.5 124.7 595.4 137.6 562.7 138.4 530 137.6z"/><path fill="url(#g6)" stroke="url(#g6)" d="M534.2 133.4 562.7 134 591.2 133.4 602.6 144.7 582.5 145.7 562.7 146.1 542.9 145.7 522.8 144.7z"/><path fill="url(#g7)" stroke="url(#g7)" d="M527 140.6 544.9 141.4 562.7 141.6 580.5 141.4 598.4 140.6 609.4 151.7 585.9 153.2 562.7 153.7 539.5 153.2 516 151.7z"/><path fill="url(#g8)" stroke="url(#g8)" d="M519.9 147.7 541.4 148.9 562.7 149.3 584 148.9 605.5 147.7 616 158.4 589 160.6 562.7 161.4 536.4 160.6 509.4 158.4z"/><path fill="url(#g9)" stroke="url(#g9)" d="M513.2 154.5 538.4 156.3 562.7 156.9 587 156.3 612.2 154.5 622.3 165.1 592.1 168.1 562.7 169.1 533.3 168.1 503.1 165.1z"/><path fill="url(#g10)" stroke="url(#g10)" d="M508.2 159.7 535.8 162 562.7 162.8 589.6 162 617.2 159.7 630.8 174.3 613.3 176.7 596.3 178.4 579.5 179.4 562.7 179.8 545.9 179.4 529.1 178.4 512.1 176.7 494.6 174.3z"/><path fill="url(#g11)" stroke="url(#g11)" d="M502.9 165.3 533.2 168.3 562.7 169.3 592.2 168.3 622.5 165.3 644.6 189 623.3 192.8 602.6 195.5 582.4 197.1 562.7 197.6 543 197.1 522.8 195.5 502.1 192.8 480.8 189z"/><path fill="url(#g12)" stroke="url(#g12)" d="M484.9 184.6 504.6 187.9 524.3 190.2 543.5 191.6 562.7 192.1 581.9 191.6 601.1 190.2 620.8 187.9 640.5 184.6 651.6 196.2 627 201.2 604.5 204.6 583.5 206.6 562.7 207.3 541.9 206.6 520.9 204.6 498.4 201.2 473.8 196.2z"/><path fill="url(#g13)" stroke="url(#g13)" d="M476.5 193.4 499.8 197.9 521.9 201 542.6 202.8 562.7 203.4 582.8 202.8 603.5 201 625.6 197.9 648.9 193.4 656.2 200.9 629.7 206.9 606.6 210.8 584.5 213.2 562.7 213.9 540.9 213.2 518.8 210.8 495.7 206.9 469.2 200.9z"/><path fill="url(#g14)" stroke="url(#g14)" d="M471.8 198.2 497.3 203.6 520 207.2 541.5 209.4 562.7 210.1 583.9 209.4 605.4 207.2 628.1 203.6 653.6 198.2 660.6 205.4 632.8 212.3 608.7 216.9 585.2 219.7 562.7 220.6 540.2 219.7 516.7 216.9 492.6 212.3 464.8 205.4z"/><path fill="url(#g15)" stroke="url(#g15)" d="M467.4 202.8 494.4 209.1 517.9 213.3 540.5 215.8 562.7 216.7 584.9 215.8 607.5 213.3 631 209.1 658 202.8 664.8 209.8 635.9 217.8 610 223.2 586.2 226.3 574.3 227.1 562.7 227.3 551.1 227.1 539.2 226.3 515.4 223.2 489.5 217.8 460.6 209.8z"/><path fill="url(#g16)" stroke="url(#g16)" d="M463.2 207.1 491.4 214.5 516.3 219.4 539.8 222.2 562.7 223.2 585.6 222.2 609.1 219.4 634 214.5 662.2 207.1 669.2 214.3 638.6 223.5 624.8 226.9 612 229.6 599.6 231.6 587.2 233.2 574.8 234.1 562.7 234.4 550.6 234.1 538.2 233.2 525.8 231.6 513.4 229.6 500.6 226.9 486.8 223.5 456.2 214.3z"/><path fill="url(#g17)" stroke="url(#g17)" d="M458.9 211.6 488.3 220 514.6 225.7 526.7 227.6 538.8 229 550.9 229.8 562.7 230.1 574.5 229.8 586.6 229 598.7 227.6 610.8 225.7 637.1 220 666.5 211.6 673.5 218.9 641 229.4 627.3 233.2 614 236.2 600.8 238.6 587.8 240.4 575.3 241.4 562.7 241.7 550.1 241.4 537.6 240.4 524.6 238.6 511.4 236.2 498.1 233.2 484.4 229.4 451.9 218.9z"/><path fill="url(#g18)" stroke="url(#g18)" d="M454.3 216.3 485.7 226.1 499.5 229.7 512.5 232.5 525.5 234.8 538.1 236.3 550.4 237.3 562.7 237.6 575 237.3 587.3 236.3 599.9 234.8 612.9 232.5 625.9 229.7 639.7 226.1 671.1 216.3 677.6 223 659.2 229.8 643.5 235 628.9 239.3 615.2 242.7 601.8 245.3 588.4 247.3 575.3 248.4 562.7 248.7 550.1 248.4 537 247.3 523.6 245.3 510.2 242.7 496.5 239.3 481.9 235 466.2 229.8 447.8 223z"/><path fill="url(#g19)" stroke="url(#g19)" d="M449.7 221.1 482.8 232.4 497.1 236.5 510.7 239.7 523.9 242.2 537.1 244 549.9 245.1 562.7 245.5 575.5 245.1 588.3 244 601.5 242.2 614.7 239.7 628.3 236.5 642.6 232.4 675.7 221.1 680.7 226.2 661.8 233.5 646.1 239.1 630.7 243.9 616.6 247.6 602.8 250.5 589.4 252.6 576.1 253.8 562.7 254.2 549.3 253.8 536 252.6 522.6 250.5 508.8 247.6 494.7 243.9 479.3 239.1 463.6 233.5 444.7 226.2z"/><path fill="url(#g20)" stroke="url(#g20)" d="M446.5 224.4 465.1 231.3 480.6 236.6 495.7 241.2 509.7 244.7 523.2 247.5 536.8 249.5 549.9 250.6 562.7 251 575.5 250.6 588.6 249.5 602.2 247.5 615.7 244.7 629.7 241.2 644.8 236.6 660.3 231.3 678.9 224.4 683.7 229.3 664.4 237.2 647.8 243.4 632.5 248.5 618 252.5 603.8 255.7 589.7 258 576 259.3 562.7 259.7 549.4 259.3 535.7 258 521.6 255.7 507.4 252.5 492.9 248.5 477.6 243.4 461 237.2 441.7 229.3z"/><path fill="url(#g21)" stroke="url(#g21)" d="M443.5 227.5 462.5 235.1 478.4 240.8 493.9 245.8 508.2 249.6 522.2 252.6 535.7 254.8 549.2 256 562.7 256.5 576.2 256 589.7 254.8 603.2 252.6 617.2 249.6 631.5 245.8 647 240.8 662.9 235.1 681.9 227.5 686.7 232.3 666.8 240.8 649.5 247.7 633.8 253.1 619.3 257.4 604.4 260.9 590.4 263.3 576.3 264.7 562.7 265.2 549.1 264.7 535 263.3 521 260.9 506.1 257.4 491.6 253.1 475.9 247.7 458.6 240.8 438.7 232.3z"/><path fill="url(#g22)" stroke="url(#g22)" d="M440.5 230.5 460.5 238.8 477.2 245.2 492.6 250.4 506.9 254.5 521.6 257.8 535.4 260.1 549.3 261.5 562.7 261.9 576.1 261.5 590 260.1 603.8 257.8 618.5 254.5 632.8 250.4 648.2 245.2 664.9 238.8 684.9 230.5 689.6 235.3 669.3 244.4 651.1 252 635.5 257.7 620.2 262.4 605.4 266.1 591.1 268.7 576.7 270.2 562.7 270.7 548.7 270.2 534.3 268.7 520 266.1 505.2 262.4 489.9 257.7 474.3 252 456.1 244.4 435.8 235.3z"/><path fill="url(#g23)" stroke="url(#g23)" d="M437.5 233.5 457.6 242.2 475.5 249.4 490.9 254.9 506 259.4 520.6 262.9 534.7 265.4 548.9 266.9 562.7 267.4 576.5 266.9 590.7 265.4 604.8 262.9 619.4 259.4 634.5 254.9 649.9 249.4 667.8 242.2 687.9 233.5 692.6 238.2 670.5 248.6 652.8 256.3 636.3 262.6 621.2 267.6 606 271.5 591.3 274.3 577 275.9 562.7 276.4 548.4 275.9 534.1 274.3 519.4 271.5 504.2 267.6 489.1 262.6 472.6 256.3 454.9 248.6 432.8 238.2z"/><path fill="url(#g24)" stroke="url(#g24)" d="M434.5 236.5 455.9 246.3 473.8 253.8 489.6 259.7 505 264.6 520 268.3 534.5 271 548.6 272.5 562.7 273 576.8 272.5 590.9 271 605.4 268.3 620.4 264.6 635.8 259.7 651.6 253.8 669.5 246.3 690.9 236.5 695.6 241.1 672.5 252.5 655.3 260.3 638 267.3 622.5 272.6 607 276.8 591.9 279.8 577.3 281.5 562.7 282.1 548.1 281.5 533.5 279.8 518.4 276.8 502.9 272.6 487.4 267.3 470.1 260.3 452.9 252.5 429.8 241.1z"/><path fill="url(#g25)" stroke="url(#g25)" d="M431.6 239.4 453.9 250.1 471.3 257.9 488 264.4 503.7 269.6 519 273.7 533.8 276.5 548.3 278.2 562.7 278.7 577.1 278.2 591.6 276.5 606.4 273.7 621.7 269.6 637.4 264.4 654.1 257.9 671.5 250.1 693.8 239.4 698.5 244 674.5 256.2 656.8 264.6 639.6 271.9 623.8 277.6 608 282.1 592.6 285.3 577.6 287.2 562.7 287.8 547.8 287.2 532.8 285.3 517.4 282.1 501.6 277.6 485.8 271.9 468.6 264.6 450.9 256.2 426.9 244z"/><path fill="url(#g26)" stroke="url(#g26)" d="M428.7 242.3 451.9 253.9 469.3 262 486.7 269.1 502.4 274.6 518 278.9 533.2 282 548 283.8 562.7 284.4 577.4 283.8 592.2 282 607.4 278.9 623 274.6 638.7 269.1 656.1 262 673.5 253.9 696.7 242.3 701.4 246.7 676.9 259.8 657.9 269.2 640.8 276.7 624.6 282.7 608.5 287.5 593.2 290.9 578 292.9 562.7 293.6 547.4 292.9 532.2 290.9 516.9 287.5 500.8 282.7 484.6 276.7 467.5 269.2 448.5 259.8 424 246.7z"/><path fill="url(#g27)" stroke="url(#g27)" d="M425.8 245.1 450 257.6 468.2 266.4 485.1 273.7 501.1 279.5 517.1 284.2 532.6 287.5 547.6 289.4 562.7 290.1 577.8 289.4 592.8 287.5 608.3 284.2 624.3 279.5 640.3 273.7 657.2 266.4 675.4 257.6 699.6 245.1 704.3 249.5 679.3 263.4 659.4 273.6 642 281.6 625.5 288 608.9 293.1 593.4 296.6 577.8 298.7 562.7 299.4 547.6 298.7 532 296.6 516.5 293.1 499.9 288 483.4 281.6 466 273.6 446.1 263.4 421.1 249.5z"/><path fill="url(#g28)" stroke="url(#g28)" d="M422.9 247.8 447.6 261.2 466.7 270.8 483.9 278.5 500.3 284.7 516.6 289.7 531.9 293.1 547.3 295.2 562.7 295.9 578.1 295.2 593.5 293.1 608.8 289.7 625.1 284.7 641.5 278.5 658.7 270.8 677.8 261.2 702.5 247.8 707.2 252.2 682.2 266.7 661.5 277.8 643.6 286.3 626.8 293.2 610.4 298.5 594 302.4 578.1 304.7 562.7 305.4 547.3 304.7 531.4 302.4 515 298.5 498.6 293.2 481.8 286.3 463.9 277.8 443.2 266.7 418.2 252.2z"/><path fill="url(#g29)" stroke="url(#g29)" d="M420 250.5 444.7 264.5 465.2 275.2 482.8 283.4 499.4 290 515.6 295.2 531.8 298.9 547.5 301.1 562.7 301.8 577.9 301.1 593.6 298.9 609.8 295.2 626 290 642.6 283.4 660.2 275.2 680.7 264.5 705.4 250.5 710.2 254.9 683.2 271.1 663.5 282.1 644.8 291.4 628.1 298.5 610.9 304.3 594.7 308.4 578.4 310.8 562.7 311.6 547 310.8 530.7 308.4 514.5 304.3 497.3 298.5 480.6 291.4 461.9 282.1 442.2 271.1 415.2 254.9z"/><path fill="url(#g30)" stroke="url(#g30)" d="M417 253.3 442.7 268.3 463.1 279.5 481.6 288.4 498.1 295.3 514.6 300.8 531.1 304.8 547.2 307.1 562.7 307.8 578.2 307.1 594.3 304.8 610.8 300.8 627.3 295.3 643.8 288.4 662.3 279.5 682.7 268.3 708.4 253.3 713.2 257.6 684.6 275.3 665 286.7 646 296.6 628.9 304.1 611.9 310.1 595.3 314.4 578.8 317 562.7 317.8 546.6 317 530.1 314.4 513.5 310.1 496.5 304.1 479.4 296.6 460.4 286.7 440.8 275.3 412.2 257.6z"/><path fill="url(#g31)" stroke="url(#g31)" d="M414 255.9 441.3 272.5 460.6 283.5 479.4 293.1 496.8 300.6 514.1 306.6 530.5 310.7 546.8 313.2 562.7 314 578.6 313.2 594.9 310.7 611.3 306.6 628.6 300.6 646 293.1 664.8 283.5 684.1 272.5 711.4 255.9 716.2 260.2 686.5 279.3 666.6 291.3 647.7 301.5 630.3 309.6 612.9 316 596 320.5 579.1 323.3 562.7 324.2 546.3 323.3 529.4 320.5 512.5 316 495.1 309.6 477.7 301.5 458.8 291.3 438.9 279.3 409.2 260.2z"/><path fill="url(#g32)" stroke="url(#g32)" d="M411 258.6 440.3 277.1 460.1 288.7 478.8 298.5 496 306.2 513.1 312.4 529.8 316.8 546.5 319.5 562.7 320.3 578.9 319.5 595.6 316.8 612.3 312.4 629.4 306.2 646.6 298.5 665.3 288.7 685.1 277.1 714.4 258.6 719.3 262.8 688.5 283.4 667.6 296.4 648.8 306.9 631.1 315.3 613.3 322.1 596.1 326.9 579.4 329.7 562.7 330.7 546 329.7 529.3 326.9 512.1 322.1 494.3 315.3 476.6 306.9 457.8 296.4 436.9 283.4 406.1 262.8z"/><path fill="url(#g33)" stroke="url(#g33)" d="M408 261.2 438.4 281.1 458.5 293.4 477.1 303.5 495.1 312 512.7 318.5 529.7 323.1 546.2 325.8 562.7 326.7 579.2 325.8 595.7 323.1 612.7 318.5 630.3 312 648.3 303.5 666.9 293.4 687 281.1 717.4 261.2 722.4 265.4 691 287.1 669.7 300.9 650 312.3 632.4 321 614.3 328.2 596.8 333.3 579.7 336.3 571.2 337.1 562.7 337.3 554.2 337.1 545.7 336.3 528.6 333.3 511.1 328.2 493 321 475.4 312.3 455.7 300.9 434.4 287.1 403 265.4z"/><path fill="url(#g34)" stroke="url(#g34)" d="M404.9 263.8 435.9 284.8 457 298.1 475.9 308.9 493.8 317.6 511.7 324.5 529 329.4 545.9 332.3 562.7 333.3 579.5 332.3 596.4 329.4 613.7 324.5 631.6 317.6 649.5 308.9 668.4 298.1 689.5 284.8 720.5 263.8 725.5 267.9 694 290.4 671.8 305.4 651.7 317.5 633.8 326.7 615.3 334.4 606.1 337.5 597.4 339.8 588.8 341.7 580.1 343 571.4 343.8 562.7 344.1 554 343.8 545.3 343 536.6 341.7 528 339.8 519.3 337.5 510.1 334.4 491.6 326.7 473.7 317.5 453.6 305.4 431.4 290.4 399.9 267.9z"/><path fill="url(#g35)" stroke="url(#g35)" d="M401.8 266.4 432.9 288.2 454.9 302.6 474.7 314.3 492.4 323.3 510.7 330.6 528.4 335.9 545.5 338.9 554.1 339.7 562.7 340 571.3 339.7 579.9 338.9 597 335.9 614.7 330.6 633 323.3 650.7 314.3 670.5 302.6 692.5 288.2 723.6 266.4 728.7 270.4 694.4 295.6 673.4 310.3 653.4 322.7 634.6 332.8 615.8 340.9 607 343.9 598.1 346.4 589.3 348.4 580.4 349.8 571.6 350.7 562.7 351 553.8 350.7 545 349.8 536.1 348.4 527.3 346.4 518.4 343.9 509.6 340.9 490.8 332.8 472 322.7 452 310.3 431 295.6 396.7 270.4z"/><path fill="url(#g36)" stroke="url(#g36)" d="M398.6 268.9 430.9 292.2 452.8 307.2 473 319.5 491.6 329.3 510.2 337.1 527.7 342.4 536.4 344.3 545.2 345.7 553.9 346.5 562.7 346.8 571.5 346.5 580.2 345.7 589 344.3 597.7 342.4 615.2 337.1 633.8 329.3 652.4 319.5 672.6 307.2 694.5 292.2 726.8 268.9 731.9 272.8 695.2 300.7 674.4 315.6 654.6 328.4 635.4 339 616.8 347.3 607.3 350.7 598.2 353.3 589.2 355.3 580.2 356.8 571.2 357.7 562.7 358 554.2 357.7 545.2 356.8 536.2 355.3 527.2 353.3 518.1 350.7 508.6 347.3 490 339 470.8 328.4 451 315.6 430.2 300.7 393.5 272.8z"/><path fill="url(#g37)" stroke="url(#g37)" d="M395.5 271.4 430.6 297.5 451.2 312.1 471.3 324.8 490.2 335.1 499.7 339.5 509.2 343.4 518.1 346.5 527 349.1 535.9 351.1 544.9 352.5 553.8 353.4 562.7 353.7 571.6 353.4 580.5 352.5 589.5 351.1 598.4 349.1 607.3 346.5 616.2 343.4 625.7 339.5 635.2 335.1 654.1 324.8 674.2 312.1 694.8 297.5 729.9 271.4 735.1 275.2 697.2 304.9 675.9 320.6 655.8 334.1 636.8 345 627.1 349.8 617.3 354 608.1 357.3 598.9 360.1 589.7 362.3 580.5 363.9 571.3 364.8 562.7 365.1 554.1 364.8 544.9 363.9 535.7 362.3 526.5 360.1 517.3 357.3 508.1 354 498.3 349.8 488.6 345 469.6 334.1 449.5 320.6 428.2 304.9 390.3 275.2z"/><path fill="url(#g38)" stroke="url(#g38)" d="M392.3 273.8 429.2 302.1 450.2 317.4 470.1 330.5 489.4 341.3 499.1 346 508.2 349.8 517.8 353.3 526.9 356 536 358.1 545.1 359.6 554.2 360.4 562.7 360.7 571.2 360.4 580.3 359.6 589.4 358.1 598.5 356 607.6 353.3 617.2 349.8 626.3 346 636 341.3 655.3 330.5 675.2 317.4 696.2 302.1 733.1 273.8 738.4 277.5 699.2 309.2 678.1 325.3 657 339.9 638.3 351 628.3 356.1 618.3 360.6 609 364.1 599.6 367.1 590.2 369.4 580.9 371 571.5 372 562.7 372.3 553.9 372 544.5 371 535.2 369.4 525.8 367.1 516.4 364.1 507.1 360.6 497.1 356.1 487.1 351 468.4 339.9 447.3 325.3 426.2 309.2 387 277.5z"/><path fill="url(#g39)" stroke="url(#g39)" d="M389 276.1 427.8 306.9 448.6 322.5 468.9 336.2 488 347.4 497.8 352.3 507.7 356.6 517 360 526.2 362.9 535.5 365.1 544.7 366.7 554 367.6 562.7 367.9 571.4 367.6 580.7 366.7 589.9 365.1 599.2 362.9 608.4 360 617.7 356.6 627.6 352.3 637.4 347.4 656.5 336.2 676.8 322.5 697.6 306.9 736.4 276.1 741.7 279.7 701.7 313 679.7 330.5 658.2 345.8 639.1 357.5 628.9 362.8 619.4 367.2 609.8 371 600.3 374.1 590.7 376.6 581.2 378.3 571.7 379.3 562.7 379.6 553.7 379.3 544.2 378.3 534.7 376.6 525.1 374.1 515.6 371 506 367.2 496.5 362.8 486.3 357.5 467.2 345.8 445.7 330.5 423.7 313 383.7 279.7z"/><path fill="url(#g40)" stroke="url(#g40)" d="M385.7 278.4 425.2 310.7 446.5 327.2 467.7 342.1 486.6 353.4 496.6 358.6 506.6 363.2 516.1 366.8 525.5 369.8 535 372.2 544.4 373.9 553.8 374.9 562.7 375.2 571.6 374.9 581 373.9 590.4 372.2 599.9 369.8 609.3 366.8 618.8 363.2 628.8 358.6 638.8 353.4 657.7 342.1 678.9 327.2 700.2 310.7 739.7 278.4 745.1 281.9 703.1 317.8 681.2 335.6 660 351.3 639.9 364 629.6 369.6 619.8 374.2 610.1 378.2 600.4 381.4 590.7 384 581.5 385.7 571.8 386.8 562.7 387.1 553.6 386.8 543.9 385.7 534.7 384 525 381.4 515.3 378.2 505.6 374.2 495.8 369.6 485.5 364 465.4 351.3 444.2 335.6 422.3 317.8 380.3 281.9z"/><path fill="url(#g41)" stroke="url(#g41)" d="M382.4 280.6 422.6 314.5 444.9 332.3 466.5 348 485.8 359.9 496 365.4 505.6 369.9 515.2 373.7 524.8 376.9 534.4 379.4 544.1 381.2 553.7 382.2 562.7 382.6 571.7 382.2 581.3 381.2 591 379.4 600.6 376.9 610.2 373.7 619.8 369.9 629.4 365.4 639.6 359.9 658.9 348 680.5 332.3 702.8 314.5 743 280.6 748.5 284 703.3 323.7 682.8 340.9 661.2 357.3 641.3 370.3 630.8 376.2 620.9 381.1 611 385.3 601.1 388.7 591.2 391.4 581.9 393.2 572 394.3 562.7 394.7 553.4 394.3 543.5 393.2 534.2 391.4 524.3 388.7 514.4 385.3 504.5 381.1 494.6 376.2 484.1 370.3 464.2 357.3 442.6 340.9 422.1 323.7 376.9 284z"/><path fill="url(#g42)" stroke="url(#g42)" d="M379 282.7 422.5 320.3 443.9 338 464.7 353.5 484.9 366.5 495.3 372.2 505.1 376.9 514.9 381 524.7 384.3 534.5 386.9 543.7 388.6 553.5 389.7 562.7 390.1 571.9 389.7 581.7 388.6 590.9 386.9 600.7 384.3 610.5 381 620.3 376.9 630.1 372.2 640.5 366.5 660.7 353.5 681.5 338 702.9 320.3 746.4 282.7 751.9 286 704.6 328.7 683.8 346.7 662.4 363.4 642.8 376.7 632.1 382.9 622 388 611.9 392.4 601.8 396.1 591.7 398.9 582.3 400.8 572.2 402 562.7 402.4 553.2 402 543.1 400.8 533.7 398.9 523.6 396.1 513.5 392.4 503.4 388 493.3 382.9 482.6 376.7 463 363.4 441.6 346.7 420.8 328.7 373.5 286z"/><path fill="url(#g43)" stroke="url(#g43)" d="M375.6 284.8 421.7 325.8 442.3 343.3 463.5 359.6 483.5 372.8 494.1 378.9 504.1 383.9 514 388.1 524 391.6 534 394.4 543.4 396.2 553.3 397.4 562.7 397.7 572.1 397.4 582 396.2 591.4 394.4 601.4 391.6 611.4 388.1 621.3 383.9 631.3 378.9 641.9 372.8 661.9 359.6 683.1 343.3 703.7 325.8 749.8 284.8 755.4 287.9 705.9 333.8 685.4 352 663.5 369.6 643.6 383.4 632.7 389.9 622.4 395.3 612.2 399.9 602.5 403.5 592.2 406.5 582.6 408.5 572.3 409.7 562.7 410.1 553.1 409.7 542.8 408.5 533.2 406.5 522.9 403.5 513.2 399.9 503 395.3 492.7 389.9 481.8 383.4 461.9 369.6 440 352 419.5 333.8 370 287.9z"/><path fill="url(#g44)" stroke="url(#g44)" d="M371.6 287.1 420.6 332 441 349.9 462.7 367.1 482.4 380.6 493.3 387 503.4 392.2 513.6 396.7 523.2 400.2 533.4 403.1 542.9 405.1 553.1 406.3 562.7 406.7 572.3 406.3 582.5 405.1 592 403.1 602.2 400.2 611.8 396.7 622 392.2 632.1 387 643 380.6 662.7 367.1 684.4 349.9 704.8 332 753.8 287.1 758 289.3 707.2 337.2 687 355.5 664.9 373.7 644.7 388.1 634.3 394.5 623.9 400.1 613.5 405 603.1 408.9 592.6 412.1 582.9 414.1 572.5 415.5 562.7 415.9 552.9 415.5 542.5 414.1 532.8 412.1 522.3 408.9 511.9 405 501.5 400.1 491.1 394.5 480.7 388.1 460.5 373.7 438.4 355.5 418.2 337.2 367.4 289.3z"/><path fill="url(#g45)" stroke="url(#g45)" d="M368.8 288.6 418.6 335.1 439.3 353.6 461.2 371.5 481.3 385.6 491.6 391.8 502 397.4 512.3 402.1 522.6 406 533 409 542.7 411.1 553 412.4 562.7 412.8 572.4 412.4 582.7 411.1 592.4 409 602.8 406 613.1 402.1 623.4 397.4 633.8 391.8 644.1 385.6 664.2 371.5 686.1 353.6 706.8 335.1 756.6 288.6 760.3 290.4 708.2 340.4 687.8 359.2 665.4 378 654.9 385.9 645 392.8 633.8 399.7 623.3 405.5 612.8 410.3 602.9 414.1 592.3 417.3 582.5 419.4 572.6 420.6 562.7 421.1 552.8 420.6 542.9 419.4 533.1 417.3 522.5 414.1 512.6 410.3 502.1 405.5 491.6 399.7 480.4 392.8 470.5 385.9 460 378 437.6 359.2 417.2 340.4 365.1 290.4z"/><path fill="url(#g46)" stroke="url(#g46)" d="M366.5 289.7 417.5 338.2 438.5 357.3 460.7 375.7 481 390.2 491.4 396.7 501.9 402.3 512.3 407.2 522.8 411.2 533.3 414.2 543.1 416.3 552.9 417.5 562.7 418 572.5 417.5 582.3 416.3 592.1 414.2 602.6 411.2 613.1 407.2 623.5 402.3 634 396.7 644.4 390.2 664.7 375.7 686.9 357.3 707.9 338.2 758.9 289.7 762.6 291.6 710 342.9 689.3 362.3 667.3 381.2 656.6 389.4 646 397 634.7 404.2 624 410.1 613.3 415.2 603.3 419.1 592.7 422.3 582.7 424.5 572.7 425.8 562.7 426.2 552.7 425.8 542.7 424.5 532.7 422.3 522.1 419.1 512.1 415.2 501.4 410.1 490.7 404.2 479.4 397 468.8 389.4 458.1 381.2 436.1 362.3 415.4 342.9 362.8 291.6z"/><path fill="url(#g47)" stroke="url(#g47)" d="M364.2 290.9 416.5 341.4 437 360.4 459.5 379.5 470.1 387.5 480 394.5 491.2 401.5 501.8 407.3 512.4 412.3 522.3 416.1 532.9 419.3 542.9 421.4 552.8 422.7 562.7 423.1 572.6 422.7 582.5 421.4 592.5 419.3 603.1 416.1 613 412.3 623.6 407.3 634.2 401.5 645.4 394.5 655.3 387.5 665.9 379.5 688.4 360.4 708.9 341.4 761.2 290.9 764.9 292.6 709 348 689.4 366.6 667.2 386 657.1 393.9 647 401.2 635.5 408.6 624.7 414.7 613.9 420 603.8 424 593 427.4 582.9 429.6 572.8 431 562.7 431.4 552.6 431 542.5 429.6 532.4 427.4 521.6 424 511.5 420 500.7 414.7 489.9 408.6 478.4 401.2 468.3 393.9 458.2 386 436 366.6 416.4 348 360.5 292.6z"/><path fill="url(#g48)" stroke="url(#g48)" d="M361.9 292 416.1 345.2 436.2 364.1 458.3 383.2 469 391.5 479 398.7 490.4 405.9 501.1 411.9 511.8 417.1 521.9 421 532.6 424.3 542.6 426.5 552.7 427.9 562.7 428.3 572.7 427.9 582.8 426.5 592.8 424.3 603.5 421 613.6 417.1 624.3 411.9 635 405.9 646.4 398.7 656.4 391.5 667.1 383.2 689.2 364.1 709.3 345.2 763.5 292 767.2 293.6 748.8 311.8 709.3 351.9 690.2 370.4 667.7 390.2 657.5 398.4 647.2 405.9 636.3 413.1 625.4 419.4 614.5 424.8 604.3 429 593.4 432.4 583.2 434.8 572.9 436.2 562.7 436.6 552.5 436.2 542.2 434.8 532 432.4 521.1 429 510.9 424.8 500 419.4 489.1 413.1 478.2 405.9 467.9 398.4 457.7 390.2 435.2 370.4 416.1 351.9 376.6 311.8 358.2 293.6z"/><path fill="url(#g49)" stroke="url(#g49)" d="M359.6 293 416.4 349.7 435.4 367.8 457.7 387.4 467.9 395.5 478.1 402.8 489.6 410.4 500.4 416.6 511.2 421.9 521.4 426 532.2 429.4 542.4 431.6 552.5 433 562.7 433.5 572.9 433 583 431.6 593.2 429.4 604 426 614.2 421.9 625 416.6 635.8 410.4 647.3 402.8 657.5 395.5 667.7 387.4 690 367.8 709 349.7 765.8 293 769.6 294.6 751 313.2 709.6 355.8 691 374.1 668.2 394.6 657.9 402.9 648.2 410.1 637.2 417.5 626.2 424.1 615.1 429.6 604.8 434 593.7 437.5 583.4 440 573 441.4 562.7 441.9 552.4 441.4 542 440 531.7 437.5 520.6 434 510.3 429.6 499.2 424.1 488.2 417.5 477.2 410.1 467.5 402.9 457.2 394.6 434.4 374.1 415.8 355.8 374.4 313.2 355.8 294.6z"/><path fill="url(#g50)" stroke="url(#g50)" d="M357.2 294 375.7 312.3 416.1 353.6 434.6 371.6 457.2 391.7 467.5 400 477.8 407.5 488.7 414.8 499.7 421.2 510.6 426.7 520.9 430.9 531.9 434.4 542.2 436.8 552.4 438.2 562.7 438.7 573 438.2 583.2 436.8 593.5 434.4 604.5 430.9 614.8 426.7 625.7 421.2 636.7 414.8 647.6 407.5 657.9 400 668.2 391.7 690.8 371.6 709.3 353.6 749.7 312.3 768.2 294 772 295.6 753.2 314.6 709.9 359.8 691.8 377.9 669.4 398.3 659 406.9 648.5 414.9 637.3 422.5 626.2 429.2 615 434.9 604.6 439.3 594.1 442.7 583.6 445.2 573.2 446.7 562.7 447.2 552.2 446.7 541.8 445.2 531.3 442.7 520.8 439.3 510.4 434.9 499.2 429.2 488.1 422.5 476.9 414.9 466.4 406.9 456 398.3 433.6 377.9 415.5 359.8 372.2 314.6 353.4 295.6z"/><path fill="url(#g51)" stroke="url(#g51)" d="M354.9 295 373.6 313.7 415.8 357.5 433.8 375.4 456.7 396 467.1 404.5 476.8 411.8 487.9 419.3 499 425.9 510 431.6 520.4 435.9 531.5 439.6 541.9 442 552.3 443.5 562.7 444 573.1 443.5 583.5 442 593.9 439.6 605 435.9 615.4 431.6 626.4 425.9 637.5 419.3 648.6 411.8 658.3 404.5 668.7 396 691.6 375.4 709.6 357.5 751.8 313.7 770.5 295 774.4 296.5 754.6 316.6 710.9 363.1 692.5 381.7 670 402.7 659.4 411.5 649.5 419.2 638.2 427 626.9 433.9 615.6 439.8 605 444.3 594.5 447.9 583.9 450.5 573.3 452 562.7 452.5 552.1 452 541.5 450.5 530.9 447.9 520.4 444.3 509.8 439.8 498.5 433.9 487.2 427 475.9 419.2 466 411.5 455.4 402.7 432.9 381.7 414.5 363.1 370.8 316.6 351 296.5z"/><path fill="url(#g52)" stroke="url(#g52)" d="M352.5 295.9 372.1 315.8 414.8 360.8 433.1 379.2 455.5 399.8 466 408.5 476.5 416.6 487.7 424.3 498.9 431 510.1 436.8 520.7 441.3 531.2 444.7 541.7 447.3 552.2 448.8 562.7 449.3 573.2 448.8 583.7 447.3 594.2 444.7 604.7 441.3 615.3 436.8 626.5 431 637.7 424.3 648.9 416.6 659.4 408.5 669.9 399.8 692.3 379.2 710.6 360.8 753.3 315.8 772.9 295.9 776.8 297.3 759 315.7 714.7 363.4 694 384.9 671.2 406.5 660.5 415.6 650.5 423.5 639.1 431.6 627.7 438.7 616.2 444.8 605.5 449.5 594.8 453.1 584.1 455.8 573.4 457.4 562.7 457.9 552 457.4 541.3 455.8 530.6 453.1 519.9 449.5 509.2 444.8 497.7 438.7 486.3 431.6 474.9 423.5 464.9 415.6 454.2 406.5 431.4 384.9 410.7 363.4 366.4 315.7 348.6 297.3z"/><path fill="url(#g53)" stroke="url(#g53)" d="M350 296.8 369.9 317.2 413.8 364.2 432.3 383 455 404.2 465.6 413.2 475.5 420.9 486.9 428.8 498.2 435.8 509.5 441.8 520.2 446.4 530.8 450 541.4 452.5 552.1 454.1 562.7 454.6 573.3 454.1 584 452.5 594.6 450 605.2 446.4 615.9 441.8 627.2 435.8 638.5 428.8 649.9 420.9 659.8 413.2 670.4 404.2 693.1 383 711.6 364.2 755.5 317.2 775.4 296.8 779.3 298.1 760.5 317.7 715.8 366.7 694.8 388.7 671.7 410.9 660.9 420.3 650.8 428.4 639.2 436.7 627.7 444 616.9 449.8 606 454.6 595.2 458.4 584.4 461.1 573.5 462.8 562.7 463.3 551.9 462.8 541 461.1 530.2 458.4 519.4 454.6 508.5 449.8 497.7 444 486.2 436.7 474.6 428.4 464.5 420.3 453.7 410.9 430.6 388.7 409.6 366.7 364.9 317.7 346.1 298.1z"/><path fill="url(#g54)" stroke="url(#g54)" d="M347.6 297.6 366.2 316.9 410 364.4 431.5 386.8 453.7 408 464.5 417.2 475.2 425.7 486.7 433.9 498.2 441 508.9 446.8 519.7 451.5 530.4 455.2 541.2 457.9 551.9 459.5 562.7 460 573.5 459.5 584.2 457.9 595 455.2 605.7 451.5 616.5 446.8 627.2 441 638.7 433.9 650.2 425.7 660.9 417.2 671.7 408 693.9 386.8 715.4 364.4 759.2 316.9 777.8 297.6 781.8 298.9 762.1 319.6 717.5 369.2 695.6 392.6 673 414.7 662 424.4 651.8 432.7 640.1 441.3 629.2 448.4 617.5 454.8 606.5 459.8 595.6 463.7 584.6 466.5 573.7 468.2 562.7 468.8 551.7 468.2 540.8 466.5 529.8 463.7 518.9 459.8 507.9 454.8 496.2 448.4 485.3 441.3 473.6 432.7 463.4 424.4 452.4 414.7 429.8 392.6 407.9 369.2 363.3 319.6 343.6 298.9z"/><path fill="url(#g55)" stroke="url(#g55)" d="M345.1 298.4 364.7 318.9 408.9 367.7 430 390 453.2 412.4 464.1 421.9 474.2 430.1 485.8 438.5 497.4 445.9 508.3 451.8 519.2 456.7 530.1 460.5 540.9 463.3 551.8 464.9 562.7 465.5 573.6 464.9 584.5 463.3 595.3 460.5 606.2 456.7 617.1 451.8 628 445.9 639.6 438.5 651.2 430.1 661.3 421.9 672.2 412.4 695.4 390 716.5 367.7 760.7 318.9 780.3 298.4 784.3 299.6 763.6 321.6 717.8 373.3 695.7 397.3 672.8 419.9 662.4 429.1 652.1 437.7 640.3 446.4 629.2 453.7 617.4 460.3 606.3 465.3 595.2 469.3 584.1 472.1 573 473.8 562.7 474.3 552.4 473.8 541.3 472.1 530.2 469.3 519.1 465.3 508 460.3 496.2 453.7 485.1 446.4 473.3 437.7 463 429.1 452.6 419.9 429.7 397.3 407.6 373.3 361.8 321.6 341.1 299.6z"/><path fill="url(#g56)" stroke="url(#g56)" d="M342.6 299.2 362.4 320.1 407.9 371 429.9 394.6 452.7 416.9 462.9 426 473.2 434.4 484.9 443.1 495.9 450.3 507.7 456.8 518.7 461.9 529.7 465.8 540.7 468.7 551.7 470.4 562.7 471 573.7 470.4 584.7 468.7 595.7 465.8 606.7 461.9 617.7 456.8 629.5 450.3 640.5 443.1 652.2 434.4 662.5 426 672.7 416.9 695.5 394.6 717.5 371 763 320.1 782.8 299.2 786.9 300.3 765.2 323.5 717.4 378.3 696.5 401.2 674 423.8 663.6 433.3 653.1 442.1 641.2 451.1 629.2 459 618 465.4 606.8 470.6 595.6 474.7 584.4 477.6 573.2 479.4 562.7 479.9 552.2 479.4 541 477.6 529.8 474.7 518.6 470.6 507.4 465.4 496.2 459 484.2 451.1 472.3 442.1 461.8 433.3 451.4 423.8 428.9 401.2 408 378.3 360.2 323.5 338.5 300.3z"/><path fill="url(#g57)" stroke="url(#g57)" d="M340.1 299.9 360.8 322 407.6 375.1 429.1 398.5 452.1 421.4 462.5 430.8 472.9 439.4 484.8 448.3 496.7 456.1 507.8 462.3 518.9 467.4 530 471.4 541.2 474.3 552.3 476 562.7 476.5 573.1 476 584.2 474.3 595.4 471.4 606.5 467.4 617.6 462.3 628.7 456.1 640.6 448.3 652.5 439.4 662.9 430.8 673.3 421.4 696.3 398.5 717.8 375.1 764.6 322 785.3 299.9 789.5 300.9 766.8 325.5 718.4 381.6 697.3 405.2 674.6 428.3 664 438.1 653.4 447.1 641.3 456.4 630 464 618.6 470.5 607.3 475.9 596 480.1 584.6 483.2 573.3 485 562.7 485.5 552.1 485 540.8 483.2 529.4 480.1 518.1 475.9 506.8 470.5 495.4 464 484.1 456.4 472 447.1 461.4 438.1 450.8 428.3 428.1 405.2 407 381.6 358.6 325.5 335.9 300.9z"/><path fill="url(#g58)" stroke="url(#g58)" d="M337.5 300.5 359.3 324 407.3 379.3 428.3 402.5 450.9 425.3 461.4 434.9 471.9 443.8 483.9 453 495.9 461 507.2 467.4 518.4 472.7 529.7 476.8 540.9 479.8 552.2 481.6 562.7 482.1 573.2 481.6 584.5 479.8 595.7 476.8 607 472.7 618.2 467.4 629.5 461 641.5 453 653.5 443.8 664 434.9 674.5 425.3 697.1 402.5 718.1 379.3 766.1 324 787.9 300.5 792.1 301.4 768.4 327.4 718.7 385.9 698 409.2 675.1 432.9 664.4 442.9 654.5 451.5 642.2 461.1 630.8 469 619.3 475.7 607.8 481.3 596.3 485.6 584.9 488.7 573.4 490.6 562.7 491.1 552 490.6 540.5 488.7 529.1 485.6 517.6 481.3 506.1 475.7 494.6 469 483.2 461.1 470.9 451.5 461 442.9 450.3 432.9 427.4 409.2 406.7 385.9 357 327.4 333.3 301.4z"/><path fill="url(#g59)" stroke="url(#g59)" d="M334.9 301.1 357.7 325.9 407 383.5 428.3 407.3 451.1 430.6 461.7 440.4 471.6 448.9 483.7 458.2 495.1 466 506.5 472.6 517.9 478 529.3 482.3 540.7 485.4 552.1 487.2 562.7 487.7 573.3 487.2 584.7 485.4 596.1 482.3 607.5 478 618.9 472.6 630.3 466 641.7 458.2 653.8 448.9 663.7 440.4 674.3 430.6 697.1 407.3 718.4 383.5 767.7 325.9 790.5 301.1 794.7 301.9 770 329.3 719.7 389.3 698.8 413.3 676.4 436.8 665.6 447.1 655.5 456 643.1 465.8 631.5 473.9 619.9 480.9 608.3 486.6 596.7 491.1 585.1 494.3 573.5 496.2 562.7 496.8 551.9 496.2 540.3 494.3 528.7 491.1 517.1 486.6 505.5 480.9 493.9 473.9 482.3 465.8 469.9 456 459.8 447.1 449 436.8 426.6 413.3 405.7 389.3 355.4 329.3 330.7 301.9z"/><path fill="url(#g60)" stroke="url(#g60)" d="M332.3 301.6 356.1 327.8 406 386.9 426.7 410.5 449.8 434.5 460.5 444.6 470.5 453.3 482.8 462.9 494.3 470.9 505.9 477.7 517.4 483.4 528.9 487.8 540.4 490.9 551.9 492.8 562.7 493.4 573.5 492.8 585 490.9 596.5 487.8 608 483.4 619.5 477.7 631.1 470.9 642.6 462.9 654.9 453.3 664.9 444.6 675.6 434.5 698.7 410.5 719.4 386.9 769.3 327.8 793.1 301.6 797.4 302.4 785.7 315.1 771.6 331.2 720.8 392.8 699.6 417.3 676.9 441.5 666 452.1 655.8 461.1 643.3 471.2 631.6 479.5 619.8 486.6 608.1 492.4 596.3 497 585.4 500 573.7 502 562.7 502.6 551.7 502 540 500 529.1 497 517.3 492.4 505.6 486.6 493.8 479.5 482.1 471.2 469.6 461.1 459.4 452.1 448.5 441.5 425.8 417.3 404.6 392.8 353.8 331.2 339.7 315.1 328 302.4z"/><path fill="url(#g61)" stroke="url(#g61)" d="M329.6 302.1 341.2 314.7 354.5 329.7 405.7 391.2 426.7 415.4 449.3 439.1 460.1 449.5 470.2 458.4 482.7 468.3 494.3 476.4 506 483.4 517.6 489.1 529.3 493.6 540.2 496.6 551.8 498.5 562.7 499.1 573.6 498.5 585.2 496.6 596.1 493.6 607.8 489.1 619.4 483.4 631.1 476.4 642.7 468.3 655.2 458.4 665.3 449.5 676.1 439.1 698.7 415.4 719.7 391.2 770.9 329.7 784.2 314.7 795.8 302.1 800.2 302.8 787.5 316.6 773.2 333.1 721.8 396.2 699.6 422.3 687.8 435.4 676.7 447 666.4 457 656.1 466.3 643.4 476.6 631.6 485 619.7 492.3 608.6 497.9 596.7 502.5 585.7 505.7 573.8 507.7 562.7 508.3 551.6 507.7 539.7 505.7 528.7 502.5 516.8 497.9 505.7 492.3 493.8 485 482 476.6 469.3 466.3 459 457 448.7 447 437.6 435.4 425.8 422.3 403.6 396.2 352.2 333.1 337.9 316.6 325.2 302.8z"/><path fill="url(#g62)" stroke="url(#g62)" d="M326.9 302.6 338.7 315.3 352.8 331.6 404.7 394.7 425.9 419.5 448.7 443.8 458.9 453.7 469.2 462.9 481.7 473.1 493.5 481.4 505.3 488.6 517.1 494.5 528.9 499.1 539.9 502.2 551.7 504.2 562.7 504.8 573.7 504.2 585.5 502.2 596.5 499.1 608.3 494.5 620.1 488.6 631.9 481.4 643.7 473.1 656.2 462.9 666.5 453.7 676.7 443.8 699.5 419.5 720.7 394.7 772.6 331.6 786.7 315.3 798.5 302.6 802.9 303.1 790.1 317.1 774.9 334.9 722.9 399.6 700.4 426.4 678 450.9 667.6 461.2 657.2 470.8 644.4 481.4 632.4 490.1 620.4 497.6 609.1 503.3 597.1 508.2 585.9 511.4 573.9 513.5 562.7 514.1 551.5 513.5 539.5 511.4 528.3 508.2 516.3 503.3 505 497.6 493 490.1 481 481.4 468.2 470.8 457.8 461.2 447.4 450.9 425 426.4 402.5 399.6 350.5 334.9 335.3 317.1 322.5 303.1z"/><path fill="url(#g63)" stroke="url(#g63)" d="M324.1 302.9 336.9 316.8 351.2 333.4 402.9 397.2 425.1 423.6 437.1 436.8 448.2 448.5 458.5 458.7 468.9 468.1 481.6 478.5 493.5 487.1 505.4 494.4 516.6 500 528.5 504.8 539.6 507.9 551.6 510 562.7 510.6 573.8 510 585.8 507.9 596.9 504.8 608.8 500 620 494.4 631.9 487.1 643.8 478.5 656.5 468.1 666.9 458.7 677.2 448.5 688.3 436.8 700.3 423.6 722.5 397.2 774.2 333.4 788.5 316.8 801.3 302.9 805.7 303.4 792 318.6 776.6 336.7 722.3 405.1 700.4 431.5 677.7 456.5 667.2 467 657.5 476 644.5 486.9 632.4 495.8 620.2 503.4 608.9 509.2 596.7 514.1 585.4 517.4 574 519.3 562.7 520 551.4 519.3 540 517.4 528.7 514.1 516.5 509.2 505.2 503.4 493 495.8 480.9 486.9 467.9 476 458.2 467 447.7 456.5 425 431.5 403.1 405.1 348.8 336.7 333.4 318.6 319.7 303.4z"/><path fill="url(#g64)" stroke="url(#g64)" d="M321.4 303.3 334.2 317.3 349.5 335.3 402.6 401.6 425.1 428.6 447.7 453.3 458.1 463.7 468.6 473.3 481.5 483.9 493.5 492.7 505.6 500.1 516.8 505.9 528.9 510.7 540.2 513.9 551.4 515.8 562.7 516.4 574 515.8 585.2 513.9 596.5 510.7 608.6 505.9 619.8 500.1 631.9 492.7 643.9 483.9 656.8 473.3 667.3 463.7 677.7 453.3 700.3 428.6 722.8 401.6 775.9 335.3 791.2 317.3 804 303.3 808.6 303.7 794.6 319 778.2 338.5 722.5 409.6 701.2 435.7 679.1 460.4 668.4 471.3 658.6 480.5 646.3 491.1 634 500.3 621.7 508.2 609.4 514.8 597.1 519.8 585.6 523.1 574.2 525.2 562.7 525.8 551.2 525.2 539.8 523.1 528.3 519.8 516 514.8 503.7 508.2 491.4 500.3 479.1 491.1 466.8 480.5 457 471.3 446.3 460.4 424.2 435.7 402.9 409.6 347.2 338.5 330.8 319 316.8 303.7z"/><path fill="url(#g65)" stroke="url(#g65)" d="M318.6 303.5 332.4 318.8 347.9 337.1 402.4 406 424.4 432.7 447.1 458 457.7 468.7 467.5 477.8 480.5 488.8 492.7 497.8 504.9 505.5 516.3 511.4 528.5 516.3 539.9 519.6 551.3 521.6 562.7 522.3 574.1 521.6 585.5 519.6 596.9 516.3 609.1 511.4 620.5 505.5 632.7 497.8 644.9 488.8 657.9 477.8 667.7 468.7 678.3 458 701 432.7 723 406 777.5 337.1 793 318.8 806.8 303.5 811.5 303.9 796.5 320.4 779.9 340.3 723.6 413.1 702 439.9 679.6 465.2 668.8 476.3 658.9 485.8 646.4 496.6 634 506.1 621.6 514.1 610 520.3 597.5 525.5 585.9 529 574.3 531.1 562.7 531.7 551.1 531.1 539.5 529 527.9 525.5 515.4 520.3 503.8 514.1 491.4 506.1 479 496.6 466.5 485.8 456.6 476.3 445.8 465.2 423.4 439.9 401.8 413.1 345.5 340.3 328.9 320.4 313.9 303.9z"/><path fill="url(#g66)" stroke="url(#g66)" d="M315.7 303.8 329.7 319.2 346.1 338.9 402.1 410.6 423.5 437 445.8 462 456.5 473 466.4 482.4 478.7 493 491.1 502.4 503.4 510.4 515.8 517 528.1 522.1 539.6 525.5 551.2 527.5 562.7 528.2 574.2 527.5 585.8 525.5 597.3 522.1 609.6 517 622 510.4 634.3 502.4 646.7 493 659 482.4 668.9 473 679.6 462 701.9 437 723.3 410.6 779.3 338.9 795.7 319.2 809.7 303.8 814.3 304 799.2 320.7 782.4 341 723.7 417.7 701.9 445 679.3 470.9 669.2 481.4 659.2 491.1 646.6 502.1 634 511.7 621.4 519.9 609.7 526.2 597.9 531.2 586.2 534.7 574.4 536.9 562.7 537.6 551 536.9 539.2 534.7 527.5 531.2 515.7 526.2 504 519.9 491.4 511.7 478.8 502.1 466.2 491.1 456.2 481.4 446.1 470.9 423.5 445 401.7 417.7 343 341 326.2 320.7 311.1 304z"/><path fill="url(#g67)" stroke="url(#g67)" d="M312.7 303.9 327.7 320.5 344.4 340.6 401.9 415.3 423.5 442.2 445.2 466.9 456 478.2 466 487.8 478.5 498.7 491 508.2 503.5 516.4 515.2 522.7 527.7 528 539.4 531.5 551 533.6 562.7 534.3 574.4 533.6 586 531.5 597.7 528 610.2 522.7 621.9 516.4 634.4 508.2 646.9 498.7 659.4 487.8 669.4 478.2 680.2 466.9 701.9 442.2 723.5 415.3 781 340.6 797.7 320.5 812.7 303.9 817 304.1 801.8 321 784 342.6 766.2 365.7 724.6 421 702.6 449 680.5 474.5 670.4 485.3 660.2 495.2 647.5 506.5 634.8 516.4 622.9 524.4 610.2 531.3 598.3 536.4 586.4 540.1 574.6 542.3 562.7 543 550.8 542.3 539 540.1 527.1 536.4 515.2 531.3 502.5 524.4 490.6 516.4 477.9 506.5 465.2 495.2 455 485.3 444.9 474.5 422.8 449 400.8 421 359.2 365.7 341.4 342.6 323.6 321 308.4 304.1z"/><path fill="url(#g68)" stroke="url(#g68)" d="M310 304 325.2 320.8 342.9 342.3 401 418.6 422.9 446.2 434.7 460.1 445.6 472.3 455.7 482.9 465.8 492.7 478.5 503.8 491.1 513.6 503.7 521.9 515.5 528.2 527.3 533.2 539.1 536.8 550.9 539 562.7 539.7 574.5 539 586.3 536.8 598.1 533.2 609.9 528.2 621.7 521.9 634.3 513.6 646.9 503.8 659.6 492.7 669.7 482.9 679.8 472.3 690.7 460.1 702.5 446.2 724.4 418.6 782.5 342.3 800.2 320.8 815.4 304 819.8 304.1 803.5 322.2 785.5 344.2 766.6 369 725.5 424.4 702.4 454 680.1 480 660.4 500.2 647.5 511.7 634.7 521.8 622.7 529.8 610.7 536.5 598.7 541.7 586.7 545.5 574.7 547.7 562.7 548.5 550.7 547.7 538.7 545.5 526.7 541.7 514.7 536.5 502.7 529.8 490.7 521.8 477.9 511.7 465 500.2 445.3 480 423 454 399.9 424.4 358.8 369 339.9 344.2 321.9 322.2 305.6 304.1z"/><path fill="url(#g69)" stroke="url(#g69)" d="M307.3 304.1 323.5 322.1 341.3 343.9 360.1 368.4 400.9 423 423.1 451.2 445.2 476.9 455.4 487.7 465.6 497.7 478.4 509 491.2 518.9 503.1 526.8 515 533.4 526.9 538.5 538.9 542.2 550.8 544.4 562.7 545.2 574.6 544.4 586.5 542.2 598.5 538.5 610.4 533.4 622.3 526.8 634.2 518.9 647 509 659.8 497.7 670 487.7 680.2 476.9 702.3 451.2 724.5 423 765.3 368.4 784.1 343.9 801.9 322.1 818.1 304.1 822.5 304.1 806.1 322.3 787 345.8 768 371 726.4 427.7 703 458 681.4 483.6 671 494.8 661.4 504.3 648.4 516.1 636.3 525.9 623.3 534.8 611.2 541.6 599.1 547 587 550.8 574.8 553.2 562.7 553.9 550.6 553.2 538.4 550.8 526.3 547 514.2 541.6 502.1 534.8 489.1 525.9 477 516.1 464 504.3 454.4 494.8 444 483.6 422.4 458 399 427.7 357.4 371 338.4 345.8 319.3 322.3 302.9 304.1z"/><path fill="url(#g70)" stroke="url(#g70)" d="M304.6 304.1 320.9 322.2 339 344.4 357.9 369.3 400.1 426.4 423.3 456.2 444.8 481.4 455.1 492.4 464.6 501.8 477.5 513.4 489.6 523 502.5 531.8 514.5 538.5 526.6 543.8 538.6 547.6 550.7 549.9 562.7 550.6 574.7 549.9 586.8 547.6 598.8 543.8 610.9 538.5 622.9 531.8 635.8 523 647.9 513.4 660.8 501.8 670.3 492.4 680.6 481.4 702.1 456.2 725.3 426.4 767.5 369.3 786.4 344.4 804.5 322.2 820.8 304.1 825.3 304.1 807.8 323.5 788.6 347.4 769.3 373.1 726.4 432.2 702.8 463.1 681.8 488.1 671.3 499.5 661.6 509.3 648.5 521.3 636.2 531.2 623.1 540.3 610.9 547.2 598.6 552.6 586.3 556.5 574.1 558.7 562.7 559.4 551.3 558.7 539.1 556.5 526.8 552.6 514.5 547.2 502.3 540.3 489.2 531.2 476.9 521.3 463.8 509.3 454.1 499.5 443.6 488.1 422.6 463.1 399 432.2 356.1 373.1 336.8 347.4 317.6 323.5 300.1 304.1z"/><path fill="url(#g71)" stroke="url(#g71)" d="M301.8 304.1 319.2 323.4 337.4 346 356.6 371.4 399.2 429.7 422.7 460.2 444.4 485.9 454.9 497.2 464.4 506.8 477.5 518.6 489.6 528.4 502.7 537.2 514.9 544.1 527 549.4 539.2 553.2 551.4 555.4 562.7 556.1 574 555.4 586.2 553.2 598.4 549.4 610.5 544.1 622.7 537.2 635.8 528.4 647.9 518.6 661 506.8 670.5 497.2 681 485.9 702.7 460.2 726.2 429.7 768.8 371.4 788 346 806.2 323.4 823.6 304.1 828.2 304 809.6 324.6 790.1 348.9 770.7 375.2 725.5 438 702.5 468.3 681.3 493.7 671.6 504.4 661.8 514.3 648.5 526.6 636.2 536.6 623.8 545.3 611.4 552.4 599 557.9 586.6 561.9 574.2 564.2 562.7 564.9 551.2 564.2 538.8 561.9 526.4 557.9 514 552.4 501.6 545.3 489.2 536.6 476.9 526.6 463.6 514.3 453.8 504.4 444.1 493.7 422.9 468.3 399.9 438 354.7 375.2 335.3 348.9 315.8 324.6 297.2 304z"/><path fill="url(#g72)" stroke="url(#g72)" d="M299 304 316.5 323.5 335.9 347.5 355.2 373.5 399.2 434.2 422 464.2 443.1 489.5 453.7 501.1 463.4 510.9 476.5 523.1 489.7 533.7 502 542.2 514.3 549.2 526.7 554.7 539 558.6 551.3 560.9 562.7 561.6 574.1 560.9 586.4 558.6 598.7 554.7 611.1 549.2 623.4 542.2 635.7 533.7 648.9 523.1 662 510.9 671.7 501.1 682.3 489.5 703.4 464.2 726.2 434.2 770.2 373.5 789.5 347.5 808.9 323.5 826.4 304 831.1 303.8 822.1 313.3 812.3 324.6 792.6 349.2 772.9 376 726.4 441.4 703.2 472.3 681.7 498.3 671.8 509.2 662 519.3 649.5 531.1 636.1 542.1 623.5 550.8 611 558 598.5 563.6 586.9 567.3 574.3 569.7 562.7 570.5 551.1 569.7 538.5 567.3 526.9 563.6 514.4 558 501.9 550.8 489.3 542.1 475.9 531.1 463.4 519.3 453.6 509.2 443.7 498.3 422.2 472.3 399 441.4 352.5 376 332.8 349.2 313.1 324.6 303.3 313.3 294.3 303.8z"/><path fill="url(#g73)" stroke="url(#g73)" d="M296.1 303.9 314.7 324.6 334.3 349.1 353.8 375.5 399.2 438.8 422.3 469.4 443.6 495.1 453.4 505.9 463.2 515.9 476.5 528.3 488.9 538.5 501.4 547.2 513.8 554.4 526.3 560 538.7 564 551.1 566.4 562.7 567.1 574.3 566.4 586.7 564 599.1 560 611.6 554.4 624 547.2 636.5 538.5 648.9 528.3 662.2 515.9 672 505.9 681.8 495.1 703.1 469.4 726.2 438.8 771.6 375.5 791.1 349.1 810.7 324.6 829.3 303.9 834.1 303.6 824.1 314.2 814.2 325.6 794.3 350.7 774.4 377.9 726.4 446.1 703.8 476.4 683 501.9 673.1 513.1 663.1 523.5 649.5 536.4 636.9 546.9 624.2 555.9 611.5 563.3 598.9 569 587.1 572.8 574.5 575.3 562.7 576.1 550.9 575.3 538.3 572.8 526.5 569 513.9 563.3 501.2 555.9 488.5 546.9 475.9 536.4 462.3 523.5 452.3 513.1 442.4 501.9 421.6 476.4 399 446.1 351 377.9 331.1 350.7 311.2 325.6 301.3 314.2 291.3 303.6z"/><path fill="url(#g74)" stroke="url(#g74)" d="M293.2 303.8 302.1 313.3 312 324.6 332.7 350.5 352.5 377.5 399.2 443.5 421.6 473.5 443.2 499.7 453.1 510.7 463 521 476.4 533.6 489 544 501.6 552.8 514.2 560.1 526.8 565.7 538.4 569.5 551 571.9 562.7 572.7 574.4 571.9 587 569.5 598.6 565.7 611.2 560.1 623.8 552.8 636.4 544 649 533.6 662.4 521 672.3 510.7 682.2 499.7 703.8 473.5 726.2 443.5 772.9 377.5 792.7 350.5 813.4 324.6 823.3 313.3 832.2 303.8 837.1 303.4 827 314 816.9 325.5 795.9 352.1 775.8 379.9 726.4 450.8 702.6 482.9 682.5 507.7 663.3 528.6 650.5 540.9 637.7 551.7 624.9 560.9 612.1 568.5 599.3 574.4 587.4 578.4 574.6 580.9 562.7 581.7 550.8 580.9 538 578.4 526.1 574.4 513.3 568.5 500.5 560.9 487.7 551.7 474.9 540.9 462.1 528.6 442.9 507.7 422.8 482.9 399 450.8 349.6 379.9 329.5 352.1 308.5 325.5 298.4 314 288.3 303.4z"/><path fill="url(#g75)" stroke="url(#g75)" d="M290.2 303.6 300.2 314.1 310.2 325.6 331.1 352 351 379.5 398.3 446.9 421.9 478.7 442.8 504.4 452.8 515.6 462.8 526.1 475.5 538.1 488.2 548.8 500.9 557.8 513.6 565.3 526.4 571.1 538.2 575 550.9 577.5 562.7 578.2 574.5 577.5 587.2 575 599 571.1 611.8 565.3 624.5 557.8 637.2 548.8 649.9 538.1 662.6 526.1 672.6 515.6 682.6 504.4 703.5 478.7 727.1 446.9 774.4 379.5 794.3 352 815.2 325.6 825.2 314.1 835.2 303.6 840.1 303.2 822.6 322.1 803.1 346.1 781 376.5 732.9 446.3 710.7 477.3 697.7 494.2 685.7 509.1 674.6 521.9 663.5 533.7 650.6 546.2 637.6 557.2 624.7 566.6 611.7 574.3 598.8 580.2 586.7 584.1 574.7 586.5 562.7 587.3 550.7 586.5 538.7 584.1 526.6 580.2 513.7 574.3 500.7 566.6 487.8 557.2 474.8 546.2 461.9 533.7 450.8 521.9 439.7 509.1 427.7 494.2 414.7 477.3 392.5 446.3 344.4 376.5 322.3 346.1 302.8 322.1 285.3 303.2z"/><path fill="url(#g76)" stroke="url(#g76)" d="M287.1 303.3 297.2 313.9 307.4 325.4 328.5 352.2 349.6 381.4 398.3 451.6 422.2 484.1 442.4 509.1 461.7 530.2 474.5 542.6 487.4 553.5 500.2 562.9 513.1 570.6 526 576.5 537.9 580.5 550.8 583.1 562.7 583.9 574.6 583.1 587.5 580.5 599.4 576.5 612.3 570.6 625.2 562.9 638 553.5 650.9 542.6 663.7 530.2 683 509.1 703.2 484.1 727.1 451.6 775.8 381.4 796.9 352.2 818 325.4 828.2 313.9 838.3 303.3 843.3 302.9 833.9 312.5 824.6 322.9 804.9 347.3 781.6 379.6 732.9 451 711.4 481.2 699.2 497.4 687.1 512.6 675.9 525.8 664.6 537.9 650.6 551.6 637.5 562.8 625.4 571.7 612.3 579.6 599.2 585.7 587 589.7 574.9 592.2 562.7 593 550.5 592.2 538.4 589.7 526.2 585.7 513.1 579.6 500 571.7 487.9 562.8 474.8 551.6 460.8 537.9 449.5 525.8 438.3 512.6 426.2 497.4 414 481.2 392.5 451 343.8 379.6 320.5 347.3 300.8 322.9 291.5 312.5 282.1 302.9z"/><path fill="url(#g77)" stroke="url(#g77)" d="M284 303.1 293.3 312.7 301.7 322 321.2 346.1 343.5 376.7 392.7 448.4 415 479.6 427.1 495.5 439.2 510.5 450.3 523.4 461.5 535.4 475.4 548.8 488.4 559.8 501.4 569.2 513.5 576.3 526.5 582.4 538.5 586.3 550.6 588.7 562.7 589.5 574.8 588.7 586.9 586.3 598.9 582.4 611.9 576.3 624 569.2 637 559.8 650 548.8 663.9 535.4 675.1 523.4 686.2 510.5 698.3 495.5 710.4 479.6 732.7 448.4 781.9 376.7 804.2 346.1 823.7 322 832.1 312.7 841.4 303.1 846.5 302.6 837 312.2 827.6 322.6 817.2 335.1 806.8 348.5 783.1 381.4 733.9 454.2 711.2 486.5 698.9 502.9 687.6 517.3 676.2 530.7 664.9 543.1 651.6 556.2 638.4 567.7 625.1 577.4 612.8 584.9 599.6 591.2 587.3 595.3 575 597.8 562.7 598.7 550.4 597.8 538.1 595.3 525.8 591.2 512.6 584.9 500.3 577.4 487 567.7 473.8 556.2 460.5 543.1 449.2 530.7 437.8 517.3 426.5 502.9 414.2 486.5 391.5 454.2 342.3 381.4 318.6 348.5 308.2 335.1 297.8 322.6 288.4 312.2 278.9 302.6z"/><path fill="url(#g78)" stroke="url(#g78)" d="M280.9 302.8 290.3 312.4 299.7 322.8 319.4 347.3 342.9 379.8 391.7 451.7 414.3 483.5 426.5 499.8 438.7 515.1 450 528.3 461.2 540.5 474.4 553.4 487.5 564.7 500.7 574.3 512.9 581.7 526.1 587.8 538.3 591.9 550.5 594.4 562.7 595.2 574.9 594.4 587.1 591.9 599.3 587.8 612.5 581.7 624.7 574.3 637.9 564.7 651 553.4 664.2 540.5 675.4 528.3 686.7 515.1 698.9 499.8 711.1 483.5 733.7 451.7 782.5 379.8 806 347.3 825.7 322.8 835.1 312.4 844.5 302.8 849.8 302.2 840.2 311.8 829.7 323.4 819.1 336 807.7 350.8 783.7 384.5 734.9 457.5 712 490.5 699.5 507.3 688 521.9 676.6 535.6 665.1 548.3 651.7 561.6 639.2 572.5 625.9 582.6 613.4 590.3 600 596.7 587.6 601 575.1 603.6 562.7 604.4 550.3 603.6 537.8 601 525.4 596.7 512 590.3 499.5 582.6 486.2 572.5 473.7 561.6 460.3 548.3 448.8 535.6 437.4 521.9 425.9 507.3 413.4 490.5 390.5 457.5 341.7 384.5 317.7 350.8 306.3 336 295.7 323.4 285.2 311.8 275.6 302.2z"/><path fill="url(#g79)" stroke="url(#g79)" d="M277.7 302.4 287.2 312 296.7 322.5 307.1 335 318.5 349.7 342.3 382.9 391.7 456.4 414.5 488.8 426.8 505.4 438.2 519.8 449.6 533.3 461 545.7 474.3 558.8 487.6 570.3 500.9 580.1 513.3 587.5 525.6 593.3 538 597.5 550.3 600.1 562.7 600.9 575.1 600.1 587.4 597.5 599.8 593.3 612.1 587.5 624.5 580.1 637.8 570.3 651.1 558.8 664.4 545.7 675.8 533.3 687.2 519.8 698.6 505.4 710.9 488.8 733.7 456.4 783.1 382.9 806.9 349.7 818.3 335 828.7 322.5 838.2 312 847.7 302.4 853.1 301.9 842.5 312.4 831.8 324.1 821.2 336.8 809.5 351.9 785.3 386.2 736 460.8 712.7 494.5 700.2 511.6 688.5 526.6 676.9 540.6 665.3 553.5 651.8 567.1 639.2 578.2 625.6 588.4 613 596.2 600.5 602.3 587.9 606.7 575.3 609.3 562.7 610.2 550.1 609.3 537.5 606.7 524.9 602.3 512.4 596.2 499.8 588.4 486.2 578.2 473.6 567.1 460.1 553.5 448.5 540.6 436.9 526.6 425.2 511.6 412.7 494.5 389.4 460.8 340.1 386.2 315.9 351.9 304.2 336.8 293.6 324.1 282.9 312.4 272.3 301.9z"/><path fill="url(#g80)" stroke="url(#g80)" d="M274.4 302.1 284 311.6 294.5 323.2 305.1 335.9 316.6 350.8 340.7 384.6 390.7 459.7 413.7 492.8 426.2 509.7 437.8 524.4 449.3 538.2 460.8 550.9 474.3 564.3 486.8 575.2 500.2 585.2 512.7 592.9 525.2 598.9 537.7 603.2 550.2 605.8 562.7 606.6 575.2 605.8 587.7 603.2 600.2 598.9 612.7 592.9 625.2 585.2 638.6 575.2 651.1 564.3 664.6 550.9 676.1 538.2 687.6 524.4 699.2 509.7 711.7 492.8 734.7 459.7 784.7 384.6 808.8 350.8 820.3 335.9 830.9 323.2 841.4 311.6 851 302.1 856.5 301.5 845.8 311.9 835 323.6 823.2 337.6 811.5 352.9 787 387.8 737 464 712.6 499.8 699.8 517.3 688.1 532.5 676.3 546.7 665.5 558.7 651.8 572.6 638.1 584.7 625.4 594.2 612.7 602.1 599.9 608.3 587.2 612.6 574.5 615.2 562.7 616 550.9 615.2 538.2 612.6 525.5 608.3 512.7 602.1 500 594.2 487.3 584.7 473.6 572.6 459.9 558.7 449.1 546.7 437.3 532.5 425.6 517.3 412.8 499.8 388.4 464 338.4 387.8 313.9 352.9 302.2 337.6 290.4 323.6 279.6 311.9 268.9 301.5z"/><path fill="url(#g81)" stroke="url(#g81)" d="M271 301.7 281.7 312.2 292.4 323.9 303.1 336.7 314.7 351.8 339 386.2 389.6 462.9 412.9 496.9 426.6 515.4 438.2 530.4 449.9 544.3 460.6 556.2 474.2 569.8 486.8 580.9 500.5 591.1 513.1 598.8 525.7 604.8 538.4 609.1 551 611.7 562.7 612.4 574.4 611.7 587 609.1 599.7 604.8 612.3 598.8 624.9 591.1 638.6 580.9 651.2 569.8 664.8 556.2 675.5 544.3 687.2 530.4 698.8 515.4 712.5 496.9 735.8 462.9 786.4 386.2 810.7 351.8 822.3 336.7 833 323.9 843.7 312.2 854.4 301.7 860.1 301 849.1 311.4 837.3 324.2 825.4 338.4 813.5 353.9 801.6 370.5 788.7 389.4 737.1 468.7 713.4 503.8 700.5 521.7 688.6 537.2 676.7 551.7 665.8 564 651.9 578.1 639 589.6 626.1 599.4 613.2 607.5 600.4 613.8 587.5 618.3 574.6 621 562.7 621.8 550.8 621 537.9 618.3 525 613.8 512.2 607.5 499.3 599.4 486.4 589.6 473.5 578.1 459.6 564 448.7 551.7 436.8 537.2 424.9 521.7 412 503.8 388.3 468.7 336.7 389.4 323.8 370.5 311.9 353.9 300 338.4 288.1 324.2 276.3 311.4 265.3 301z"/><path fill="url(#g82)" stroke="url(#g82)" d="M267.5 301.3 278.3 311.7 290.2 324.5 302 338.7 313.8 354.1 338.4 389.3 388.5 466.2 412.2 500.8 425 518.5 436.8 533.8 448.6 548.2 459.4 560.4 473.2 574.3 486.9 586.6 499.7 596.2 512.5 604.2 525.3 610.4 538.1 614.8 550.9 617.4 562.7 618.2 574.5 617.4 587.3 614.8 600.1 610.4 612.9 604.2 625.7 596.2 638.5 586.6 652.2 574.3 666 560.4 676.8 548.2 688.6 533.8 700.4 518.5 713.2 500.8 736.9 466.2 787 389.3 811.6 354.1 823.4 338.7 835.2 324.5 847.1 311.7 857.9 301.3 863.7 300.6 851.6 311.9 839.6 324.7 827.6 339.1 814.5 356.1 802.5 373.1 789.4 392.4 737.3 473.5 714.2 507.8 701.1 526.1 689.1 542 677.1 556.8 666 569.3 653 582.7 640 594.5 626.9 604.6 613.9 613 600.8 619.5 587.8 624.1 574.7 626.9 562.7 627.7 550.7 626.9 537.6 624.1 524.6 619.5 511.5 613 498.5 604.6 485.4 594.5 472.4 582.7 459.4 569.3 448.3 556.8 436.3 542 424.3 526.1 411.2 507.8 388.1 473.5 336 392.4 322.9 373.1 310.9 356.1 297.8 339.1 285.8 324.7 273.8 311.9 261.7 300.6z"/><path fill="url(#g83)" stroke="url(#g83)" d="M264 300.9 275.9 312.2 286.9 324 298.8 338.2 311.8 355.1 323.7 371.8 336.6 390.9 388.4 470.9 411.3 504.8 424.3 522.9 436.2 538.6 448.2 553.2 459.1 565.6 472.1 578.9 486 591.5 499 601.4 511.9 609.6 524.9 616 537.8 620.6 550.8 623.3 562.7 624.1 574.6 623.3 587.6 620.6 600.5 616 613.5 609.6 626.4 601.4 639.4 591.5 653.3 578.9 666.3 565.6 677.2 553.2 689.2 538.6 701.1 522.9 714.1 504.8 737 470.9 788.8 390.9 801.7 371.8 813.6 355.1 826.6 338.2 838.5 324 849.5 312.2 861.4 300.9 867.4 300.2 854.2 312.3 842 325.2 828.8 341 816.6 357 804.4 374.2 791.2 393.8 737.4 478.2 714 513.3 701.8 530.5 689.7 546.7 677.5 561.8 666.3 574.6 653.1 588.3 639.9 600.3 626.7 610.6 613.5 619 600.3 625.6 588.1 629.9 574.9 632.7 562.7 633.6 550.5 632.7 537.3 629.9 525.1 625.6 511.9 619 498.7 610.6 485.5 600.3 472.3 588.3 459.1 574.6 447.9 561.8 435.7 546.7 423.6 530.5 411.4 513.3 388 478.2 334.2 393.8 321 374.2 308.8 357 296.6 341 283.4 325.2 271.2 312.3 258 300.2z"/><path fill="url(#g84)" stroke="url(#g84)" d="M260.3 300.4 272.4 311.7 284.5 324.5 297.6 340.1 309.7 355.9 322.8 374.4 335.9 393.9 388.3 475.6 411.5 510.3 424.6 528.6 436.7 544.6 448.8 559.5 459.9 572 473 585.5 486.1 597.3 499.2 607.4 512.3 615.7 525.4 622.1 537.5 626.4 550.6 629.1 562.7 629.9 574.8 629.1 587.9 626.4 600 622.1 613.1 615.7 626.2 607.4 639.3 597.3 652.4 585.5 665.5 572 676.6 559.5 688.7 544.6 700.8 528.6 713.9 510.3 737.1 475.6 789.5 393.9 802.6 374.4 815.7 355.9 827.8 340.1 840.9 324.5 853 311.7 865.1 300.4 871.2 299.8 858.9 310.7 845.5 324.5 831.1 341.5 817.7 359.2 805.4 376.7 792 396.8 737.5 483 714.9 517.3 702.6 534.9 690.2 551.4 677.9 566.9 666.6 579.9 653.2 593.9 639.8 606.1 627.5 615.8 614.1 624.5 601.8 630.8 588.4 635.7 575 638.6 562.7 639.5 550.4 638.6 537 635.7 523.6 630.8 511.3 624.5 497.9 615.8 485.6 606.1 472.2 593.9 458.8 579.9 447.5 566.9 435.2 551.4 422.8 534.9 410.5 517.3 387.9 483 333.4 396.8 320 376.7 307.7 359.2 294.3 341.5 279.9 324.5 266.5 310.7 254.2 299.8z"/><path fill="url(#g85)" stroke="url(#g85)" d="M256.6 300 269.8 312.1 282.1 325 295.3 340.7 308.6 358.1 320.9 375.5 334.1 395.3 387.2 478.8 410.7 514.2 423.9 533 436.2 549.3 448.4 564.5 459.6 577.3 472.9 591 486.2 603.1 499.4 613.3 511.7 621.1 523.9 627.3 537.2 632.1 550.5 635 562.7 635.8 574.9 635 588.2 632.1 601.5 627.3 613.7 621.1 626 613.3 639.2 603.1 652.5 591 665.8 577.3 677 564.5 689.2 549.3 701.5 533 714.7 514.2 738.2 478.8 791.3 395.3 804.5 375.5 816.8 358.1 830.1 340.7 843.3 325 855.6 312.1 868.8 300 875.2 299.3 861.6 311.1 848.1 324.9 834.6 340.7 820 359.9 806.4 379.2 792.9 399.7 738.7 486.2 714.8 522.8 702.3 540.7 689.8 557.6 678.3 572 666.9 585.3 653.3 599.5 639.8 612 626.2 622.6 613.7 630.6 600.2 637.4 587.7 641.9 575.2 644.5 562.7 645.4 550.2 644.5 537.7 641.9 525.2 637.4 511.7 630.6 499.2 622.6 485.6 612 472.1 599.5 458.5 585.3 447.1 572 435.6 557.6 423.1 540.7 410.6 522.8 386.7 486.2 332.5 399.7 319 379.2 305.4 359.9 290.8 340.7 277.3 324.9 263.8 311.1 250.2 299.3z"/><path fill="url(#g86)" stroke="url(#g86)" d="M252.7 299.6 265.1 310.5 278.5 324.2 292 340 306.4 358.9 319.9 378 333.3 398.3 387 483.6 410.8 519.7 423.2 537.4 435.6 554.1 447 568.4 459.4 582.7 472.8 596.7 486.2 608.9 499.7 619.3 512.1 627.2 525.5 633.9 537.9 638.2 550.3 640.9 562.7 641.8 575.1 640.9 587.5 638.2 599.9 633.9 613.3 627.2 625.7 619.3 639.2 608.9 652.6 596.7 666 582.7 678.4 568.4 689.8 554.1 702.2 537.4 714.6 519.7 738.4 483.6 792.1 398.3 805.5 378 819 358.9 833.4 340 846.9 324.2 860.3 310.5 872.7 299.6 879.3 298.9 865.6 310.4 851.8 324.1 837.1 341.1 822.3 360.5 808.6 380.1 794.9 401 738.9 491 714.7 528.3 702 546.6 689.3 563.7 677.7 578.4 666.1 591.9 653.5 605.2 639.7 617.9 626 628.6 613.4 636.8 600.7 643.2 588 647.8 575.4 650.5 562.7 651.4 550 650.5 537.4 647.8 524.7 643.2 512 636.8 499.4 628.6 485.7 617.9 471.9 605.2 459.3 591.9 447.7 578.4 436.1 563.7 423.4 546.6 410.7 528.3 386.5 491 330.5 401 316.8 380.1 303.1 360.5 288.3 341.1 273.6 324.1 259.8 310.4 246.1 298.9z"/><path fill="url(#g87)" stroke="url(#g87)" d="M248.7 299.2 262.3 310.8 275.9 324.6 289.5 340.4 304.1 359.6 317.8 379 331.4 399.6 386.8 488.4 410.9 525.3 423.5 543.3 436 560.2 447.6 574.7 459.1 588.1 472.7 602.3 485.2 613.9 498.8 624.6 511.4 632.7 525 639.6 537.6 644.1 550.1 646.8 562.7 647.7 575.3 646.8 587.8 644.1 600.4 639.6 614 632.7 626.6 624.6 640.2 613.9 652.7 602.3 666.3 588.1 677.8 574.7 689.4 560.2 701.9 543.3 714.5 525.3 738.6 488.4 794 399.6 807.6 379 821.3 359.6 835.9 340.4 849.5 324.6 863.1 310.8 876.7 299.2 883.5 298.4 868.5 310.7 853.6 325.5 838.6 342.8 823.6 362.4 809.7 382.4 795.8 403.8 740.2 494.1 715.6 532.3 702.8 550.9 690 568.5 678.2 583.5 666.4 597.3 652.5 611.9 639.7 623.8 626.9 633.9 614 642.3 601.2 648.9 588.4 653.7 575.5 656.5 562.7 657.5 549.9 656.5 537 653.7 524.2 648.9 511.4 642.3 498.5 633.9 485.7 623.8 472.9 611.9 459 597.3 447.2 583.5 435.4 568.5 422.6 550.9 409.8 532.3 385.2 494.1 329.6 403.8 315.7 382.4 301.8 362.4 286.8 342.8 271.8 325.5 256.9 310.7 241.9 298.4z"/><path fill="url(#g88)" stroke="url(#g88)" d="M244.5 298.7 259.4 311.1 273.2 324.9 288 342.1 302.9 361.6 316.6 381.4 330.4 402.4 385.6 491.5 410 529.2 422.7 547.7 435.4 565 447.1 579.8 458.8 593.5 472.6 608 485.3 619.8 499.1 630.7 511.8 638.9 524.5 645.4 537.2 650 550 652.8 562.7 653.7 575.4 652.8 588.2 650 600.9 645.4 613.6 638.9 626.3 630.7 640.1 619.8 652.8 608 666.6 593.5 678.3 579.8 690 565 702.7 547.7 715.4 529.2 739.8 491.5 795 402.4 808.8 381.4 822.5 361.6 837.4 342.1 852.2 324.9 866 311.1 880.9 298.7 887.9 297.8 870.6 311.9 856.5 325.6 841.3 343 826.1 362.9 812 383.1 796.8 406.5 741.6 497 716.6 536.2 703.6 555.3 690.6 573.2 678.7 588.6 666.8 602.7 652.7 617.6 639.7 629.7 626.7 640 613.6 648.6 600.6 655.2 587.6 659.9 574.6 662.7 562.7 663.5 550.8 662.7 537.8 659.9 524.8 655.2 511.8 648.6 498.7 640 485.7 629.7 472.7 617.6 458.6 602.7 446.7 588.6 434.8 573.2 421.8 555.3 408.8 536.2 383.8 497 328.6 406.5 313.4 383.1 299.3 362.9 284.1 343 268.9 325.6 254.8 311.9 237.5 297.8z"/><path fill="url(#g89)" stroke="url(#g89)" d="M240.2 298.2 256.4 311.4 270.3 325.1 285.4 342.4 300.4 362 314.4 382.1 329.5 405.2 385.3 496.3 410.1 534.8 423 553.5 435.9 571.2 447.7 586.2 459.5 600.1 473.5 614.8 486.4 626.6 499.3 636.7 512.2 645.1 525.1 651.6 538 656.2 549.8 658.8 562.7 659.8 575.6 658.8 587.4 656.2 600.3 651.6 613.2 645.1 626.1 636.7 639 626.6 651.9 614.8 665.9 600.1 677.7 586.2 689.5 571.2 702.4 553.5 715.3 534.8 740.1 496.3 795.9 405.2 811 382.1 825 362 840 342.4 855.1 325.1 869 311.4 885.2 298.2 892.5 297.1 873.8 312.1 859.5 325.8 844.1 343.2 828.7 363.1 814.4 383.7 799 407.4 740.8 503.5 715.5 543.3 702.3 562.7 690.2 579.4 678.1 595 666 609.3 652.8 623.3 639.6 635.7 626.5 646.2 613.3 654.8 600.1 661.5 588 665.9 574.8 668.7 562.7 669.6 550.6 668.7 537.4 665.9 525.3 661.5 512.1 654.8 498.9 646.2 485.8 635.7 472.6 623.3 459.4 609.3 447.3 595 435.2 579.4 423.1 562.7 409.9 543.3 384.6 503.5 326.4 407.4 311 383.7 296.7 363.1 281.3 343.2 265.9 325.8 251.6 312.1 232.9 297.1z"/><path fill="url(#g90)" stroke="url(#g90)" d="M235.8 297.5 253.2 311.6 267.4 325.3 282.6 342.6 297.9 362.4 312.1 382.7 327.3 406.2 384 499.2 409.1 538.7 422.1 557.9 435.2 575.9 447.2 591.3 459.2 605.5 472.3 619.4 485.3 631.6 498.4 642 511.5 650.7 524.6 657.4 536.5 661.8 549.6 664.8 562.7 665.8 575.8 664.8 588.9 661.8 600.8 657.4 613.9 650.7 627 642 640.1 631.6 653.1 619.4 666.2 605.5 678.2 591.3 690.2 575.9 703.3 557.9 716.3 538.7 741.4 499.2 798.1 406.2 813.3 382.7 827.5 362.4 842.8 342.6 858 325.3 872.2 311.6 889.6 297.5 897.3 296.4 876.1 313.3 861.6 327 846 344.5 830.3 364.8 815.9 385.7 800.2 410 741.1 508.2 716.6 547.2 703.2 567 690.9 584.2 678.7 600.1 666.4 614.7 653 629.1 639.6 641.6 626.3 652.3 614 660.4 600.6 667.3 588.3 671.8 576.1 674.6 569.4 675.4 562.7 675.7 556 675.4 549.3 674.6 537.1 671.8 524.8 667.3 511.4 660.4 499.1 652.3 485.8 641.6 472.4 629.1 459 614.7 446.7 600.1 434.5 584.2 422.2 567 408.8 547.2 384.3 508.2 325.2 410 309.5 385.7 295.1 364.8 279.4 344.5 263.8 327 249.3 313.3 228.1 296.4z"/><path fill="url(#g91)" stroke="url(#g91)" d="M231.2 296.8 251.1 312.8 265.4 326.5 280.9 344 296.4 364.2 310.7 384.9 326.2 408.8 383.7 503.9 409.1 544.1 422.4 563.7 434.5 580.6 446.7 596.4 458.8 610.8 472.1 625 485.3 637.5 498.6 648.1 511.9 656.9 524 663.1 537.3 668.1 543.9 669.8 550.5 671 562.7 671.8 574.9 671 581.5 669.8 588.1 668.1 601.4 663.1 613.5 656.9 626.8 648.1 640.1 637.5 653.3 625 666.6 610.8 678.7 596.4 690.9 580.6 703 563.7 716.3 544.1 741.7 503.9 799.2 408.8 814.7 384.9 829 364.2 844.5 344 860 326.5 874.3 312.8 894.2 296.8 902.3 295.6 878.5 314.4 865 327 849.1 344.5 832.1 366.4 817.4 387.6 801.6 412.4 740.4 514.7 715.5 554.4 701.9 574.6 689.5 591.9 677 608 665.7 621.4 652.1 636 639.7 647.6 627.2 657.7 613.6 666.7 601.2 673.2 588.7 677.9 581.9 679.7 575.2 680.9 562.7 681.9 550.2 680.9 543.5 679.7 536.7 677.9 524.2 673.2 511.8 666.7 498.2 657.7 485.7 647.6 473.3 636 459.7 621.4 448.4 608 435.9 591.9 423.5 574.6 409.9 554.4 385 514.7 323.8 412.4 308 387.6 293.3 366.4 276.3 344.5 260.4 327 246.9 314.4 223.1 295.6z"/><path fill="url(#g92)" stroke="url(#g92)" d="M226.3 296.1 248.7 314 262.2 326.6 277.9 344 294.7 365.8 309.3 386.9 325 411.3 384.4 510.4 409.1 549.6 422.5 569.6 434.9 586.9 447.2 602.9 459.5 617.5 473 631.9 486.4 644.5 498.8 654.3 512.2 663.1 525.7 670 538 674.4 550.4 677.1 562.7 677.9 575 677.1 587.4 674.4 599.7 670 613.2 663.1 626.6 654.3 639 644.5 652.4 631.9 665.9 617.5 678.2 602.9 690.5 586.9 702.9 569.6 716.3 549.6 741 510.4 800.4 411.3 816.1 386.9 830.7 365.8 847.5 344 863.2 326.6 876.7 314 899.1 296.1 907.7 294.8 881.2 315.5 867.4 328 859.4 336.4 851.3 345.6 834.1 367.8 818 391.1 801.9 416.5 742.1 517.4 716.8 558.1 703 578.8 690.3 596.6 677.7 613.1 666.2 626.9 652.4 641.8 639.7 653.7 625.9 664.8 613.3 673.1 600.6 679.6 588 684.3 575.3 687.2 562.7 688.1 550.1 687.2 537.4 684.3 524.8 679.6 512.1 673.1 499.5 664.8 485.7 653.7 473 641.8 459.2 626.9 447.7 613.1 435.1 596.6 422.4 578.8 408.6 558.1 383.3 517.4 323.5 416.5 307.4 391.1 291.3 367.8 274.1 345.6 266 336.4 258 328 244.2 315.5 217.7 294.8z"/><path fill="url(#g93)" stroke="url(#g93)" d="M221.1 295.3 246.2 315.1 258.7 326.5 266.7 334.8 274.6 343.9 291.7 365.8 306.5 387 323.6 413.7 383.9 515 409 555.1 422.7 575.6 435.2 593.1 447.7 609.4 459.1 623 472.8 637.7 485.3 649.5 498.9 660.5 511.5 668.8 525.1 675.9 537.7 680.5 550.2 683.2 562.7 684.1 575.2 683.2 587.7 680.5 600.3 675.9 613.9 668.8 626.5 660.5 640.1 649.5 652.6 637.7 666.3 623 677.7 609.4 690.2 593.1 702.7 575.6 716.4 555.1 741.5 515 801.8 413.7 818.9 387 833.7 365.8 850.8 343.9 858.7 334.8 866.7 326.5 879.2 315.1 904.3 295.3 913.4 294 902.9 301.6 885.4 315.5 877.2 322.4 870.2 329 862 337.4 852.6 348 836.3 369 821.1 391 803.5 418.6 787.2 445.9 741.6 523.8 715.8 565.4 703 584.7 690.1 602.9 678.4 618.2 665.6 633.7 652.7 647.6 638.7 660.8 625.8 671.1 613 679.5 600.1 686.1 588.4 690.5 575.6 693.4 562.7 694.4 549.8 693.4 537 690.5 525.3 686.1 512.4 679.5 499.6 671.1 486.7 660.8 472.7 647.6 459.8 633.7 447 618.2 435.3 602.9 422.4 584.7 409.6 565.4 383.8 523.8 338.2 445.9 321.9 418.6 304.3 391 289.1 369 272.8 348 263.4 337.4 255.2 329 248.2 322.4 240 315.5 222.5 301.6 212 294z"/><path fill="url(#g94)" stroke="url(#g94)" d="M215.7 294.5 242.3 315.2 256.2 327.6 264.3 335.9 273.5 346.4 289.7 367.1 304.7 388.7 322.1 415.9 338.3 442.8 383.4 519.6 408.9 560.6 422.7 581.4 435.5 599.3 448.2 615.9 459.7 629.7 473.6 644.6 486.4 656.5 499.1 666.8 511.8 675.2 524.5 681.8 537.3 686.6 550 689.4 562.7 690.4 575.4 689.4 588.1 686.6 600.9 681.8 613.6 675.2 626.3 666.8 639 656.5 651.8 644.6 665.7 629.7 677.2 615.9 689.9 599.3 702.7 581.4 716.5 560.6 742 519.6 787.1 442.8 803.3 415.9 820.7 388.7 835.7 367.1 851.9 346.4 861.1 335.9 869.2 327.6 883.1 315.2 909.7 294.5 919.6 293.3 910 299.8 900.5 307 882.7 321.3 874.4 328.7 864.8 338.2 856.5 347.4 848.2 357.5 838.7 370 823.2 392.3 805.4 420.4 787.5 450.3 742.3 528.1 716.1 570.7 703.1 590.5 690 609.1 676.9 626.2 665 640.4 651.9 654.5 638.8 666.9 626.9 676.5 613.8 685.3 600.8 692.2 587.7 697 575.8 699.7 562.7 700.7 549.6 699.7 537.7 697 524.6 692.2 511.6 685.3 498.5 676.5 486.6 666.9 473.5 654.5 460.4 640.4 448.5 626.2 435.4 609.1 422.3 590.5 409.3 570.7 383.1 528.1 337.9 450.3 320 420.4 302.2 392.3 286.7 370 277.2 357.5 268.9 347.4 260.6 338.2 251 328.7 242.7 321.3 224.9 307 215.4 299.8 205.8 293.3z"/><path fill="url(#g95)" stroke="url(#g95)" d="M209.9 293.8 219.3 300.4 231 309.6 245.1 321 253.4 328.5 261.6 336.8 271 347.3 287.5 368.2 302.8 390.2 320.4 417.9 338.1 447.3 383.9 525.9 409.8 567.8 422.7 587.3 435.7 605.5 447.4 620.9 460.4 636.5 473.3 650.4 486.2 662.6 499.2 673 512.1 681.6 525.1 688.3 538 693 550.9 695.8 562.7 696.6 574.5 695.8 587.4 693 600.3 688.3 613.3 681.6 626.2 673 639.2 662.6 652.1 650.4 665 636.5 678 620.9 689.7 605.5 702.7 587.3 715.6 567.8 741.5 525.9 787.3 447.3 805 417.9 822.6 390.2 837.9 368.2 854.4 347.3 863.8 336.8 872 328.5 880.3 321 894.4 309.6 906.1 300.4 915.5 293.8 926.2 292.7 915.3 299.7 906.9 305.8 887.5 321.2 877.8 329.4 868.1 338.9 859.6 348.1 851.1 358.1 841.4 370.7 824.5 395.1 806.3 423.9 788.1 454.5 743.3 532.2 716.6 575.9 703.3 596.2 689.9 615.2 676.6 632.7 664.5 647.2 651.2 661.6 637.8 674 624.5 684.6 612.4 692.5 600.3 698.7 588.1 703.3 574.8 706.2 562.7 707.1 550.6 706.2 537.3 703.3 525.1 698.7 513 692.5 500.9 684.6 487.6 674 474.2 661.6 460.9 647.2 448.8 632.7 435.5 615.2 422.1 596.2 408.8 575.9 382.1 532.2 337.3 454.5 319.1 423.9 300.9 395.1 284 370.7 274.3 358.1 265.8 348.1 257.3 338.9 247.6 329.4 237.9 321.2 218.5 305.8 210.1 299.7 199.2 292.7z"/><path fill="url(#g96)" stroke="url(#g96)" d="M203.6 293.1 213.2 299.5 222.8 306.6 240.7 320.9 250.3 329.3 259.9 338.8 268.2 348.1 276.6 358.2 286.2 370.8 301.8 393.2 319.7 421.6 337.7 451.7 383.2 530.2 409.5 573.1 422.7 593 435.8 611.7 449 628.9 461 643.2 474.1 657.3 487.3 669.7 500.5 680.1 512.4 688 524.4 694.2 537.6 699.2 549.5 701.9 556.7 702.7 562.7 702.9 568.7 702.7 575.9 701.9 587.8 699.2 601 694.2 613 688 624.9 680.1 638.1 669.7 651.3 657.3 664.4 643.2 676.4 628.9 689.6 611.7 702.7 593 715.9 573.1 742.2 530.2 787.7 451.7 805.7 421.6 823.6 393.2 839.2 370.8 848.8 358.2 857.2 348.1 865.5 338.8 875.1 329.3 884.7 320.9 902.6 306.6 912.2 299.5 921.8 293.1 933.7 292.2 921.3 299.7 910.2 307.3 897.8 316.9 880.5 331.1 870.6 340.5 862 349.8 853.3 360 843.4 372.7 826.1 397.5 807.5 426.9 789 458.4 743.2 538.1 716 582.8 702.4 603.6 688.8 622.9 676.5 639.2 664.1 654 650.5 668.6 638.1 680.2 625.8 690.1 612.2 699.1 599.8 705.4 587.4 709.9 575.1 712.7 562.7 713.6 550.3 712.7 538 709.9 525.6 705.4 513.2 699.1 499.6 690.1 487.3 680.2 474.9 668.6 461.3 654 448.9 639.2 436.6 622.9 423 603.6 409.4 582.8 382.2 538.1 336.4 458.4 317.9 426.9 299.3 397.5 282 372.7 272.1 360 263.4 349.8 254.8 340.5 244.9 331.1 227.6 316.9 215.2 307.3 204.1 299.7 191.7 292.2z"/><path fill="url(#g97)" stroke="url(#g97)" d="M196.7 292.5 208.9 300.2 217.5 306.3 237 321.7 246.7 330 256.5 339.4 265 348.7 273.6 358.8 283.3 371.4 300.4 395.9 318.7 424.9 337 455.9 382.2 534.2 409 578.2 422.4 598.7 435.8 617.8 449.2 635.4 461.4 650 474.9 664.3 487.1 675.8 500.5 686.5 512.7 694.5 524.9 700.8 537.1 705.4 544.4 707.3 550.5 708.4 562.7 709.3 574.9 708.4 581 707.3 588.3 705.4 600.5 700.8 612.7 694.5 624.9 686.5 638.3 675.8 650.5 664.3 664 650 676.2 635.4 689.6 617.8 703 598.7 716.4 578.2 743.2 534.2 788.4 455.9 806.7 424.9 825 395.9 842.1 371.4 851.8 358.8 860.4 348.7 868.9 339.4 878.7 330 888.4 321.7 907.9 306.3 916.5 300.2 928.7 292.5 942 291.3 940.7 292.5 926.8 300.4 912.9 309.6 901.6 318.3 882.6 333.7 873.7 342 864.9 351.2 856 361.4 845.9 374.2 828.2 399.4 809.3 429.4 790.3 461.7 742.2 545.8 727.1 571.2 714.4 591.5 700.5 612.6 687.9 630.5 675.2 647 662.6 662.1 649.9 675.5 637.3 687.3 624.7 697.4 612 705.6 600.6 711.5 588 716.3 575.3 719.2 562.7 720.1 550.1 719.2 537.4 716.3 524.8 711.5 513.4 705.6 500.7 697.4 488.1 687.3 475.5 675.5 462.8 662.1 450.2 647 437.5 630.5 424.9 612.6 411 591.5 398.3 571.2 383.2 545.8 335.1 461.7 316.1 429.4 297.2 399.4 279.5 374.2 269.4 361.4 260.5 351.2 251.7 342 242.8 333.7 223.8 318.3 212.5 309.6 198.6 300.4 184.7 292.5 183.4 291.3z"/><path fill="url(#g98)" stroke="url(#g98)" d="M189.3 292.1 201.8 299.4 213 306.9 225.4 316.4 244.1 331.7 252.8 339.9 262.8 350.4 271.5 360.6 281.4 373.4 298.9 398.3 317.5 428 336.2 459.7 382.2 540 409.6 585.1 423.3 605.9 437 625.4 449.4 641.7 461.9 656.6 474.3 669.9 488 682.8 500.5 692.7 512.9 700.8 525.4 707.3 537.8 711.9 550.3 714.6 562.7 715.5 575.1 714.6 587.6 711.9 600 707.3 612.5 700.8 624.9 692.7 637.4 682.8 651.1 669.9 663.5 656.6 676 641.7 688.4 625.4 702.1 605.9 715.8 585.1 743.2 540 789.2 459.7 807.9 428 826.5 398.3 844 373.4 853.9 360.6 862.6 350.4 872.6 339.9 881.3 331.7 900 316.4 912.4 306.9 923.6 299.4 936.1 292.1 951.9 286.4 941.6 296.8 927.3 305 914.3 313.5 902.6 322.4 883.2 338.3 874.1 346.7 865 356.3 855.9 366.8 846.8 378.4 828.7 404.2 809.2 435.2 789.8 468.5 743 550.6 715.8 595.7 701.5 617.5 688.6 636 675.6 653.1 662.6 668.6 649.6 682.4 636.7 694.5 623.7 704.7 612 712.3 599 718.9 587.4 723.1 574.4 726 562.7 726.8 551 726 538 723.1 526.4 718.9 513.4 712.3 501.7 704.7 488.7 694.5 475.8 682.4 462.8 668.6 449.8 653.1 436.8 636 423.9 617.5 409.6 595.7 382.4 550.6 335.6 468.5 316.2 435.2 296.7 404.2 278.6 378.4 269.5 366.8 260.4 356.3 251.3 346.7 242.2 338.3 222.8 322.4 211.1 313.5 198.1 305 183.8 296.8 173.5 286.4z"/><path fill="url(#g99)" stroke="url(#g99)" d="M181.2 290.2 185.1 293.8 199.1 301.8 213 311.1 224.5 319.9 242.3 334.4 251.2 342.6 260.1 351.9 270.3 363.6 279.2 375 297 400.3 316 430.5 335.1 463 382.1 545.5 397.4 571.1 410.1 591.6 424.1 612.9 436.8 631 449.5 647.7 462.3 662.9 475 676.5 487.7 688.5 500.4 698.6 513.1 707 525.8 713.5 538.5 718.1 550 720.7 562.7 721.6 575.4 720.7 586.9 718.1 599.6 713.5 612.3 707 625 698.6 637.7 688.5 650.4 676.5 663.1 662.9 675.9 647.7 688.6 631 701.3 612.9 715.3 591.6 728 571.1 743.3 545.5 790.3 463 809.4 430.5 828.4 400.3 846.2 375 855.1 363.6 865.3 351.9 874.2 342.6 883.1 334.4 900.9 319.9 912.4 311.1 926.3 301.8 940.3 293.8 944.2 290.2 964.5 279.9 941.7 302.8 928.3 310.4 914.9 319.2 902.9 328.3 882.8 344.8 874.8 352.3 865.4 362.1 856 373 848 383.2 830.6 407.8 810.5 439.7 790.4 474 742.2 558.9 715.4 603.2 702 623.7 688.6 642.8 675.2 660.4 661.8 676.4 648.4 690.5 636.4 701.6 623 712.1 610.9 719.9 598.9 725.9 586.8 730.2 576.1 732.7 562.7 733.7 549.3 732.7 538.6 730.2 526.5 725.9 514.5 719.9 502.4 712.1 489 701.6 477 690.5 463.6 676.4 450.2 660.4 436.8 642.8 423.4 623.7 410 603.2 383.2 558.9 335 474 314.9 439.7 294.8 407.8 277.4 383.2 269.4 373 260 362.1 250.6 352.3 242.6 344.8 222.5 328.3 210.5 319.2 197.1 310.4 183.7 302.8 160.9 279.9z"/><path fill="url(#g100)" stroke="url(#g100)" d="M168.2 283.6 183.9 299.5 198.4 307.7 211.6 316.4 224.7 326.5 243.1 341.6 251 349.1 260.2 358.7 269.4 369.4 277.3 379.4 286.5 392 295.7 405.5 315.5 436.8 335.2 470.6 382.5 553.9 397 578.3 410.1 599.6 423.3 619.7 436.4 638.5 449.6 655.9 462.8 671.6 475.9 685.6 489.1 697.8 502.2 708.1 514 715.7 527.2 722.3 539 726.5 550.9 729 562.7 729.8 574.5 729 586.4 726.5 598.2 722.3 611.4 715.7 623.2 708.1 636.3 697.8 649.5 685.6 662.6 671.6 675.8 655.9 689 638.5 702.1 619.7 715.3 599.6 728.4 578.3 742.9 553.9 790.2 470.6 809.9 436.8 829.7 405.5 838.9 392 848.1 379.4 856 369.4 865.2 358.7 874.4 349.1 882.3 341.6 900.7 326.5 913.8 316.4 927 307.7 941.5 299.5 957.2 283.6 951.7 298.4 941.3 308.8 927.1 316.9 914.1 325.5 902.4 334.4 883 350.3 873.9 358.7 864.8 368.3 855.8 378.8 846.7 390.4 828.5 416.3 809.1 447.3 789.6 480.5 742.9 562.6 715.7 607.7 701.5 629.5 688.5 647.9 675.5 665 662.5 680.5 649.6 694.3 636.6 706.3 623.6 716.5 612 724.1 599 730.7 587.3 734.9 574.4 737.8 562.7 738.6 551 737.8 538.1 734.9 526.4 730.7 513.4 724.1 501.8 716.5 488.8 706.3 475.8 694.3 462.9 680.5 449.9 665 436.9 647.9 423.9 629.5 409.7 607.7 382.5 562.6 335.8 480.5 316.3 447.3 296.9 416.3 278.7 390.4 269.6 378.8 260.6 368.3 251.5 358.7 242.4 350.3 223 334.4 211.3 325.5 198.3 316.9 184.1 308.8 173.7 298.4z"/><path fill="url(#g101)" stroke="url(#g101)" d="M167.8 289.9 183.6 305.8 198.1 314.2 211.2 322.9 223.1 331.9 242.8 348.1 250.7 355.5 259.9 365.1 269.1 375.8 278.4 387.5 295.5 411.8 315.2 443.1 335 476.9 382.4 560.3 396.8 584.8 410 606.1 424.5 628.2 437.6 646.9 449.5 662.4 462.7 678.2 475.8 692.2 489 704.5 502.1 714.8 514 722.4 527.2 729 539 733.2 550.9 735.8 562.7 736.5 574.5 735.8 586.4 733.2 598.2 729 611.4 722.4 623.3 714.8 636.4 704.5 649.6 692.2 662.7 678.2 675.9 662.4 687.8 646.9 700.9 628.2 715.4 606.1 728.6 584.8 743 560.3 790.4 476.9 810.2 443.1 829.9 411.8 847 387.5 856.3 375.8 865.5 365.1 874.7 355.5 882.6 348.1 902.3 331.9 914.2 322.9 927.3 314.2 941.8 305.8 957.6 289.9 941.9 312.3 940.6 313.5 924.2 323 912.8 330.6 901.4 339.3 882.5 354.7 873.6 363 864.8 372.2 855.9 382.4 845.8 395.2 828.1 420.4 809.2 450.5 790.2 482.7 743.4 564.6 728.3 590.1 715.6 610.5 701.7 631.7 687.8 651.4 675.2 668 662.6 683 649.9 696.4 637.3 708.2 624.6 718.3 612 726.5 600.6 732.4 588 737.2 575.3 740 562.7 741 550.1 740 537.4 737.2 524.8 732.4 513.4 726.5 500.8 718.3 488.1 708.2 475.5 696.4 462.8 683 450.2 668 437.6 651.4 423.7 631.7 409.8 610.5 397.1 590.1 382 564.6 335.2 482.7 316.2 450.5 297.3 420.4 279.6 395.2 269.5 382.4 260.6 372.2 251.8 363 242.9 354.7 224 339.3 212.6 330.6 201.2 323 184.8 313.5 183.5 312.3z"/><path fill="url(#g102)" stroke="url(#g102)" d="M178.5 305.3 184.9 311.4 200.3 320.3 214.4 329.8 242.6 352.4 251.5 360.8 260.5 370.1 269.5 380.5 279.7 393.6 296.3 417.3 315.6 447.7 334.8 480.5 382.1 563.6 397.5 589.5 410.3 610.1 424.4 631.6 437.2 649.8 450 666.5 462.8 681.8 475.6 695.4 488.4 707.4 501.2 717.5 514 725.8 526.8 732.2 538.4 736.4 549.9 738.9 562.7 739.9 575.5 738.9 587 736.4 598.6 732.2 611.4 725.8 624.2 717.5 637 707.4 649.8 695.4 662.6 681.8 675.4 666.5 688.2 649.8 701 631.6 715.1 610.1 727.9 589.5 743.3 563.6 790.6 480.5 809.8 447.7 829.1 417.3 845.7 393.6 855.9 380.5 864.9 370.1 873.9 360.8 882.8 352.4 911 329.8 925.1 320.3 940.5 311.4 946.9 305.3 933.6 320.8 921.2 328.3 910.1 335.9 897.7 345.5 880.4 359.7 870.5 369.2 861.9 378.4 853.2 388.6 843.3 401.3 826 426.1 807.5 455.5 789 487 743.2 566.7 716 611.4 702.4 632.1 688.8 651.5 676.4 667.7 664.1 682.5 650.5 697.1 638.1 708.7 625.8 718.7 612.2 727.6 599.8 734 587.4 738.5 575.1 741.2 562.7 742.1 550.3 741.2 538 738.5 525.6 734 513.2 727.6 499.6 718.7 487.3 708.7 474.9 697.1 461.3 682.5 449 667.7 436.6 651.5 423 632.1 409.4 611.4 382.2 566.7 336.4 487 317.9 455.5 299.4 426.1 282.1 401.3 272.2 388.6 263.5 378.4 254.9 369.2 245 359.7 227.7 345.5 215.3 335.9 204.2 328.3 191.8 320.8z"/><path fill="url(#g103)" stroke="url(#g103)" d="M187.4 316.5 199.9 323.8 212.4 332 224.9 341.6 243.7 356.9 252.4 365.1 262.4 375.6 271.2 385.9 281.2 398.7 298.7 423.8 317.5 453.7 336.3 485.6 382.5 566.5 397.6 591.7 410.1 611.8 423.8 632.7 437.6 652.2 450.1 668.5 462.6 683.4 475.1 696.8 487.6 708.5 500.1 718.5 512.7 726.8 525.2 733.2 537.7 737.9 550.2 740.7 562.7 741.6 575.2 740.7 587.7 737.9 600.2 733.2 612.7 726.8 625.3 718.5 637.8 708.5 650.3 696.8 662.8 683.4 675.3 668.5 687.8 652.2 701.6 632.7 715.3 611.8 727.8 591.7 742.9 566.5 789.1 485.6 807.9 453.7 826.7 423.8 844.2 398.7 854.2 385.9 863 375.6 873 365.1 881.7 356.9 900.5 341.6 913 332 925.5 323.8 938 316.5 926.2 328.1 915.3 335.1 906.8 341.2 887.4 356.5 877.8 364.8 868.1 374.2 859.6 383.4 851.1 393.5 841.4 406.1 824.4 430.4 806.3 459.2 788.1 489.9 743.3 567.6 716.6 611.3 703.3 631.6 689.9 650.6 676.6 668.1 664.5 682.6 651.2 696.9 637.8 709.4 624.5 720 612.4 727.9 600.3 734.1 588.1 738.6 574.8 741.6 562.7 742.5 550.6 741.6 537.3 738.6 525.1 734.1 513 727.9 500.9 720 487.6 709.4 474.2 696.9 460.9 682.6 448.8 668.1 435.5 650.6 422.1 631.6 408.8 611.3 382.1 567.6 337.3 489.9 319.1 459.2 301 430.4 284 406.1 274.3 393.5 265.8 383.4 257.3 374.2 247.6 364.8 238 356.5 218.6 341.2 210.1 335.1 199.2 328.1z"/><path fill="url(#g104)" stroke="url(#g104)" d="M195.2 324.1 207.4 331.7 217.2 338.7 236.8 354.2 246.6 362.5 256.4 372 265 381.2 273.6 391.4 283.4 404.1 300.5 428.8 318.9 458 337.3 489.1 382.6 567.9 409.6 612.1 423 632.6 436.5 651.7 448.8 667.8 461 682.5 474.5 697 486.7 708.5 500.2 719.3 512.5 727.4 525.9 734.3 538.2 738.8 550.4 741.5 562.7 742.4 575 741.5 587.2 738.8 599.5 734.3 612.9 727.4 625.2 719.3 638.7 708.5 650.9 697 664.4 682.5 676.6 667.8 688.9 651.7 702.4 632.6 715.8 612.1 742.8 567.9 788.1 489.1 806.5 458 824.9 428.8 842 404.1 851.8 391.4 860.4 381.2 869 372 878.8 362.5 888.6 354.2 908.2 338.7 918 331.7 930.2 324.1 919.6 334.8 910 341.3 900.5 348.5 882.7 362.8 874.4 370.2 864.8 379.7 856.5 388.9 848.2 399 838.7 411.5 823.2 433.8 805.4 461.9 787.5 491.8 742.3 569.6 716.2 612.2 703.1 632 690 650.6 676.9 667.7 665 681.9 651.9 696 638.8 708.4 626.9 718 613.9 726.8 600.8 733.7 587.7 738.5 575.8 741.2 562.7 742.2 549.6 741.2 537.7 738.5 524.6 733.7 511.5 726.8 498.5 718 486.6 708.4 473.5 696 460.4 681.9 448.5 667.7 435.4 650.6 422.3 632 409.2 612.2 383.1 569.6 337.9 491.8 320 461.9 302.2 433.8 286.7 411.5 277.2 399 268.9 388.9 260.6 379.7 251 370.2 242.7 362.8 224.9 348.5 215.4 341.3 205.8 334.8z"/><path fill="url(#g105)" stroke="url(#g105)" d="M202.2 331.1 211.8 337.4 221.4 344.4 240.6 359.8 249 367.1 258.6 376.6 267.1 385.8 275.5 395.8 285.1 408.3 301.9 432.6 319.9 461.1 338 491.5 382.4 568.3 408.9 611.5 422.1 631.6 435.3 650.4 448.5 667.8 460.5 682.2 473.8 696.4 487 708.9 500.2 719.5 512.2 727.4 524.2 733.7 537.5 738.6 543.5 740.2 550.7 741.5 562.7 742.4 574.7 741.5 581.9 740.2 587.9 738.6 601.2 733.7 613.2 727.4 625.2 719.5 638.4 708.9 651.6 696.4 664.9 682.2 676.9 667.8 690.1 650.4 703.3 631.6 716.5 611.5 743 568.3 787.4 491.5 805.5 461.1 823.5 432.6 840.3 408.3 849.9 395.8 858.3 385.8 866.8 376.6 876.4 367.1 884.8 359.8 904 344.4 913.6 337.4 923.2 331.1 913.4 341.1 902.9 348.8 885.4 362.7 877.2 369.5 870.2 376.1 862 384.5 852.6 395.1 836.3 416.1 821.1 438.1 803.5 465.7 787.2 493 741.6 570.9 715.9 612.5 703 631.9 690.1 650 678.4 665.4 665.6 680.8 652.7 694.7 638.7 707.9 625.8 718.2 613 726.7 600.1 733.3 588.4 737.6 575.6 740.5 562.7 741.5 549.8 740.5 537 737.6 525.3 733.3 512.4 726.7 499.6 718.2 486.7 707.9 472.7 694.7 459.8 680.8 447 665.4 435.3 650 422.4 631.9 409.5 612.5 383.8 570.9 338.2 493 321.9 465.7 304.3 438.1 289.1 416.1 272.8 395.1 263.4 384.5 255.2 376.1 248.2 369.5 240 362.7 222.5 348.8 212 341.1z"/><path fill="url(#g106)" stroke="url(#g106)" d="M208.5 337.6 216.8 343.3 227.4 351.4 242.8 363.8 252.2 372.2 261.7 381.7 269.9 390.9 278.2 400.9 287.6 413.3 303 435.5 320.7 463.4 338.4 493 383.3 570 409.2 612.1 422.2 631.8 435.2 650.2 447 665.7 460 681.3 473 695.4 486 707.7 499 718.2 511.9 726.8 524.9 733.5 537.9 738.3 550.9 741.1 562.7 742 574.5 741.1 587.5 738.3 600.5 733.5 613.5 726.8 626.4 718.2 639.4 707.7 652.4 695.4 665.4 681.3 678.4 665.7 690.2 650.2 703.2 631.8 716.2 612.1 742.1 570 787 493 804.7 463.4 822.4 435.5 837.8 413.3 847.2 400.9 855.5 390.9 863.7 381.7 873.2 372.2 882.6 363.8 898 351.4 908.6 343.3 916.9 337.6 907.7 347.1 881.3 367.8 867.5 380.4 859.4 388.8 851.4 398 834.1 420.1 818 443.5 801.9 468.9 742.1 569.8 716.8 610.5 703 631.2 690.4 649 677.7 665.5 666.2 679.3 652.4 694.2 639.8 706.1 626 717.2 613.3 725.5 600.7 732.1 588 736.7 575.4 739.6 562.7 740.5 550 739.6 537.4 736.7 524.7 732.1 512.1 725.5 499.4 717.2 485.6 706.1 473 694.2 459.2 679.3 447.7 665.5 435 649 422.4 631.2 408.6 610.5 383.3 569.8 323.5 468.9 307.4 443.5 291.3 420.1 274 398 266 388.8 257.9 380.4 244.1 367.8 217.7 347.1z"/><path fill="url(#g107)" stroke="url(#g107)" d="M214.5 343.7 224.9 351.5 242.3 365.3 256.2 377.8 264.4 386.2 272.5 395.4 280.6 405.4 289.9 417.7 305 439.5 322.4 466.8 383.9 571 409.5 612.2 422.2 631.4 435 649.4 447.8 666.1 459.4 680 473.3 695 486.1 707 498.9 717.3 511.6 725.8 524.4 732.5 537.2 737.3 549.9 740.2 562.7 741.1 575.5 740.2 588.2 737.3 601 732.5 613.8 725.8 626.5 717.3 639.3 707 652.1 695 666 680 677.6 666.1 690.4 649.4 703.2 631.4 715.9 612.2 741.5 571 803 466.8 820.4 439.5 835.5 417.7 844.8 405.4 852.9 395.4 861 386.2 869.2 377.8 883.1 365.3 900.5 351.5 910.9 343.7 902.4 352.9 878.6 371.7 865 384.3 849.2 401.7 832.2 423.7 817.5 444.9 801.6 469.7 740.5 572 715.6 611.7 702 631.9 689.5 649.3 677.1 665.3 665.7 678.8 652.1 693.3 639.7 705 627.2 715 613.7 724.1 601.2 730.6 588.7 735.2 581.9 737 575.2 738.3 562.7 739.2 550.2 738.3 543.5 737 536.7 735.2 524.2 730.6 511.7 724.1 498.2 715 485.7 705 473.3 693.3 459.7 678.8 448.3 665.3 435.9 649.3 423.4 631.9 409.8 611.7 384.9 572 323.8 469.7 307.9 444.9 293.2 423.7 276.2 401.7 260.4 384.3 246.8 371.7 223 352.9z"/><path fill="url(#g108)" stroke="url(#g108)" d="M220 349.6 245.1 369.4 258.8 381.9 266.8 390.3 274.8 399.4 292 421.5 308 444.6 324 469.8 384.5 571.6 409.6 611.8 423.3 632.3 435.9 649.8 448.5 666.1 459.9 679.7 473.6 694.3 486.2 706.1 499.9 717 512.4 725.2 525 731.7 537.6 736.3 550.1 739.1 562.7 740 575.3 739.1 587.8 736.3 600.4 731.7 613 725.2 625.5 717 639.2 706.1 651.8 694.3 665.5 679.7 676.9 666.1 689.5 649.8 702.1 632.3 715.8 611.8 740.9 571.6 801.4 469.8 817.4 444.6 833.4 421.5 850.6 399.4 858.6 390.3 866.6 381.9 880.3 369.4 905.4 349.6 897.3 358.3 876.1 375.2 861.6 388.9 846 406.5 830.4 426.7 815.9 447.6 800.3 471.9 741.2 570.1 716.6 609.1 703.2 629 691 646.1 678.7 662.1 666.4 676.7 653.1 691.1 639.7 703.6 626.3 714.3 614 722.4 600.6 729.3 588.4 733.9 576.1 736.7 569.4 737.4 562.7 737.7 556 737.4 549.3 736.7 537 733.9 524.8 729.3 511.4 722.4 499.1 714.3 485.7 703.6 472.3 691.1 459 676.7 446.7 662.1 434.4 646.1 422.2 629 408.8 609.1 384.2 570.1 325.1 471.9 309.5 447.6 295 426.7 279.4 406.5 263.8 388.9 249.3 375.2 228.1 358.3z"/><path fill="url(#g109)" stroke="url(#g109)" d="M225.2 355.2 247.7 373.1 261.2 385.6 277 403 293.8 424.8 308.5 445.9 324.2 470.4 385 571.8 409.7 611.1 423.2 631.1 435.6 648.4 448 664.4 459.2 677.7 472.7 692.2 486.2 704.9 498.6 714.8 512.1 723.7 525.6 730.5 538 735 550.3 737.7 562.7 738.6 575.1 737.7 587.4 735 599.8 730.5 613.3 723.7 626.8 714.8 639.2 704.9 652.7 692.2 666.2 677.7 677.4 664.4 689.8 648.4 702.2 631.1 715.7 611.1 740.4 571.8 801.2 470.4 816.9 445.9 831.6 424.8 848.4 403 864.2 385.6 877.7 373.1 900.2 355.2 892.6 363.4 873.9 378.5 859.6 392.1 844.2 409.5 828.8 429.4 814.5 450 799.1 473.7 740.8 569.9 715.5 609.7 702.3 629.1 690.2 645.8 678.2 661.4 666.1 675.7 652.9 689.7 639.7 702.1 626.5 712.6 613.3 721.2 601.2 727.4 588 732.3 574.8 735.2 562.7 736 550.6 735.2 537.4 732.3 524.2 727.4 512.1 721.2 498.9 712.6 485.7 702.1 472.5 689.7 459.3 675.7 447.2 661.4 435.2 645.8 423.1 629.1 409.9 609.7 384.6 569.9 326.3 473.7 310.9 450 296.6 429.4 281.2 409.5 265.8 392.1 251.5 378.5 232.8 363.4z"/><path fill="url(#g110)" stroke="url(#g110)" d="M230.1 360.5 250.1 376.5 264.5 390.1 280 407.5 295.5 427.7 309.9 448.4 325.4 472.4 384.2 569.8 408.6 608.4 421.9 628.2 434.1 645.2 446.3 661 458.5 675.6 471.8 689.9 485.1 702.4 498.4 713.1 511.7 721.9 523.9 728.3 537.2 733.2 549.4 736 556 736.8 562.7 737 569.4 736.8 576 736 588.2 733.2 601.5 728.3 613.7 721.9 627 713.1 640.3 702.4 653.6 689.9 666.9 675.6 679.1 661 691.3 645.2 703.5 628.2 716.8 608.4 741.2 569.8 800 472.4 815.5 448.4 829.9 427.7 845.4 407.5 860.9 390.1 875.3 376.5 895.3 360.5 888 368.3 870.6 382.4 856.5 396.2 841.4 413.5 826.2 433.4 812.1 453.6 796.9 477 740.5 569.3 715.6 608.4 702.6 627.4 689.6 645.3 677.6 660.5 665.7 674.5 652.7 688.2 639.7 700.3 626.7 710.7 613.7 719.2 600.7 725.8 587.6 730.5 574.6 733.3 562.7 734.1 550.8 733.3 537.8 730.5 524.7 725.8 511.7 719.2 498.7 710.7 485.7 700.3 472.7 688.2 459.7 674.5 447.8 660.5 435.8 645.3 422.8 627.4 409.8 608.4 384.9 569.3 328.5 477 313.3 453.6 299.2 433.4 284 413.5 268.9 396.2 254.8 382.4 237.4 368.3z"/><path fill="url(#g111)" stroke="url(#g111)" d="M234.8 365.5 252.3 379.6 266.5 393.2 281.8 410.4 298.2 431.7 312.4 452.2 327.7 475.9 383.4 567.6 408.6 607.2 421.7 626.6 434.8 644.8 446.8 660.3 458.9 674.5 472 688.5 485.1 700.8 498.2 711.3 511.3 720 524.4 726.8 537.6 731.6 550.7 734.4 562.7 735.2 574.7 734.4 587.8 731.6 601 726.8 614.1 720 627.2 711.3 640.3 700.8 653.4 688.5 666.5 674.5 678.6 660.3 690.6 644.8 703.7 626.6 716.8 607.2 742 567.6 797.7 475.9 813 452.2 827.2 431.7 843.6 410.4 858.9 393.2 873.1 379.6 890.6 365.5 883.6 372.9 868.6 385.2 853.7 400 838.7 417.3 823.7 437 809.8 457 795.9 478.3 740.3 568.6 715.7 606.9 702.8 625.6 690 643.1 678.2 658.1 666.5 671.9 652.6 686.6 639.7 698.4 626.9 708.6 614 717 601.2 723.6 588.4 728.4 575.5 731.2 562.7 732.2 549.9 731.2 537 728.4 524.2 723.6 511.4 717 498.5 708.6 485.7 698.4 472.8 686.6 458.9 671.9 447.2 658.1 435.4 643.1 422.6 625.6 409.7 606.9 385.1 568.6 329.5 478.3 315.6 457 301.7 437 286.7 417.3 271.7 400 256.8 385.2 241.8 372.9z"/><path fill="url(#g112)" stroke="url(#g112)" d="M239.3 370.2 255.4 383.5 269.4 397.1 284.5 414.4 299.6 434 313.6 454.1 328.7 477.3 384.8 568.8 409.6 607.5 422.5 626.4 435.5 644.2 447.3 659.3 459.2 673.2 473.2 688 486.2 700 499.1 710.2 512 718.6 525 725.1 537.9 729.8 549.8 732.4 562.7 733.3 575.6 732.4 587.5 729.8 600.4 725.1 613.4 718.6 626.3 710.2 639.2 700 652.2 688 666.2 673.2 678.1 659.3 689.9 644.2 702.9 626.4 715.8 607.5 740.6 568.8 796.7 477.3 811.8 454.1 825.8 434 840.9 414.4 856 397.1 870 383.5 886.1 370.2 879.4 377.3 865.6 388.8 851.9 402.5 837.1 419.6 822.4 438.9 808.6 458.5 794.9 479.4 739 569.5 714.7 606.8 702 625.1 689.4 642.2 677.8 656.9 666.1 670.4 653.5 683.8 639.8 696.4 626 707.2 613.4 715.4 600.7 721.8 588 726.3 575.4 729.1 562.7 730 550 729.1 537.4 726.3 524.7 721.8 512 715.4 499.4 707.2 485.6 696.4 471.9 683.8 459.3 670.4 447.6 656.9 436 642.2 423.4 625.1 410.7 606.8 386.4 569.5 330.5 479.4 316.8 458.5 303 438.9 288.3 419.6 273.5 402.5 259.8 388.8 246 377.3z"/><path fill="url(#g113)" stroke="url(#g113)" d="M243.6 374.8 258.5 387.2 272.3 400.9 287.2 418.1 302.1 437.5 315.9 457.4 329.7 478.5 386.1 569.7 410.6 607.5 423.3 626 436.1 643.4 447.8 658.2 459.5 671.8 473.3 686.3 486.1 698 498.9 708.1 511.6 716.4 524.4 722.9 537.2 727.5 549.9 730.4 562.7 731.3 575.5 730.4 588.2 727.5 601 722.9 613.8 716.4 626.5 708.1 639.3 698 652.1 686.3 665.9 671.8 677.6 658.2 689.3 643.4 702.1 626 714.8 607.5 739.3 569.7 795.7 478.5 809.5 457.4 823.3 437.5 838.2 418.1 853.1 400.9 866.9 387.2 881.8 374.8 875.3 381.5 861.7 393.3 848.2 407.1 834.6 422.9 820.1 442.1 806.5 461.4 793 481.9 738.8 568.4 714.8 605.1 702.3 623 689.8 639.9 678.4 654.3 666.9 667.6 653.3 681.9 639.8 694.3 626.3 704.9 613.8 713 600.2 719.8 587.7 724.2 575.2 726.9 562.7 727.8 550.2 726.9 537.7 724.2 525.2 719.8 511.6 713 499.1 704.9 485.6 694.3 472.1 681.9 458.5 667.6 447 654.3 435.6 639.9 423.1 623 410.6 605.1 386.6 568.4 332.4 481.9 318.9 461.4 305.3 442.1 290.8 422.9 277.2 407.1 263.7 393.3 250.1 381.5z"/><path fill="url(#g114)" stroke="url(#g114)" d="M247.8 379.1 261.4 390.7 275.1 404.4 289.7 421.5 304.4 440.8 318.1 460.4 331.7 481.2 386.3 568.8 410.5 605.8 423.1 624 435.7 641 447.2 655.6 458.8 669.1 471.4 682.4 485 695.1 498.7 705.8 511.3 714 524.9 720.9 537.5 725.5 550.1 728.2 562.7 729.1 575.3 728.2 587.9 725.5 600.5 720.9 614.1 714 626.7 705.8 640.4 695.1 654 682.4 666.6 669.1 678.2 655.6 689.7 641 702.3 624 714.9 605.8 739.1 568.8 793.7 481.2 807.3 460.4 821 440.8 835.7 421.5 850.3 404.4 864 390.7 877.6 379.1 871.3 385.6 859 396.5 845.6 410.3 831.2 427.4 817.8 445 805.5 462.5 792.1 482.6 737.6 568.9 715 603.2 702.6 620.8 690.3 637.4 678.9 651.6 666.6 665.9 653.2 679.9 639.9 692.1 627.5 701.8 614.1 710.5 600.8 717.2 588.4 721.7 575 724.6 562.7 725.5 550.4 724.6 537 721.7 524.6 717.2 511.3 710.5 497.9 701.8 485.5 692.1 472.2 679.9 458.8 665.9 446.5 651.6 435.1 637.4 422.8 620.8 410.4 603.2 387.8 568.9 333.3 482.6 319.9 462.5 307.6 445 294.2 427.4 279.8 410.3 266.4 396.5 254.1 385.6z"/><path fill="url(#g115)" stroke="url(#g115)" d="M251.8 383.2 264.2 394.1 277.7 407.8 291.2 423.5 305.7 442.5 319.2 461.6 332.6 482 387.6 569.3 410.4 604 422.8 621.8 435.2 638.6 446.6 653 459.1 667.4 472.5 681.5 486 693.8 499.5 704.2 511.9 712.2 525.4 718.9 537.8 723.3 550.3 726 562.7 726.9 575.1 726 587.6 723.3 600 718.9 613.5 712.2 625.9 704.2 639.4 693.8 652.9 681.5 666.3 667.4 678.8 653 690.2 638.6 702.6 621.8 715 604 737.8 569.3 792.8 482 806.2 461.6 819.7 442.5 834.2 423.5 847.7 407.8 861.2 394.1 873.6 383.2 867.5 389.5 854.3 401.6 842.1 414.6 828.9 430.3 816.7 446.3 803.5 465 790.3 484.7 737.5 567.6 714.1 602.7 701.9 619.9 689.7 636.2 677.5 651.3 666.3 664.1 653.1 677.8 639.9 689.8 626.7 700.1 613.5 708.5 600.3 715.1 588.1 719.4 574.9 722.3 562.7 723.1 550.5 722.3 537.3 719.4 525.1 715.1 511.9 708.5 498.7 700.1 485.5 689.8 472.3 677.8 459.1 664.1 447.9 651.3 435.7 636.2 423.5 619.9 411.3 602.7 387.9 567.6 335.1 484.7 321.9 465 308.7 446.3 296.5 430.3 283.3 414.6 271.1 401.6 257.9 389.5z"/><path fill="url(#g116)" stroke="url(#g116)" d="M255.7 387.2 269 399.2 281.2 412.1 294.6 427.8 307.9 445.3 320.1 462.7 333.4 482.6 387.7 568.1 411.2 603.6 423.5 621 435.8 637.4 448.1 652.7 459.3 665.6 472.6 679.4 485.9 691.5 498.2 701.1 511.5 709.7 523.8 715.9 537.1 720.8 550.4 723.7 562.7 724.5 575 723.7 588.3 720.8 601.6 715.9 613.9 709.7 627.2 701.1 639.5 691.5 652.8 679.4 666.1 665.6 677.3 652.7 689.6 637.4 701.9 621 714.2 603.6 737.7 568.1 792 482.6 805.3 462.7 817.5 445.3 830.8 427.8 844.2 412.1 856.4 399.2 869.7 387.2 863.8 393.4 851.8 404.6 839.7 417.5 827.7 431.8 814.6 448.9 802.6 465.8 789.5 485.2 737.3 566.3 714.3 600.7 701.2 619 689.2 634.9 677.1 649.7 666.1 662.2 653 675.6 640 687.5 626.9 697.6 613.9 705.9 600.8 712.4 587.8 717.1 574.7 719.8 562.7 720.6 550.7 719.8 537.6 717.1 524.6 712.4 511.5 705.9 498.5 697.6 485.4 687.5 472.4 675.6 459.3 662.2 448.3 649.7 436.2 634.9 424.2 619 411.1 600.7 388.1 566.3 335.9 485.2 322.8 465.8 310.8 448.9 297.7 431.8 285.7 417.5 273.6 404.6 261.6 393.4z"/><path fill="url(#g117)" stroke="url(#g117)" d="M259.4 391.1 272.6 403.3 284.7 416.2 296.8 430.7 310 448 322.1 465.1 335.2 484.7 387.8 566.8 411.1 601.6 424.2 620.1 436.3 636.2 448.5 651.1 459.6 663.8 472.7 677.3 485.9 689.2 499 699.4 512.2 707.7 525.3 714.2 537.4 718.5 550.6 721.3 562.7 722.1 574.8 721.3 588 718.5 600.1 714.2 613.2 707.7 626.4 699.4 639.5 689.2 652.7 677.3 665.8 663.8 676.9 651.1 689.1 636.2 701.2 620.1 714.3 601.6 737.6 566.8 790.2 484.7 803.3 465.1 815.4 448 828.6 430.7 840.7 416.2 852.8 403.3 866 391.1 860.2 397.1 849.3 407.5 837.4 420.3 825.5 434.5 812.6 451.3 800.7 468 787.8 487 737.2 564.9 713.4 600 700.5 617.9 688.6 633.5 676.7 648 665.8 660.2 651.9 674.4 639.1 685.9 626.2 695.7 613.3 703.8 600.4 710.1 587.5 714.6 574.6 717.3 562.7 718.1 550.8 717.3 537.9 714.6 525 710.1 512.1 703.8 499.2 695.7 486.3 685.9 473.5 674.4 459.6 660.2 448.7 648 436.8 633.5 424.9 617.9 412 600 388.2 564.9 337.6 487 324.7 468 312.8 451.3 299.9 434.5 288 420.3 276.1 407.5 265.2 397.1z"/><path fill="url(#g118)" stroke="url(#g118)" d="M263.1 394.9 275.1 406.2 287.1 419.1 299.1 433.5 311.1 449.1 323 465.9 336 485 388.9 567 411.9 601 424.9 619.1 436.9 634.8 448.9 649.5 459.8 661.9 472.8 675.1 485.8 686.8 498.8 696.8 511.8 705.1 524.8 711.5 537.7 716.1 550.7 718.8 562.7 719.6 574.7 718.8 587.7 716.1 600.6 711.5 613.6 705.1 626.6 696.8 639.6 686.8 652.6 675.1 665.6 661.9 676.5 649.5 688.5 634.8 700.5 619.1 713.5 601 736.5 567 789.4 485 802.4 465.9 814.3 449.1 826.3 433.5 838.3 419.1 850.3 406.2 862.3 394.9 856.7 400.8 845.9 411.2 835.1 422.9 823.4 437 811.6 452.2 787.1 487.1 737.1 563.4 712.6 599.3 699.9 616.7 688.1 632 676.4 646.2 665.6 658.2 651.9 672.1 638.2 684.2 625.4 693.7 612.7 701.6 599.9 707.8 587.2 712.2 574.5 714.7 562.7 715.5 550.9 714.7 538.2 712.2 525.5 707.8 512.7 701.6 500 693.7 487.2 684.2 473.5 672.1 459.8 658.2 449 646.2 437.3 632 425.5 616.7 412.8 599.3 388.3 563.4 338.3 487.1 313.8 452.2 302 437 290.3 422.9 279.5 411.2 268.7 400.8z"/><path fill="url(#g119)" stroke="url(#g119)" d="M266.7 398.6 277.5 409 289.4 421.8 301.2 436 313 451.5 324.9 468 337.7 486.8 388 564 411.7 598.9 424.6 616.7 436.4 632.1 448.2 646.6 459.1 658.8 472.9 672.9 486.7 685.2 499.5 694.9 512.4 702.9 525.2 709.2 538 713.6 550.9 716.3 562.7 717.1 574.5 716.3 587.4 713.6 600.2 709.2 613 702.9 625.9 694.9 638.7 685.2 652.5 672.9 666.3 658.8 677.2 646.6 689 632.1 700.8 616.7 713.7 598.9 737.4 564 787.7 486.8 800.5 468 812.4 451.5 824.2 436 836 421.8 847.9 409 858.7 398.6 853.2 404.3 842.6 414.8 831.9 426.5 821.3 439.3 809.7 454.4 785.4 488.7 736.1 563.3 712.8 597.1 700.2 614.2 688.6 629.2 677 643.2 665.4 656.1 651.8 669.7 639.2 680.8 625.6 691.1 613.1 698.8 600.5 705 587.9 709.4 575.3 712 562.7 712.9 550.1 712 537.5 709.4 524.9 705 512.3 698.8 499.8 691.1 486.2 680.8 473.6 669.7 460 656.1 448.4 643.2 436.8 629.2 425.2 614.2 412.6 597.1 389.3 563.3 340 488.7 315.7 454.4 304.1 439.3 293.5 426.5 282.8 414.8 272.2 404.3z"/><path fill="url(#g120)" stroke="url(#g120)" d="M270.2 402.2 280.9 412.7 291.6 424.4 303.3 438.4 315 453.7 339.4 488.4 389.1 564 412.5 598.1 426.2 616.8 437.9 631.8 449.6 645.9 460.3 657.8 474 671.5 486.6 682.7 500.3 692.9 513 700.7 525.6 706.8 538.3 711.1 551 713.7 562.7 714.4 574.4 713.7 587.1 711.1 599.8 706.8 612.4 700.7 625.1 692.9 638.8 682.7 651.4 671.5 665.1 657.8 675.8 645.9 687.5 631.8 699.2 616.8 712.9 598.1 736.3 564 786 488.4 810.4 453.7 822.1 438.4 833.8 424.4 844.5 412.7 855.2 402.2 849.9 407.8 840.3 417.3 829.8 428.9 819.3 441.5 807.8 456.4 783.8 490 735 563.2 712 596.1 699.6 612.9 688.1 627.6 676.6 641.3 665.1 654 651.7 667.3 639.3 678.3 625.9 688.3 613.4 696 600 702.5 587.6 706.8 575.1 709.3 562.7 710.2 550.3 709.3 537.8 706.8 525.4 702.5 512 696 499.5 688.3 486.1 678.3 473.7 667.3 460.3 654 448.8 641.3 437.3 627.6 425.8 612.9 413.4 596.1 390.4 563.2 341.6 490 317.6 456.4 306.1 441.5 295.6 428.9 285.1 417.3 275.5 407.8z"/><path fill="url(#g121)" stroke="url(#g121)" d="M273.5 405.7 283.2 415.3 293.8 426.9 304.4 439.5 316 454.5 340.1 488.4 390.2 563.9 413.3 597.2 425.8 614.2 437.4 629 449 642.9 460.5 655.7 474 669.1 486.6 680.1 500 690.2 512.6 697.9 525.1 704 537.6 708.3 550.2 710.9 562.7 711.8 575.2 710.9 587.8 708.3 600.3 704 612.8 697.9 625.4 690.2 638.8 680.1 651.4 669.1 664.9 655.7 676.4 642.9 688 629 699.6 614.2 712.1 597.2 735.2 563.9 785.3 488.4 809.4 454.5 821 439.5 831.6 426.9 842.2 415.3 851.9 405.7 846.6 411.1 837.2 420.7 827.7 431.2 817.3 443.6 806.9 457 783.2 490 734 562.9 711.3 595.2 699 611.6 687.6 626 676.3 639.4 664.9 651.8 651.7 664.9 638.4 676.4 625.2 686.2 612.9 693.7 599.6 700 587.3 704.1 575 706.7 562.7 707.5 550.4 706.7 538.1 704.1 525.8 700 512.5 693.7 500.2 686.2 487 676.4 473.7 664.9 460.5 651.8 449.1 639.4 437.8 626 426.4 611.6 414.1 595.2 391.4 562.9 342.2 490 318.5 457 308.1 443.6 297.7 431.2 288.2 420.7 278.8 411.1z"/><path fill="url(#g122)" stroke="url(#g122)" d="M276.9 409.2 286.4 418.7 296.9 430.3 307.4 442.9 317.8 456.4 341.7 489.8 391.2 563.6 414.1 596.3 426.5 612.9 437.9 627.4 449.3 641 460.8 653.5 474.1 666.7 486.5 677.5 499.8 687.5 512.2 695.1 525.5 701.5 537.9 705.7 550.3 708.2 562.7 709.1 575.1 708.2 587.5 705.7 599.9 701.5 613.2 695.1 625.6 687.5 638.9 677.5 651.3 666.7 664.6 653.5 676.1 641 687.5 627.4 698.9 612.9 711.3 596.3 734.2 563.6 783.7 489.8 807.6 456.4 818 442.9 828.5 430.3 839 418.7 848.5 409.2 843.4 414.4 834.1 424 824.7 434.4 805.1 458.8 781.7 491.2 733 562.5 711.5 592.8 699.3 609 687.2 624.3 675.9 637.4 664.7 649.6 650.7 663.3 637.6 674.5 625.4 683.4 612.3 691.3 599.2 697.4 587 701.5 574.9 703.9 562.7 704.7 550.5 703.9 538.4 701.5 526.2 697.4 513.1 691.3 500 683.4 487.8 674.5 474.7 663.3 460.7 649.6 449.5 637.4 438.2 624.3 426.1 609 413.9 592.8 392.4 562.5 343.7 491.2 320.3 458.8 300.7 434.4 291.3 424 282 414.4z"/><path fill="url(#g123)" stroke="url(#g123)" d="M280.1 412.5 289.5 422.1 298.9 432.5 308.4 443.8 319.7 458.3 343.2 491 391.3 561.9 413.9 594 426.1 610.3 438.4 625.7 449.7 639 461 651.3 474.2 664.3 487.3 675.6 500.5 685.3 512.8 692.7 525 698.6 538.2 703.1 550.5 705.5 562.7 706.4 574.9 705.5 587.2 703.1 600.4 698.6 612.6 692.7 624.9 685.3 638.1 675.6 651.2 664.3 664.4 651.3 675.7 639 687 625.7 699.3 610.3 711.5 594 734.1 561.9 782.2 491 805.7 458.3 817 443.8 826.5 432.5 835.9 422.1 845.3 412.5 840.3 417.5 822.7 436.5 803.3 460.5 781.1 490.9 732.9 560.8 710.7 591.8 697.8 608.8 685.8 623.6 674.7 636.4 663.6 648.3 649.7 661.7 636.7 672.5 623.8 681.8 611.7 688.9 598.8 694.9 586.8 698.8 574.7 701.2 562.7 701.9 550.7 701.2 538.6 698.8 526.6 694.9 513.7 688.9 501.6 681.8 488.7 672.5 475.7 661.7 461.8 648.3 450.7 636.4 439.6 623.6 427.6 608.8 414.7 591.8 392.5 560.8 344.3 490.9 322.1 460.5 302.7 436.5 285.1 417.5z"/><path fill="url(#g124)" stroke="url(#g124)" d="M283.3 415.7 292.6 425.3 301.9 435.7 321.5 460 343.8 490.8 392.3 561.6 414.6 592.9 426.7 608.9 438.8 624 450 637 461.2 649.1 475.1 662.7 488.2 673.7 501.2 683.1 513.3 690.3 526.4 696.4 538.5 700.4 550.6 702.8 562.7 703.6 574.8 702.8 586.9 700.4 599 696.4 612.1 690.3 624.2 683.1 637.2 673.7 650.3 662.7 664.2 649.1 675.4 637 686.6 624 698.7 608.9 710.8 592.9 733.1 561.6 781.6 490.8 803.9 460 823.5 435.7 832.8 425.3 842.1 415.7 837.2 420.6 827.1 431.2 817.1 442.7 796 469.3 775.9 497.1 726.5 568.1 702.7 600.3 682.6 625.1 663.4 646 650.5 658.3 637.7 669.1 624.9 678.4 612.1 686 599.3 691.9 587.4 695.8 574.6 698.4 562.7 699.1 550.8 698.4 538 695.8 526.1 691.9 513.3 686 500.5 678.4 487.7 669.1 474.9 658.3 462 646 442.8 625.1 422.7 600.3 398.9 568.1 349.5 497.1 329.4 469.3 308.3 442.7 298.3 431.2 288.2 420.6z"/><path fill="url(#g125)" stroke="url(#g125)" d="M286.4 418.8 303.9 437.7 322.3 460.4 344.4 490.6 393.2 561.2 415.3 591.8 427.3 607.5 439.3 622.2 450.3 635 461.4 646.8 474.3 659.3 487.2 670.3 500.1 679.7 513 687.4 525.9 693.4 537.8 697.4 550.7 700 562.7 700.8 574.7 700 587.6 697.4 599.5 693.4 612.4 687.4 625.3 679.7 638.2 670.3 651.1 659.3 664 646.8 675.1 635 686.1 622.2 698.1 607.5 710.1 591.8 732.2 561.2 781 490.6 803.1 460.4 821.5 437.7 839 418.8 834.2 423.6 824.2 434.2 814.3 445.6 794.4 470.7 774.5 497.9 726.5 566.1 703 597.7 682.2 623.1 663.2 643.7 649.6 656.6 636.9 667.1 624.2 676.1 611.6 683.5 598.9 689.2 587.1 693.1 574.5 695.6 562.7 696.3 550.9 695.6 538.3 693.1 526.5 689.2 513.8 683.5 501.2 676.1 488.5 667.1 475.8 656.6 462.2 643.7 443.2 623.1 422.4 597.7 398.9 566.1 350.9 497.9 331 470.7 311.1 445.6 301.2 434.2 291.2 423.6z"/><path fill="url(#g126)" stroke="url(#g126)" d="M289.4 421.9 299.4 432.4 309.5 443.9 330.4 470.4 350.5 498 398.7 567.1 422.4 599 443.4 624.7 462.5 645.5 475.3 657.6 488 668.3 500.8 677.4 513.5 685 526.3 690.8 538.1 694.7 550.9 697.2 562.7 698 574.5 697.2 587.3 694.7 599.1 690.8 611.9 685 624.6 677.4 637.4 668.3 650.1 657.6 662.9 645.5 682 624.7 703 599 726.7 567.1 774.9 498 795 470.4 815.9 443.9 826 432.4 836 421.9 831.2 426.5 822.3 436 812.4 447.3 792.8 472 773.1 498.7 726.5 564.2 703.2 595.2 681.8 621.2 671.9 632.1 662.1 642.3 649.5 654 636.1 665 623.6 673.8 611 681 598.5 686.6 586.9 690.3 574.3 692.7 562.7 693.5 551.1 692.7 538.5 690.3 526.9 686.6 514.4 681 501.8 673.8 489.3 665 475.9 654 463.3 642.3 453.5 632.1 443.6 621.2 422.2 595.2 398.9 564.2 352.3 498.7 332.6 472 313 447.3 303.1 436 294.2 426.5z"/><path fill="url(#g127)" stroke="url(#g127)" d="M292.4 424.8 301.4 434.3 311.3 445.7 332.1 471.7 351.9 498.8 398.7 565.1 422.2 596.5 442.9 621.7 452.8 632.8 462.7 643.1 476.2 655.8 488.8 666.3 501.4 675.1 514 682.5 525.8 687.8 538.4 692 551 694.4 562.7 695.1 574.4 694.4 587 692 599.6 687.8 611.4 682.5 624 675.1 636.6 666.3 649.2 655.8 662.7 643.1 672.6 632.8 682.5 621.7 703.2 596.5 726.7 565.1 773.5 498.8 793.3 471.7 814.1 445.7 824 434.3 833 424.8 828.3 429.3 809.7 449.9 790.3 474.3 770.8 500.6 725.6 563.5 702.6 593.8 681.4 619.3 671.6 629.9 661.9 639.9 648.6 652.2 636.2 662.3 623.8 670.9 611.4 678 599 683.6 586.6 687.5 574.2 689.9 562.7 690.6 551.2 689.9 538.8 687.5 526.4 683.6 514 678 501.6 670.9 489.2 662.3 476.8 652.2 463.5 639.9 453.8 629.9 444 619.3 422.8 593.8 399.8 563.5 354.6 500.6 335.1 474.3 315.7 449.9 297.1 429.3z"/><path fill="url(#g128)" stroke="url(#g128)" d="M295.3 427.7 304.3 437.2 314.1 448.4 333.7 472.9 353.3 499.5 398.7 563.2 421.9 593.9 443.3 619.8 453.1 630.7 462.9 640.8 476.3 653.3 488.7 663.5 501.2 672.3 513.7 679.5 526.2 685.2 538.6 689.2 551.1 691.6 562.7 692.3 574.3 691.6 586.8 689.2 599.2 685.2 611.7 679.5 624.2 672.3 636.7 663.5 649.1 653.3 662.5 640.8 672.3 630.7 682.1 619.8 703.5 593.9 726.7 563.2 772.1 499.5 791.7 472.9 811.3 448.4 821.1 437.2 830.1 427.7 825.5 432 808 451.5 788.7 475.4 769.4 501.2 726.5 560.3 702.9 591.2 681.8 616.3 671.3 627.7 661.7 637.5 648.5 649.6 636.3 659.5 623.1 668.5 610.9 675.5 598.6 680.9 586.4 684.7 574.1 687 562.7 687.7 551.3 687 539 684.7 526.8 680.9 514.5 675.5 502.3 668.5 489.1 659.5 476.9 649.6 463.7 637.5 454.1 627.7 443.6 616.3 422.5 591.2 398.9 560.3 356 501.2 336.7 475.4 317.4 451.5 299.9 432z"/><path fill="url(#g129)" stroke="url(#g129)" d="M298.2 430.4 315.9 450 335.3 474.1 354.6 500.1 399.6 562.4 422.5 592.5 443.7 617.9 463.1 638.4 476.3 650.7 489.5 661.4 501.9 669.9 514.2 677 526.6 682.5 538.9 686.4 551.2 688.7 562.7 689.4 574.2 688.7 586.5 686.4 598.8 682.5 611.2 677 623.5 669.9 635.9 661.4 649.1 650.7 662.3 638.4 681.7 617.9 702.9 592.5 725.8 562.4 770.8 500.1 790.1 474.1 809.5 450 827.2 430.4 822.7 434.7 806.2 452.9 787.2 476.4 768.1 501.7 726.5 558.4 703.1 588.7 681.4 614.3 671 625.5 661.5 635.1 648.5 647 636.4 656.7 623.4 665.6 611.2 672.5 599.1 677.8 587 681.7 574.8 684 562.7 684.8 550.6 684 538.4 681.7 526.3 677.8 514.2 672.5 502 665.6 489 656.7 476.9 647 463.9 635.1 454.4 625.5 444 614.3 422.3 588.7 398.9 558.4 357.3 501.7 338.2 476.4 319.2 452.9 302.7 434.7z"/><path fill="url(#g130)" stroke="url(#g130)" d="M301.1 433.1 318.5 452.5 336.8 475.2 356 500.7 399.6 560.5 423.2 591.1 444.1 615.9 454.6 627.2 464.1 636.9 477.2 648.8 489.4 658.6 502.5 667.6 514.7 674.4 526.9 679.8 539.2 683.6 551.4 685.8 562.7 686.5 574 685.8 586.2 683.6 598.5 679.8 610.7 674.4 622.9 667.6 636 658.6 648.2 648.8 661.3 636.9 670.8 627.2 681.3 615.9 702.2 591.1 725.8 560.5 769.4 500.7 788.6 475.2 806.9 452.5 824.3 433.1 819.9 437.2 803.6 455.3 785.6 477.4 766.8 502.1 725.6 557.6 702.5 587.3 680.2 613.3 660.4 633.5 647.6 645.1 634.7 655.2 622.7 663.2 610.7 669.9 598.7 675.1 586.7 678.9 574.7 681.1 562.7 681.9 550.7 681.1 538.7 678.9 526.7 675.1 514.7 669.9 502.7 663.2 490.7 655.2 477.8 645.1 465 633.5 445.2 613.3 422.9 587.3 399.8 557.6 358.6 502.1 339.8 477.4 321.8 455.3 305.5 437.2z"/><path fill="url(#g131)" stroke="url(#g131)" d="M303.8 435.7 320.2 453.9 339.2 477.3 358.2 502.3 399.6 558.6 422.9 588.6 444.5 613.9 454.8 625 464.3 634.5 477.3 646.2 489.4 655.8 502.3 664.6 514.4 671.4 526.5 676.7 538.5 680.6 550.6 682.9 562.7 683.6 574.8 682.9 586.9 680.6 598.9 676.7 611 671.4 623.1 664.6 636 655.8 648.1 646.2 661.1 634.5 670.6 625 680.9 613.9 702.5 588.6 725.8 558.6 767.2 502.3 786.2 477.3 805.2 453.9 821.6 435.7 817.2 439.7 801.9 456.6 784.1 478.3 766.3 501.4 724.7 556.8 702.7 584.8 680.6 610.3 670.4 621.1 660.3 631.1 647.5 642.4 634.8 652.3 622.9 660.3 610.2 667.3 598.3 672.4 586.5 676 574.6 678.2 562.7 679 550.8 678.2 538.9 676 527.1 672.4 515.2 667.3 502.5 660.3 490.6 652.3 477.9 642.4 465.1 631.1 455 621.1 444.8 610.3 422.7 584.8 400.7 556.8 359.1 501.4 341.3 478.3 323.5 456.6 308.2 439.7z"/><path fill="url(#g132)" stroke="url(#g132)" d="M306.6 438.2 322.8 456.2 340.7 478.2 359.5 502.7 400.5 557.7 422.7 586.1 444.9 611.9 455.1 622.8 465.4 632.9 478.2 644.3 491 654.3 502.9 662.2 514.9 668.8 526.8 674 538.8 677.7 550.7 680 562.7 680.7 574.7 680 586.6 677.7 598.6 674 610.5 668.8 622.5 662.2 634.4 654.3 647.2 644.3 660 632.9 670.3 622.8 680.5 611.9 702.7 586.1 724.9 557.7 765.9 502.7 784.7 478.2 802.6 456.2 818.8 438.2 814.5 442.1 799.4 458.9 781.7 480.2 723.8 556 702 583.3 679.4 609.2 669.3 619.7 659.2 629.4 646.6 640.4 634 650.1 621.4 658.3 609.7 664.6 597.9 669.6 586.2 673.1 574.4 675.3 562.7 676 551 675.3 539.2 673.1 527.5 669.6 515.7 664.6 504 658.3 491.4 650.1 478.8 640.4 466.2 629.4 456.1 619.7 446 609.2 423.4 583.3 401.6 556 343.7 480.2 326 458.9 310.9 442.1z"/><path fill="url(#g133)" stroke="url(#g133)" d="M309.2 440.6 324.4 457.4 342.2 479 359.1 500.8 401.3 556.9 423.3 584.6 445.2 609.9 455.4 620.6 465.5 630.5 478.2 641.7 490.9 651.5 503.5 659.9 515.4 666.3 527.2 671.4 539 675 550.9 677.2 562.7 677.9 574.5 677.2 586.4 675 598.2 671.4 610 666.3 621.9 659.9 634.5 651.5 647.2 641.7 659.9 630.5 670 620.6 680.2 609.9 702.1 584.6 724.1 556.9 766.3 500.8 783.2 479 801 457.4 816.2 440.6 811.6 444.6 796.7 461.2 780.1 481.1 723.7 554 702.1 580.8 679.7 606.2 668.9 617.3 658.9 626.8 646.5 637.6 634.1 647.1 621.6 655.2 610 661.4 597.5 666.6 585.9 670 574.3 672.1 562.7 672.8 551.1 672.1 539.5 670 527.9 666.6 515.4 661.4 503.8 655.2 491.3 647.1 478.9 637.6 466.5 626.8 456.5 617.3 445.7 606.2 423.3 580.8 401.7 554 345.3 481.1 328.7 461.2 313.8 444.6z"/><path fill="url(#g134)" stroke="url(#g134)" d="M312.1 443.1 327.1 459.8 343.8 479.9 401.5 555 423.2 582.1 444.9 606.9 455.8 618.2 465.8 627.9 478.3 638.9 490.9 648.5 503.4 656.8 515.1 663.1 527.6 668.4 539.3 671.9 551 674 562.7 674.7 574.4 674 586.1 671.9 597.8 668.4 610.3 663.1 622 656.8 634.5 648.5 647.1 638.9 659.6 627.9 669.6 618.2 680.5 606.9 702.2 582.1 723.9 555 781.6 479.9 798.3 459.8 813.3 443.1 808.7 447.1 794.8 462.5 778.4 482 722.6 553.1 701.3 579.2 679.1 604 668.5 614.9 658.6 624.2 646.3 634.7 634 644 621.7 651.9 609.4 658.5 597.1 663.5 585.7 666.9 574.2 668.9 562.7 669.5 551.2 668.9 539.7 666.9 528.3 663.5 516 658.5 503.7 651.9 491.4 644 479.1 634.7 466.8 624.2 456.9 614.9 446.3 604 424.1 579.2 402.8 553.1 347 482 330.6 462.5 316.7 447.1z"/><path fill="url(#g135)" stroke="url(#g135)" d="M315 445.7 329 461.1 345.5 480.9 402.5 554.1 424 580.6 446.3 605.7 457 616.7 466.9 626.1 479.3 636.7 491.7 646.1 504.1 654 515.6 660.2 528 665.3 539.6 668.7 551.1 670.8 562.7 671.5 574.3 670.8 585.8 668.7 597.4 665.3 609.8 660.2 621.3 654 633.7 646.1 646.1 636.7 658.5 626.1 668.4 616.7 679.1 605.7 701.4 580.6 722.9 554.1 779.9 480.9 796.4 461.1 810.4 445.7 805.9 449.5 792.1 464.6 776.7 482.8 722.4 551.2 700.5 577.7 677.8 602.7 667.3 613.3 657.5 622.3 644.6 633.2 632.4 642.1 620.3 649.7 608.9 655.5 596.7 660.4 585.4 663.7 574 665.6 562.7 666.3 551.4 665.6 540 663.7 528.7 660.4 516.5 655.5 505.1 649.7 493 642.1 480.8 633.2 467.9 622.3 458.1 613.3 447.6 602.7 424.9 577.7 403 551.2 348.7 482.8 333.3 464.6 319.5 449.5z"/><path fill="url(#g136)" stroke="url(#g136)" d="M317.8 448.1 331.7 463.3 347.2 481.7 402.7 552.2 424.8 579 446.8 603.5 457.4 614.2 467.2 623.4 479.4 633.8 491.7 643 503.9 650.8 516.2 657.3 528.4 662.3 539.8 665.6 551.3 667.6 562.7 668.2 574.1 667.6 585.6 665.6 597 662.3 609.2 657.3 621.5 650.8 633.7 643 646 633.8 658.2 623.4 668 614.2 678.6 603.5 700.6 579 722.7 552.2 778.2 481.7 793.7 463.3 807.6 448.1 803.1 451.8 790.3 465.8 775 483.6 723 548.4 700.5 575.2 678.1 599.7 667.7 610 657.3 619.6 644.4 630.3 632.4 639 620.4 646.5 609.2 652.2 597.2 657.1 585.9 660.3 573.9 662.4 562.7 663 551.5 662.4 539.5 660.3 528.2 657.1 516.2 652.2 505 646.5 493 639 481 630.3 468.1 619.6 457.7 610 447.3 599.7 424.9 575.2 402.4 548.4 350.4 483.6 335.1 465.8 322.3 451.8z"/><path fill="url(#g137)" stroke="url(#g137)" d="M320.7 450.4 333.6 464.5 348.9 482.5 403 550.3 425.5 577.4 448.1 602.2 458.6 612.6 468.3 621.5 481.2 632.2 493.3 641.1 505.4 648.6 516.7 654.3 528.8 659.2 540.1 662.4 551.4 664.3 562.7 665 574 664.3 585.3 662.4 596.6 659.2 608.7 654.3 620 648.6 632.1 641.1 644.2 632.2 657.1 621.5 666.8 612.6 677.3 602.2 699.9 577.4 722.4 550.3 776.5 482.5 791.8 464.5 804.7 450.4 800.3 453.9 787.6 467.7 773.4 484.3 721.9 547.5 699.7 573.6 687.8 586.8 676.8 598.3 666.5 608.4 656.2 617.7 643.5 628 631.6 636.5 619.7 643.7 608.6 649.3 596.8 654 585.7 657.1 573.8 659.2 562.7 659.8 551.6 659.2 539.7 657.1 528.6 654 516.8 649.3 505.7 643.7 493.8 636.5 481.9 628 469.2 617.7 458.9 608.4 448.6 598.3 437.6 586.8 425.7 573.6 403.5 547.5 352 484.3 337.8 467.7 325.1 453.9z"/><path fill="url(#g138)" stroke="url(#g138)" d="M323.5 452.7 336.2 466.6 350.6 483.3 403.2 548.4 425.5 574.9 447.9 599.1 458.2 609.4 468.6 618.8 481.4 629.3 493.3 638 505.3 645.3 516.4 651 528.4 655.8 539.6 659 551.5 661.1 562.7 661.7 573.9 661.1 585.8 659 597 655.8 609 651 620.1 645.3 632.1 638 644 629.3 656.8 618.8 667.2 609.4 677.5 599.1 699.9 574.9 722.2 548.4 774.8 483.3 789.2 466.6 801.9 452.7 797.6 456 785.9 468.7 771.8 484.9 720.9 546.5 699.7 571.1 677 595.3 666.1 605.9 655.9 615 643.3 625.1 631.6 633.4 619.9 640.5 608.1 646.4 596.4 650.9 585.4 654 573.7 655.9 562.7 656.5 551.7 655.9 540 654 529 650.9 517.3 646.4 505.5 640.5 493.8 633.4 482.1 625.1 469.5 615 459.3 605.9 448.4 595.3 425.7 571.1 404.5 546.5 353.6 484.9 339.5 468.7 327.8 456z"/><path fill="url(#g139)" stroke="url(#g139)" d="M326.2 454.8 338 467.6 352.2 484 404.2 547.5 425.5 572.4 448.4 597 459.4 607.7 469.7 616.9 482.3 627.1 494.1 635.4 505.9 642.6 517 648.1 528.8 652.7 539.8 655.9 551.7 657.9 562.7 658.5 573.7 657.9 585.6 655.9 596.6 652.7 608.4 648.1 619.5 642.6 631.3 635.4 643.1 627.1 655.7 616.9 666 607.7 677 597 699.9 572.4 721.2 547.5 773.2 484 787.4 467.6 799.2 454.8 794.9 458.1 770.1 485.5 719.8 545.6 698.9 569.6 676.5 593.2 665.6 603.5 655.6 612.4 643.2 622.2 631.6 630.4 620 637.3 608.4 643.1 596.8 647.6 585.1 650.8 573.5 652.7 562.7 653.3 551.9 652.7 540.3 650.8 528.6 647.6 517 643.1 505.4 637.3 493.8 630.4 482.2 622.2 469.8 612.4 459.8 603.5 448.9 593.2 426.5 569.6 405.6 545.6 355.3 485.5 330.5 458.1z"/><path fill="url(#g140)" stroke="url(#g140)" d="M328.9 456.9 340.6 469.5 353.8 484.6 405.3 546.5 426.3 570.9 448.9 594.8 459.8 605.2 470 614.2 482.4 624.2 494.1 632.4 505.8 639.4 517.5 645.2 529.2 649.7 540.1 652.7 551.8 654.6 562.7 655.2 573.6 654.6 585.3 652.7 596.2 649.7 607.9 645.2 619.6 639.4 631.3 632.4 643 624.2 655.4 614.2 665.6 605.2 676.5 594.8 699.1 570.9 720.1 546.5 771.6 484.6 784.8 469.5 796.5 456.9 792.3 460 768.5 486 718.8 544.6 698.1 568 675.2 591.7 664.5 601.7 654.5 610.4 642.3 619.9 630.8 627.8 619.3 634.6 607.8 640.1 596.4 644.5 584.9 647.6 573.4 649.5 562.7 650 552 649.5 540.5 647.6 529 644.5 517.6 640.1 506.1 634.6 494.6 627.8 483.1 619.9 470.9 610.4 460.9 601.7 450.2 591.7 427.3 568 406.6 544.6 356.9 486 333.1 460z"/><path fill="url(#g141)" stroke="url(#g141)" d="M331.6 458.9 355.5 485.2 406.3 545.6 427.1 569.3 449.4 592.6 460.2 602.8 470.2 611.6 482.6 621.3 494.1 629.3 505.7 636.2 517.2 641.9 528.8 646.3 540.4 649.5 551.9 651.4 562.7 652 573.5 651.4 585 649.5 596.6 646.3 608.2 641.9 619.7 636.2 631.3 629.3 642.8 621.3 655.2 611.6 665.2 602.8 676 592.6 698.3 569.3 719.1 545.6 769.9 485.2 793.8 458.9 789.6 461.9 766.9 486.5 718.5 542.8 697.3 566.4 674.7 589.5 664.1 599.3 653.5 608.3 641.4 617.6 630 625.3 618.7 631.8 607.3 637.2 596 641.4 584.6 644.5 573.3 646.3 562.7 646.8 552.1 646.3 540.8 644.5 529.4 641.4 518.1 637.2 506.7 631.8 495.4 625.3 484 617.6 471.9 608.3 461.3 599.3 450.7 589.5 428.1 566.4 406.9 542.8 358.5 486.5 335.8 461.9z"/><path fill="url(#g142)" stroke="url(#g142)" d="M334.2 460.8 357.1 485.7 407.3 544.6 427.9 567.7 450.7 591.1 461.4 601 471.3 609.5 483.5 619 494.9 626.8 506.3 633.4 517.8 639 529.2 643.3 540.6 646.3 552 648.2 562.7 648.7 573.4 648.2 584.8 646.3 596.2 643.3 607.6 639 619.1 633.4 630.5 626.8 641.9 619 654.1 609.5 664 601 674.7 591.1 697.5 567.7 718.1 544.6 768.3 485.7 791.2 460.8 787 463.6 765.4 486.9 717.5 541.8 696.6 564.8 674.1 587.3 663.7 596.9 653.2 605.7 641.2 614.8 629.3 622.7 618 629 606.8 634.3 595.6 638.4 584.4 641.3 573.2 643 562.7 643.6 552.2 643 541 641.3 529.8 638.4 518.6 634.3 507.4 629 496.1 622.7 484.2 614.8 472.2 605.7 461.7 596.9 451.3 587.3 428.8 564.8 407.9 541.8 360 486.9 338.4 463.6z"/><path fill="url(#g143)" stroke="url(#g143)" d="M336.8 462.6 358.7 486.2 407.6 542.7 428.7 566.1 451.3 588.9 461.8 598.6 472.3 607.5 484.4 616.7 495.7 624.2 507 630.7 518.3 636 529.6 640.2 540.9 643.2 552.2 644.9 562.7 645.5 573.2 644.9 584.5 643.2 595.8 640.2 607.1 636 618.4 630.7 629.7 624.2 641 616.7 653.1 607.5 663.6 598.6 674.1 588.9 696.7 566.1 717.8 542.7 766.7 486.2 788.6 462.6 784.5 465.3 763.8 487.3 718 539.1 695.8 563.2 672.9 585.8 662.5 595.1 652.2 603.6 640.3 612.4 629.2 619.7 617.4 626.3 606.3 631.4 595.2 635.3 584.1 638.2 573.1 639.9 562.7 640.4 552.3 639.9 541.3 638.2 530.2 635.3 519.1 631.4 508 626.3 496.2 619.7 485.1 612.4 473.2 603.6 462.9 595.1 452.5 585.8 429.6 563.2 407.4 539.1 361.6 487.3 340.9 465.3z"/><path fill="url(#g144)" stroke="url(#g144)" d="M339.4 464.3 360.2 486.6 407.9 540.9 429.5 564.5 451.8 586.7 462.2 596.2 472.6 604.8 484.5 613.8 496.5 621.6 507.6 627.9 518.8 633.1 529.9 637.2 541.1 640 552.3 641.8 562.7 642.3 573.1 641.8 584.3 640 595.5 637.2 606.6 633.1 617.8 627.9 628.9 621.6 640.9 613.8 652.8 604.8 663.2 596.2 673.6 586.7 695.9 564.5 717.5 540.9 765.2 486.6 786 464.3 782 466.9 762.2 487.7 717.7 537.4 695.7 560.8 673.1 583 662.1 592.7 651.9 601 640.2 609.6 629.2 616.7 617.5 623.2 606.6 628.2 595.6 632.1 584.6 634.9 573.7 636.6 562.7 637.2 551.7 636.6 540.8 634.9 529.8 632.1 518.8 628.2 507.9 623.2 496.2 616.7 485.2 609.6 473.5 601 463.3 592.7 452.3 583 429.7 560.8 407.7 537.4 363.2 487.7 343.4 466.9z"/><path fill="url(#g145)" stroke="url(#g145)" d="M341.9 466 361.8 487 408.2 539.1 430.2 562.8 453.1 585.2 463.4 594.4 473.7 602.8 485.4 611.5 496.5 618.6 508.2 625.2 519.3 630.2 530.3 634.1 541.4 636.9 552.4 638.6 562.7 639.1 573 638.6 584 636.9 595.1 634.1 606.1 630.2 617.2 625.2 628.9 618.6 640 611.5 651.7 602.8 662 594.4 672.3 585.2 695.2 562.8 717.2 539.1 763.6 487 783.5 466 779.5 468.5 760.7 488 715.9 537.2 694.9 559.2 671.8 581.5 661 590.9 650.9 598.9 639.3 607.3 627.7 614.6 616.9 620.4 606.1 625.3 595.2 629.1 584.4 631.8 573.5 633.5 562.7 634 551.9 633.5 541 631.8 530.2 629.1 519.3 625.3 508.5 620.4 497.7 614.6 486.1 607.3 474.5 598.9 464.4 590.9 453.6 581.5 430.5 559.2 409.5 537.2 364.7 488 345.9 468.5z"/><path fill="url(#g146)" stroke="url(#g146)" d="M344.4 467.6 364.1 488.2 408.5 537.3 430.3 560.5 452.8 582.4 463.8 591.9 473.9 600.2 485.6 608.7 497.2 616.1 508.1 622 519 627 530 630.9 540.9 633.6 551.8 635.3 562.7 635.9 573.6 635.3 584.5 633.6 595.4 630.9 606.4 627 617.3 622 628.2 616.1 639.8 608.7 651.5 600.2 661.6 591.9 672.6 582.4 695.1 560.5 716.9 537.3 761.3 488.2 781 467.6 777 469.9 758.4 489.1 714.9 536.2 694.1 557.7 671.3 579.3 660.6 588.5 650.6 596.3 639.1 604.5 627.7 611.6 616.3 617.7 605.6 622.4 594.8 626.1 584.1 628.7 573.4 630.3 562.7 630.8 552 630.3 541.3 628.7 530.6 626.1 519.8 622.4 509.1 617.7 497.7 611.6 486.3 604.5 474.8 596.3 464.8 588.5 454.1 579.3 431.3 557.7 410.5 536.2 367 489.1 348.4 469.9z"/><path fill="url(#g147)" stroke="url(#g147)" d="M346.9 469.1 365.6 488.5 410.2 537.1 431.1 558.9 453.4 580.2 464.2 589.5 475 598.1 486.5 606.3 498 613.5 508.8 619.3 519.5 624.1 530.3 627.8 541.1 630.5 551.9 632.2 562.7 632.7 573.5 632.2 584.3 630.5 595.1 627.8 605.9 624.1 616.6 619.3 627.4 613.5 638.9 606.3 650.4 598.1 661.2 589.5 672 580.2 694.3 558.9 715.2 537.1 759.8 488.5 778.5 469.1 774.6 471.3 754.8 491.5 711 538.1 692.6 556.8 670 577.8 659.5 586.6 649.6 594.3 638.3 602.2 627 609.1 615.7 615 605.1 619.5 594.5 623.1 583.9 625.6 573.3 627.2 562.7 627.7 552.1 627.2 541.5 625.6 530.9 623.1 520.3 619.5 509.7 615 498.4 609.1 487.1 602.2 475.8 594.3 465.9 586.6 455.4 577.8 432.8 556.8 414.4 538.1 370.6 491.5 350.8 471.3z"/><path fill="url(#g148)" stroke="url(#g148)" d="M349.4 470.5 367.2 488.7 411.2 536.1 431.9 557.3 454.6 578.7 465.3 587.7 475.2 595.5 486.6 603.5 498 610.6 509.4 616.6 520 621.2 530.7 624.8 541.4 627.5 552 629 562.7 629.6 573.4 629 584 627.5 594.7 624.8 605.4 621.2 616 616.6 627.4 610.6 638.8 603.5 650.2 595.5 660.1 587.7 670.8 578.7 693.5 557.3 714.2 536.1 758.2 488.7 776 470.5 772.2 472.7 753.3 491.7 710 537 691.9 555.2 669.5 575.6 659.1 584.2 648.6 592.2 637.4 599.8 626.2 606.5 615.1 612.2 604.6 616.6 594.1 620.1 583.6 622.6 573.2 624.1 562.7 624.6 552.2 624.1 541.8 622.6 531.3 620.1 520.8 616.6 510.3 612.2 499.2 606.5 488 599.8 476.8 592.2 466.3 584.2 455.9 575.6 433.5 555.2 415.4 537 372.1 491.7 353.2 472.7z"/><path fill="url(#g149)" stroke="url(#g149)" d="M351.8 471.9 371.5 491.9 415.1 538 433.4 556.4 455.8 577.1 466.4 585.9 476.2 593.4 487.5 601.2 498.7 608 510 613.8 520.5 618.3 531.1 621.9 541.6 624.4 552.2 625.9 562.7 626.4 573.2 625.9 583.8 624.4 594.3 621.9 604.9 618.3 615.4 613.8 626.7 608 637.9 601.2 649.2 593.4 659 585.9 669.6 577.1 692 556.4 710.3 538 753.9 491.9 773.6 471.9 769.8 473.9 751.1 492.5 709.7 535.2 691.1 553.6 668.3 574 658 582.4 648.3 589.6 637.2 597.1 626.2 603.6 615.2 609.2 604.8 613.5 593.8 617.1 583.4 619.5 573.1 621 562.7 621.5 552.3 621 542 619.5 531.6 617.1 520.6 613.5 510.2 609.2 499.2 603.6 488.2 597.1 477.1 589.6 467.4 582.4 457.1 574 434.3 553.6 415.7 535.2 374.3 492.5 355.6 473.9z"/><path fill="url(#g150)" stroke="url(#g150)" d="M354.2 473.2 373 492 415.4 536.2 434.1 554.8 457.1 575.6 466.8 583.5 477.2 591.4 488.3 598.9 499.5 605.5 510.6 611.1 521 615.5 531.4 618.9 541.9 621.3 552.3 622.8 562.7 623.3 573.1 622.8 583.5 621.3 594 618.9 604.4 615.5 614.8 611.1 625.9 605.5 637.1 598.9 648.2 591.4 658.6 583.5 668.3 575.6 691.3 554.8 710 536.2 752.4 492 771.2 473.2 767.4 475.1 749 493.3 709.4 533.5 690.3 552 667.8 571.9 657.6 580.1 647.3 587.6 636.4 594.8 625.5 601.1 614.6 606.5 604.3 610.7 593.4 614.2 583.2 616.5 572.9 617.9 562.7 618.4 552.5 617.9 542.2 616.5 532 614.2 521.1 610.7 510.8 606.5 499.9 601.1 489 594.8 478.1 587.6 467.8 580.1 457.6 571.9 435.1 552 416 533.5 376.4 493.3 358 475.1z"/><path fill="url(#g151)" stroke="url(#g151)" d="M356.6 474.4 375.1 492.8 416.4 535.1 434.9 553.2 457.6 573.4 467.9 581.7 477.5 588.8 488.5 596.1 499.5 602.6 510.5 608.1 520.8 612.4 531.8 615.9 542.1 618.3 552.4 619.7 562.7 620.2 573 619.7 583.3 618.3 593.6 615.9 604.6 612.4 614.9 608.1 625.9 602.6 636.9 596.1 647.9 588.8 657.5 581.7 667.8 573.4 690.5 553.2 709 535.1 750.3 492.8 768.8 474.4 765.1 476.2 709.1 531.7 689.5 550.4 667.3 569.8 657.1 577.7 647 585 635.6 592.5 624.8 598.6 614 603.9 603.9 607.9 593.1 611.3 582.9 613.5 572.8 614.9 562.7 615.3 552.6 614.9 542.5 613.5 532.3 611.3 521.5 607.9 511.4 603.9 500.6 598.6 489.8 592.5 478.4 585 468.3 577.7 458.1 569.8 435.9 550.4 416.3 531.7 360.3 476.2z"/><path fill="url(#g152)" stroke="url(#g152)" d="M358.9 475.6 376.6 492.9 416 532.6 435 550.9 457.4 570.7 467.6 578.8 477.8 586.3 489.3 593.9 500.2 600.1 511.1 605.4 521.3 609.6 532.1 613 542.3 615.3 552.5 616.7 562.7 617.2 572.9 616.7 583.1 615.3 593.3 613 604.1 609.6 614.3 605.4 625.2 600.1 636.1 593.9 647.6 586.3 657.8 578.8 668 570.7 690.4 550.9 709.4 532.6 748.8 492.9 766.5 475.6 762.8 477.3 710.1 528.7 689.4 548.2 667.4 567.1 656.7 575.4 646.1 583 634.7 590.2 624.1 596.1 613.4 601.2 603.4 605.1 592.7 608.4 582.7 610.5 572.7 611.9 562.7 612.3 552.7 611.9 542.7 610.5 532.7 608.4 522 605.1 512 601.2 501.3 596.1 490.7 590.2 479.3 583 468.7 575.4 458 567.1 436 548.2 415.3 528.7 362.6 477.3z"/><path fill="url(#g153)" stroke="url(#g153)" d="M361.2 476.7 416.3 530.9 435.8 549.4 457.9 568.6 468.7 577 478.8 584.2 490.2 591.6 500.9 597.6 511.7 602.8 521.7 606.8 532.5 610.1 542.6 612.3 552.6 613.7 562.7 614.1 572.8 613.7 582.8 612.3 592.9 610.1 603.7 606.8 613.7 602.8 624.5 597.6 635.2 591.6 646.6 584.2 656.7 577 667.5 568.6 689.6 549.4 709.1 530.9 764.2 476.7 760.4 478.3 708.4 528.4 687.9 547.2 665.5 566.1 655 574 645.1 580.9 633.9 587.9 623.3 593.6 612.8 598.5 602.9 602.3 592.4 605.4 582.5 607.6 572.6 608.8 562.7 609.2 552.8 608.8 542.9 607.6 533 605.4 522.5 602.3 512.6 598.5 502.1 593.6 491.5 587.9 480.3 580.9 470.4 574 459.9 566.1 437.5 547.2 417 528.4 365 478.3z"/><path fill="url(#g154)" stroke="url(#g154)" d="M363.6 477.7 416 528.6 436.6 547.8 459.1 567 469.8 575.1 479.7 582.1 491 589.2 501.6 595.1 512.3 600.1 522.2 604 532.8 607.2 542.8 609.3 552.7 610.6 562.7 611.1 572.7 610.6 582.6 609.3 592.6 607.2 603.2 604 613.1 600.1 623.8 595.1 634.4 589.2 645.7 582.1 655.6 575.1 666.3 567 688.8 547.8 709.4 528.6 761.8 477.7 758.1 479.3 707.3 527.3 687.1 545.6 665 564 644.8 578.4 634.4 584.8 623.9 590.4 613.5 595.3 603.1 599.2 592.7 602.4 582.9 604.4 572.5 605.8 562.7 606.2 552.9 605.8 542.5 604.4 532.7 602.4 522.3 599.2 511.9 595.3 501.5 590.4 491 584.8 480.6 578.4 460.4 564 438.3 545.6 418.1 527.3 367.3 479.3z"/><path fill="url(#g155)" stroke="url(#g155)" d="M365.7 478.6 416.9 527.6 437.9 546.9 460.3 565.5 470.8 573.4 480.6 580.2 491.8 587.1 502.3 592.8 512.8 597.6 522.6 601.4 533.2 604.5 543 606.6 552.9 607.8 562.7 608.3 572.5 607.8 582.4 606.6 592.2 604.5 602.8 601.4 612.6 597.6 623.1 592.8 633.6 587.1 644.8 580.2 654.6 573.4 665.1 565.5 687.5 546.9 708.5 527.6 759.7 478.6 755.5 480.3 706 526.2 685.5 544.5 663.6 562.1 643.7 576 633.4 582.2 623.1 587.6 612.8 592.2 602.5 596.1 592.3 599.1 582.6 601.1 572.3 602.4 562.7 602.8 553.1 602.4 542.8 601.1 533.1 599.1 522.9 596.1 512.6 592.2 502.3 587.6 492 582.2 481.7 576 461.8 562.1 439.9 544.5 419.4 526.2 369.9 480.3z"/><path fill="url(#g156)" stroke="url(#g156)" d="M367.8 479.5 418.5 527.2 438.6 545.4 460.7 563.6 480.8 577.9 491.2 584.2 501.6 589.8 512 594.6 522.4 598.6 532.8 601.7 542.6 603.8 553 605.1 562.7 605.5 572.4 605.1 582.8 603.8 592.6 601.7 603 598.6 613.4 594.6 623.8 589.8 634.2 584.2 644.6 577.9 664.7 563.6 686.8 545.4 706.9 527.2 757.6 479.5 752 481.6 704.7 524.4 683.9 542.4 662.4 559.2 642.9 572.4 632.1 578.6 622 583.8 611.9 588.2 601.8 591.9 591.7 594.7 582.3 596.6 572.2 597.8 562.7 598.2 553.2 597.8 543.1 596.6 533.7 594.7 523.6 591.9 513.5 588.2 503.4 583.8 493.3 578.6 482.5 572.4 463 559.2 441.5 542.4 420.7 524.4 373.4 481.6z"/><path fill="url(#g157)" stroke="url(#g157)" d="M371.3 480.9 420.4 525.9 440.8 543.8 462.5 561.1 482.3 574.7 493.2 581.1 503.4 586.4 513.6 590.9 523.1 594.4 533.3 597.3 542.9 599.3 553.1 600.5 562.7 600.9 572.3 600.5 582.5 599.3 592.1 597.3 602.3 594.4 611.8 590.9 622 586.4 632.2 581.1 643.1 574.7 662.9 561.1 684.6 543.8 705 525.9 754.1 480.9 748.6 482.8 703.4 522.5 682.9 539.7 661.2 556.2 641.4 569.2 630.9 575.1 620.9 580 611 584.2 601.1 587.7 591.2 590.3 581.9 592.1 572 593.3 562.7 593.7 553.4 593.3 543.5 592.1 534.2 590.3 524.3 587.7 514.4 584.2 504.5 580 494.5 575.1 484 569.2 464.2 556.2 442.5 539.7 422 522.5 376.8 482.8z"/><path fill="url(#g158)" stroke="url(#g158)" d="M374.8 482.1 421.1 523.5 441.8 541.2 463.1 557.7 483.1 571.1 493.8 577.2 503.8 582.3 513.8 586.6 523.9 590.1 533.9 592.9 543.3 594.8 553.3 596 562.7 596.3 572.1 596 582.1 594.8 591.5 592.9 601.5 590.1 611.6 586.6 621.6 582.3 631.6 577.2 642.3 571.1 662.3 557.7 683.6 541.2 704.3 523.5 750.6 482.1 745.2 483.8 703.2 519.7 681.3 537.6 660 553.4 640 566.1 629.6 571.7 619.9 576.3 610.2 580.3 600.4 583.5 590.7 586.1 581.6 587.8 571.8 588.9 562.7 589.2 553.6 588.9 543.8 587.8 534.7 586.1 525 583.5 515.2 580.3 505.5 576.3 495.8 571.7 485.4 566.1 465.4 553.4 444.1 537.6 422.2 519.7 380.2 483.8z"/><path fill="url(#g159)" stroke="url(#g159)" d="M378.2 483.2 422.5 521.7 443.4 539.1 464.3 554.8 484.6 568 495 573.7 504.9 578.5 514.7 582.6 524.6 586 534.4 588.6 543.6 590.4 553.5 591.5 562.7 591.9 571.9 591.5 581.8 590.4 591 588.6 600.8 586 610.7 582.6 620.5 578.5 630.4 573.7 640.8 568 661.1 554.8 682 539.1 702.9 521.7 747.2 483.2 741.8 484.7 701.8 518 679.7 535.5 658.2 550.9 639.1 562.6 629 568 619.4 572.4 609.9 576.2 600.3 579.3 590.8 581.7 581.2 583.5 571.7 584.5 562.7 584.8 553.7 584.5 544.2 583.5 534.6 581.7 525.1 579.3 515.5 576.2 506 572.4 496.4 568 486.3 562.6 467.2 550.9 445.7 535.5 423.6 518 383.6 484.7z"/><path fill="url(#g160)" stroke="url(#g160)" d="M381.6 484.2 422 518.4 444.4 536.5 465.5 551.9 485.4 564.5 495.7 570 505.3 574.5 515 578.5 524.7 581.7 534.3 584.2 544 586 553.6 587.1 562.7 587.4 571.8 587.1 581.4 586 591.1 584.2 600.7 581.7 610.4 578.5 620.1 574.5 629.7 570 640 564.5 659.9 551.9 681 536.5 703.4 518.4 743.8 484.2 738.5 485.5 699.3 517.3 678.2 533.5 657.1 548.1 638.3 559.2 628.3 564.3 618.4 568.8 609 572.3 599.6 575.3 590.2 577.6 580.9 579.3 571.5 580.2 562.7 580.5 553.9 580.2 544.5 579.3 535.2 577.6 525.8 575.3 516.4 572.3 507 568.8 497.1 564.3 487.1 559.2 468.3 548.1 447.2 533.5 426.1 517.3 386.9 485.5z"/><path fill="url(#g161)" stroke="url(#g161)" d="M384.9 485.1 424.6 517.7 446.5 534.9 467.9 549.9 486.8 561.4 496.9 566.6 506.4 570.9 515.9 574.6 525.4 577.7 534.8 580.1 544.3 581.8 553.8 582.8 562.7 583.1 571.6 582.8 581.1 581.8 590.6 580.1 600 577.7 609.5 574.6 619 570.9 628.5 566.6 638.6 561.4 657.5 549.9 678.9 534.9 700.8 517.7 740.5 485.1 735.3 486.2 697.3 516 676 531.8 655.9 545.3 636.9 556.2 627.1 561 617.3 565.2 608.1 568.6 598.9 571.4 589.7 573.5 580.5 575.1 571.3 576 562.7 576.3 554.1 576 544.9 575.1 535.7 573.5 526.5 571.4 517.3 568.6 508.1 565.2 498.3 561 488.5 556.2 469.5 545.3 449.4 531.8 428.1 516 390.1 486.2z"/><path fill="url(#g162)" stroke="url(#g162)" d="M388.2 485.8 427.2 516.9 448.1 532.8 469.1 547.1 487.7 558 497.6 562.9 507.4 567.3 516.7 570.8 526.1 573.7 535.4 575.9 544.7 577.6 554 578.5 562.7 578.8 571.4 578.5 580.7 577.6 590 575.9 599.3 573.7 608.7 570.8 618 567.3 627.8 562.9 637.7 558 656.3 547.1 677.3 532.8 698.2 516.9 737.2 485.8 732 486.8 695.3 514.7 674.5 529.7 654.7 542.5 635.5 553.2 616.9 561.5 607.3 564.9 598.3 567.5 589.2 569.6 580.2 571 571.2 571.9 562.7 572.2 554.2 571.9 545.2 571 536.2 569.6 527.1 567.5 518.1 564.9 508.5 561.5 489.9 553.2 470.7 542.5 450.9 529.7 430.1 514.7 393.4 486.8z"/><path fill="url(#g163)" stroke="url(#g163)" d="M391.5 486.5 429.1 515.7 449.7 530.7 470.2 544.3 489.1 555 498.8 559.7 508.5 563.8 517.6 567.1 526.7 569.8 535.9 571.9 545 573.4 554.1 574.3 562.7 574.6 571.3 574.3 580.4 573.4 589.5 571.9 598.7 569.8 607.8 567.1 616.9 563.8 626.6 559.7 636.3 555 655.2 544.3 675.7 530.7 696.3 515.7 733.9 486.5 728.8 487.4 694.5 512.7 673.4 527.3 653.5 539.8 634.7 549.9 615.9 558 607 561.1 598.1 563.6 589.3 565.6 580.4 567 571.6 567.8 562.7 568.1 553.8 567.8 545 567 536.1 565.6 527.3 563.6 518.4 561.1 509.5 558 490.7 549.9 471.9 539.8 452 527.3 430.9 512.7 396.6 487.4z"/><path fill="url(#g164)" stroke="url(#g164)" d="M394.7 487.1 430.5 514 451.2 528.7 471.4 541.6 489.9 551.7 508.4 559.9 517.9 563.2 526.9 565.8 535.8 567.9 544.8 569.3 553.7 570.2 562.7 570.5 571.7 570.2 580.6 569.3 589.6 567.9 598.5 565.8 607.5 563.2 617 559.9 635.5 551.7 654 541.6 674.2 528.7 694.9 514 730.7 487.1 725.7 487.8 694.2 510.3 671.9 525.3 651.8 537.5 633.9 546.8 615.4 554.5 606.2 557.5 597.5 559.9 588.8 561.7 580.1 563.1 571.4 563.9 562.7 564.2 554 563.9 545.3 563.1 536.6 561.7 527.9 559.9 519.2 557.5 510 554.5 491.5 546.8 473.6 537.5 453.5 525.3 431.2 510.3 399.7 487.8z"/><path fill="url(#g165)" stroke="url(#g165)" d="M397.9 487.6 430.8 511.6 452.3 526.3 472.6 538.9 491.3 548.7 510 556.7 527.5 562.1 536.3 564 545.1 565.4 553.9 566.2 562.7 566.5 571.5 566.2 580.3 565.4 589.1 564 597.9 562.1 615.4 556.7 634.1 548.7 652.8 538.9 673.1 526.3 694.6 511.6 727.5 487.6 722.5 488.2 691.6 509.5 669.8 523.7 650.1 535.2 632.5 543.9 614.4 551.1 596.8 556.3 579.7 559.3 571.2 560 562.7 560.3 554.2 560 545.7 559.3 528.6 556.3 511 551.1 492.9 543.9 475.3 535.2 455.6 523.7 433.8 509.5 402.9 488.2z"/><path fill="url(#g166)" stroke="url(#g166)" d="M401 488 432.3 510 454.4 524.7 474.3 536.5 492.1 545.6 510.4 553.1 528.2 558.4 536.8 560.2 545.5 561.5 554.1 562.3 562.7 562.6 571.3 562.3 579.9 561.5 588.6 560.2 597.2 558.4 615 553.1 633.3 545.6 651.1 536.5 671 524.7 693.1 510 724.4 488 719.4 488.4 688.6 509 667.7 522.1 648.9 532.6 631.1 541.1 613.4 547.9 596.1 552.7 579.4 555.5 562.7 556.5 546 555.5 529.3 552.7 512 547.9 494.3 541.1 476.5 532.6 457.7 522.1 436.8 509 406 488.4z"/><path fill="url(#g167)" stroke="url(#g167)" d="M404.1 488.3 435.3 509.5 456.5 523.1 475.5 533.9 493.5 542.8 511.4 549.8 528.9 554.8 545.8 557.7 562.7 558.7 579.6 557.7 596.5 554.8 614 549.8 631.9 542.8 649.9 533.9 668.9 523.1 690.1 509.5 721.3 488.3 716.4 488.6 686.7 507.8 666.7 519.9 648.2 529.8 630.3 538.1 612.9 544.6 596 549.1 579.1 551.9 562.7 552.8 546.3 551.9 529.4 549.1 512.5 544.6 495.1 538.1 477.2 529.8 458.7 519.9 438.7 507.8 409 488.6z"/><path fill="url(#g168)" stroke="url(#g168)" d="M407.2 488.5 437.8 508.7 458 521.1 476.7 531.4 494.8 540 512.4 546.6 529.5 551.3 546.1 554.1 562.7 555 579.3 554.1 595.9 551.3 613 546.6 630.6 540 648.7 531.4 667.4 521.1 687.6 508.7 718.2 488.5 713.3 488.8 684.7 506.6 665.1 518 646.1 527.9 629 535.4 611.9 541.5 595.3 545.8 578.8 548.4 562.7 549.2 546.6 548.4 530.1 545.8 513.5 541.5 496.4 535.4 479.3 527.9 460.3 518 440.7 506.6 412.1 488.8z"/><path fill="url(#g169)" stroke="url(#g169)" d="M410.3 488.7 439.7 507.4 459.6 519.2 478.4 529.2 495.6 537 512.9 543.3 529.7 547.8 546.4 550.5 562.7 551.3 579 550.5 595.7 547.8 612.5 543.3 629.8 537 647 529.2 665.8 519.2 685.7 507.4 715.1 488.7 710.3 488.9 683.3 505.1 663.6 516.2 644.9 525.5 628.2 532.6 610.9 538.5 594.7 542.5 578.4 544.9 562.7 545.7 547 544.9 530.7 542.5 514.5 538.5 497.2 532.6 480.5 525.5 461.8 516.2 442.1 505.1 415.1 488.9z"/><path fill="url(#g170)" stroke="url(#g170)" d="M413.3 488.8 441.2 505.9 460.6 517.1 479.5 526.8 496.5 534.2 513.9 540.3 530.3 544.4 546.8 547 562.7 547.8 578.6 547 595.1 544.4 611.5 540.3 628.9 534.2 645.9 526.8 664.8 517.1 684.2 505.9 712.1 488.8 707.4 488.9 682.3 503.4 661.6 514.6 643.7 523.2 626.8 530.1 610.4 535.4 594 539.3 578.1 541.6 562.7 542.3 547.3 541.6 531.4 539.3 515 535.4 498.6 530.1 481.7 523.2 463.8 514.6 443.1 503.4 418 488.9z"/><path fill="url(#g171)" stroke="url(#g171)" d="M416.3 488.9 442.6 504.5 462.6 515.5 481.2 524.6 497.8 531.6 514.9 537.3 531 541.2 547.1 543.6 562.7 544.3 578.3 543.6 594.4 541.2 610.5 537.3 627.6 531.6 644.2 524.6 662.8 515.5 682.8 504.5 709.1 488.9 704.4 488.9 679.4 502.8 659.5 513.1 642.1 521.1 625.5 527.5 609 532.7 593.4 536.2 577.8 538.3 562.7 539 547.6 538.3 532 536.2 516.4 532.7 499.9 527.5 483.3 521.1 465.9 513.1 446 502.8 421 488.9z"/><path fill="url(#g172)" stroke="url(#g172)" d="M419.2 488.9 444.1 503.1 464.7 514 482.4 522.3 499.1 529 515.4 534.3 531.6 538 547.4 540.3 562.7 541 578 540.3 593.8 538 610 534.3 626.3 529 643 522.3 660.7 514 681.3 503.1 706.2 488.9 701.5 488.8 677 502 658 511.3 640.9 518.9 624.7 524.9 608.5 529.8 593.2 533.1 578 535.2 562.7 535.8 547.4 535.2 532.2 533.1 516.9 529.8 500.7 524.9 484.5 518.9 467.4 511.3 448.4 502 423.9 488.8z"/><path fill="url(#g173)" stroke="url(#g173)" d="M422.2 488.9 447 502.5 466.7 512.5 484 520.3 500.4 526.5 516.8 531.6 532.2 535 547.7 537.1 562.7 537.7 577.7 537.1 593.2 535 608.6 531.6 625 526.5 641.4 520.3 658.7 512.5 678.4 502.5 703.2 488.9 698.6 488.7 674.6 501.1 656.9 509.4 639.7 516.7 623.9 522.4 608 527 592.6 530.2 577.7 532.1 562.7 532.7 547.7 532.1 532.8 530.2 517.4 527 501.5 522.4 485.7 516.7 468.5 509.4 450.8 501.1 426.8 488.7z"/><path fill="url(#g174)" stroke="url(#g174)" d="M425 488.8 449.4 501.6 468.2 510.7 485.1 518.1 501.2 524 517.3 528.7 532.4 532 547.6 533.9 562.7 534.6 577.8 533.9 593 532 608.1 528.7 624.2 524 640.3 518.1 657.2 510.7 676 501.6 700.4 488.8 695.7 488.6 672.7 499.9 655.4 507.8 638.1 514.8 622.6 520.1 607 524.4 592 527.4 577.3 529.1 562.7 529.7 548.1 529.1 533.4 527.4 518.4 524.4 502.8 520.1 487.3 514.8 470 507.8 452.7 499.9 429.7 488.6z"/><path fill="url(#g175)" stroke="url(#g175)" d="M427.9 488.7 451.7 500.7 469.2 508.9 486.3 516 502 521.5 517.8 526 533 529.1 547.9 530.9 562.7 531.6 577.5 530.9 592.4 529.1 607.6 526 623.4 521.5 639.1 516 656.2 508.9 673.7 500.7 697.5 488.7 692.8 488.4 670.7 498.8 652.9 506.5 636.4 512.9 621.2 517.8 606.1 521.8 591.3 524.5 577 526.2 562.7 526.7 548.4 526.2 534.1 524.5 519.3 521.8 504.2 517.8 489 512.9 472.5 506.5 454.7 498.8 432.6 488.4z"/><path fill="url(#g176)" stroke="url(#g176)" d="M430.8 488.5 453.3 499.4 470.8 507.2 488 514 503.4 519.2 518.7 523.3 533.7 526.2 548.2 527.9 562.7 528.5 577.2 527.9 591.7 526.2 606.7 523.3 622 519.2 637.4 514 654.6 507.2 672.1 499.4 694.6 488.5 689.8 488.2 669.5 497.3 651.2 504.9 635.6 510.7 620.3 515.4 605.5 519.1 591.1 521.7 576.7 523.3 562.7 523.8 548.7 523.3 534.3 521.7 519.9 519.1 505.1 515.4 489.8 510.7 474.2 504.9 455.9 497.3 435.6 488.2z"/><path fill="url(#g177)" stroke="url(#g177)" d="M433.8 488.3 455.3 498.3 473.4 505.9 489.2 511.9 504.7 516.9 519.7 520.7 534.4 523.4 548.5 525 562.7 525.5 576.9 525 591 523.4 605.7 520.7 620.7 516.9 636.2 511.9 652 505.9 670.1 498.3 691.6 488.3 686.8 487.9 667 496.5 649.6 503.3 633.9 508.8 619.4 513.1 604.5 516.6 590.4 519 576.4 520.5 562.7 520.9 549 520.5 535 519 520.9 516.6 506 513.1 491.5 508.8 475.8 503.3 458.4 496.5 438.6 487.9z"/><path fill="url(#g178)" stroke="url(#g178)" d="M436.8 488.1 456.5 496.8 475 504.3 490.5 509.9 505.6 514.5 520.3 518.1 534.6 520.6 548.8 522.1 562.7 522.6 576.6 522.1 590.8 520.6 605.1 518.1 619.8 514.5 634.9 509.9 650.4 504.3 668.9 496.8 688.6 488.1 683.9 487.7 664.5 495.6 647.9 501.8 632.6 506.9 618 511 603.9 514.1 589.8 516.4 576 517.7 562.7 518.2 549.4 517.7 535.6 516.4 521.5 514.1 507.4 511 492.8 506.9 477.5 501.8 460.9 495.6 441.5 487.7z"/><path fill="url(#g179)" stroke="url(#g179)" d="M439.7 487.8 459.4 496.1 476.6 502.8 492.2 508.1 506.5 512.3 521.3 515.7 535.2 518 549.2 519.4 562.7 519.9 576.2 519.4 590.2 518 604.1 515.7 618.9 512.3 633.2 508.1 648.8 502.8 666 496.1 685.7 487.8 680.8 487.4 661.9 494.7 646.2 500.3 630.8 505.1 616.6 508.9 602.9 511.8 589.5 513.8 576.1 515.1 562.7 515.5 549.3 515.1 535.9 513.8 522.5 511.8 508.8 508.9 494.6 505.1 479.2 500.3 463.5 494.7 444.6 487.4z"/><path fill="url(#g180)" stroke="url(#g180)" d="M442.7 487.5 461.9 495.3 477.9 501.1 493.5 506.2 507.9 510.1 521.9 513.2 535.9 515.4 549.5 516.7 562.7 517.1 575.9 516.7 589.5 515.4 603.5 513.2 617.5 510.1 631.9 506.2 647.5 501.1 663.5 495.3 682.7 487.5 677.7 487 659.3 493.8 643.6 499.1 629 503.3 615.2 506.8 601.8 509.4 588.4 511.3 575.4 512.5 562.7 512.8 550 512.5 537 511.3 523.6 509.4 510.2 506.8 496.4 503.3 481.8 499.1 466.1 493.8 447.7 487z"/><path fill="url(#g181)" stroke="url(#g181)" d="M445.2 487.3 464 494.5 479.7 500 495 504.7 509.1 508.4 522.8 511.3 536.1 513.3 549.4 514.5 562.7 514.9 576 514.5 589.3 513.3 602.6 511.3 616.3 508.4 630.4 504.7 645.7 500 661.4 494.5 680.2 487.3 673.6 486.6 641.1 497.2 627.4 500.9 614.1 504 600.8 506.4 587.8 508.1 575.3 509.1 562.7 509.5 550.1 509.1 537.6 508.1 524.6 506.4 511.3 504 498 500.9 484.3 497.2 451.8 486.6z"/><path fill="url(#g182)" stroke="url(#g182)" d="M449.2 486.9 482.5 498.3 496.5 502.3 510.5 505.7 523.7 508.3 537 510.1 549.8 511.2 562.7 511.6 575.6 511.2 588.4 510.1 601.7 508.3 614.9 505.7 628.9 502.3 642.9 498.3 676.2 486.9 669.2 486.1 638.7 495.2 624.8 498.7 612.1 501.4 599.6 503.4 587.2 504.9 574.8 505.8 562.7 506.1 550.6 505.8 538.2 504.9 525.8 503.4 513.3 501.4 500.6 498.7 486.7 495.2 456.2 486.1z"/><path fill="url(#g183)" stroke="url(#g183)" d="M453.6 486.4 485.2 496.3 499 500 512.1 502.9 525.2 505.2 538 506.8 550.3 507.8 562.7 508.1 575.1 507.8 587.4 506.8 600.2 505.2 613.3 502.9 626.4 500 640.2 496.3 671.8 486.4 664.9 485.5 636 493.5 610.1 498.9 586.2 502 574.3 502.8 562.7 503.1 551.1 502.8 539.2 502 515.3 498.9 489.4 493.5 460.5 485.5z"/><path fill="url(#g184)" stroke="url(#g184)" d="M457.9 485.8 487.6 494.4 514.2 500.3 526.4 502.3 538.6 503.7 550.8 504.6 562.7 504.9 574.6 504.6 586.8 503.7 599 502.3 611.2 500.3 637.8 494.4 667.5 485.8 660.6 485 632.9 492 608.7 496.6 585.2 499.4 562.7 500.3 540.2 499.4 516.7 496.6 492.5 492 464.8 485z"/><path fill="url(#g185)" stroke="url(#g185)" d="M462.1 485.3 490.6 492.9 515.8 498 539.6 501 562.7 502 585.8 501 609.6 498 634.8 492.9 663.3 485.3 656.3 484.6 629.7 490.5 606.7 494.5 584.5 496.9 562.7 497.6 540.9 496.9 518.7 494.5 495.7 490.5 469.1 484.6z"/><path fill="url(#g186)" stroke="url(#g186)" d="M466.4 484.9 493.7 491.4 517.4 495.8 540.2 498.4 562.7 499.2 585.2 498.4 608 495.8 631.7 491.4 659 484.9 651.7 484.1 627.1 489.1 604.5 492.5 583.5 494.5 562.7 495.2 541.9 494.5 520.9 492.5 498.3 489.1 473.7 484.1z"/><path fill="url(#g187)" stroke="url(#g187)" d="M469.3 484.5 495.7 490.5 518.8 494.4 540.9 496.8 562.7 497.6 584.5 496.8 606.6 494.4 629.7 490.5 656.1 484.5 644.3 483.2 623.1 487 602.4 489.6 582.3 491.2 562.7 491.7 543.1 491.2 523 489.6 502.3 487 481.1 483.2z"/><path fill="url(#g188)" stroke="url(#g188)" d="M472.8 484.2 497.9 489.4 520.4 492.9 541.7 495 562.7 495.7 583.7 495 605 492.9 627.5 489.4 652.6 484.2 630.5 481.2 613.1 483.6 596.1 485.3 579.4 486.3 562.7 486.7 546 486.3 529.3 485.3 512.3 483.6 494.9 481.2z"/><path fill="url(#g189)" stroke="url(#g189)" d="M490 482 508.4 484.8 526.6 486.8 544.8 488 562.7 488.4 580.6 488 598.8 486.8 617 484.8 635.4 482 622.3 479.9 592.1 482.9 562.7 483.9 533.3 482.9 503.1 479.9z"/><path fill="url(#g190)" stroke="url(#g190)" d="M499.3 480.5 515.6 482.6 531.4 484 547.1 484.9 562.7 485.1 578.3 484.9 594 484 609.8 482.6 626.1 480.5 616 479 589 481.2 562.7 482 536.4 481.2 509.4 479z"/><path fill="url(#g191)" stroke="url(#g191)" d="M505.4 479.6 534.5 482.3 562.7 483.1 590.9 482.3 620 479.6 609.5 478.3 585.9 479.8 562.7 480.3 539.5 479.8 515.9 478.3z"/><path fill="url(#g192)" stroke="url(#g192)" d="M511.8 478.7 537.8 480.7 562.7 481.3 587.6 480.7 613.6 478.7 602.6 477.6 582.5 478.7 562.7 479 542.9 478.7 522.8 477.6z"/><path fill="url(#g193)" stroke="url(#g193)" d="M518.5 478 540.8 479.4 562.7 479.8 584.6 479.4 606.9 478 595.4 477.1 562.7 477.9 530 477.1z"/><path fill="url(#g194)" stroke="url(#g194)" d="M525.5 477.4 544.2 478.3 562.7 478.6 581.2 478.3 599.9 477.4 588 476.7 562.7 477.2 537.4 476.7z"/><path fill="url(#g195)" stroke="url(#g195)" d="M534.2 476.9 562.7 477.5 591.2 476.9 582.6 474.7 562.7 475.2 542.8 474.7z"/><path fill="url(#g196)" stroke="url(#g196)" d="M539.8 476.2 562.7 476.9 585.6 476.2 577.6 472.3 562.7 472.5 547.8 472.3z"/><path fill="url(#g197)" stroke="url(#g197)" d="M544.8 473.7 562.7 474.2 580.6 473.7 572.7 469.7 552.7 469.7z"/><path fill="url(#g198)" stroke="url(#g198)" d="M549.7 471.3 575.7 471.3 567.7 467.1 557.7 467.1z"/><path fill="url(#g199)" stroke="url(#g199)" d="M554.6 468.7 570.8 468.7 562.7 464.4 562.7 464.4z"/></g><path d="M695.5 215V662" stroke="#ffffff" stroke-width="0.8" stroke-opacity="0.3"/><path d="M160.7 278.2L160.7 732.2L562.7 917L964.7 732.2" stroke="#1a1a1a" stroke-width="2.8" fill="none" stroke-linejoin="miter"/><path d="M227.7 763L210.5 770.9M629.7 886.2L646.9 894.1M361.7 824.6L344.5 832.5M763.7 824.6L780.9 832.5M495.7 886.2L478.5 894.1M897.7 763L914.9 770.9M160.7 639.7L143.5 631.8M160.7 545.8L143.5 537.9M160.7 451.9L143.5 444M160.7 358L143.5 350.1" stroke="#1a1a1a" stroke-width="2.8" fill="none"/>
<rect x="197.4" y="1073.4" width="771.3" height="318.8" fill="url(#bgA)"/><rect x="197.4" y="1481.9" width="771.3" height="315.7" fill="url(#bgP)"/><path d="M197.2 1139.3 200.4 1141.3 203.6 1143.3 206.8 1145.4 210 1147.5 213.2 1149.7 216.4 1151.9 219.7 1154.2 222.9 1156.5 226.1 1158.9 229.3 1161.3 232.5 1163.8 235.7 1166.3 239 1168.9 242.2 1171.5 245.4 1174.2 248.6 1176.9 251.8 1179.6 255 1182.4 258.3 1185.2 261.5 1188 264.7 1190.9 267.9 1193.8 271.1 1196.7 274.3 1199.7 277.5 1202.7 280.8 1205.6 284 1208.7 287.2 1211.7 290.4 1214.7 293.6 1217.8 296.8 1220.9 300.1 1223.9 303.3 1227 306.5 1230.1 309.7 1233.2 312.9 1236.3 316.1 1239.4 319.4 1242.5 322.6 1245.6 325.8 1248.7 329 1251.8 332.2 1254.8 335.4 1257.9 338.6 1261 341.9 1264 345.1 1267 348.3 1270.1 351.5 1273.1 354.7 1276 357.9 1279 361.2 1282 364.4 1284.9 367.6 1287.8 370.8 1290.7 374 1293.5 377.2 1296.3 380.5 1299.1 383.7 1301.9 386.9 1304.7 390.1 1307.4 393.3 1310.1 396.5 1312.7 399.7 1315.3 403 1317.9 406.2 1320.5 409.4 1323 412.6 1325.5 415.8 1327.9 419 1330.3 422.3 1332.7 425.5 1335 428.7 1337.3 431.9 1339.5 435.1 1341.7 438.3 1343.9 441.6 1346 444.8 1348.1 448 1350.1 451.2 1352.1 454.4 1354.1 457.6 1356 460.8 1357.9 464.1 1359.7 467.3 1361.4 470.5 1363.2 473.7 1364.8 476.9 1366.5 480.1 1368 483.4 1369.6 486.6 1371.1 489.8 1372.5 493 1373.9 496.2 1375.2 499.4 1376.5 502.7 1377.8 505.9 1378.9 509.1 1380.1 512.3 1381.2 515.5 1382.2 518.7 1383.2 521.9 1384.1 525.2 1385 528.4 1385.9 531.6 1386.6 534.8 1387.4 538 1388.1 541.2 1388.7 544.5 1389.3 547.7 1389.8 550.9 1390.3 554.1 1390.7 557.3 1391.1 560.5 1391.4 563.8 1391.6 567 1391.9 570.2 1392 573.4 1392.1 576.6 1392.2 579.8 1392.2 583 1392.1 586.3 1392.1 589.5 1391.9 592.7 1391.7 595.9 1391.4 599.1 1391.1 602.3 1390.8 605.6 1390.4 608.8 1389.9 612 1389.4 615.2 1388.8 618.4 1388.2 621.6 1387.6 624.8 1386.8 628.1 1386.1 631.3 1385.3 634.5 1384.4 637.7 1383.5 640.9 1382.5 644.1 1381.5 647.4 1380.4 650.6 1379.3 653.8 1378.1 657 1376.9 660.2 1375.7 663.4 1374.4 666.7 1373 669.9 1371.6 673.1 1370.1 676.3 1368.6 679.5 1367.1 682.7 1365.5 685.9 1363.9 689.2 1362.2 692.4 1360.5 695.6 1358.7 698.8 1356.9 702 1355 705.2 1353.1 708.5 1351.2 711.7 1349.2 714.9 1347.2 718.1 1345.1 721.3 1343 724.5 1340.9 727.8 1338.7 731 1336.4 734.2 1334.2 737.4 1331.9 740.6 1329.5 743.8 1327.2 747 1324.8 750.3 1322.3 753.5 1319.9 756.7 1317.4 759.9 1314.8 763.1 1312.2 766.3 1309.6 769.6 1307 772.8 1304.4 776 1301.7 779.2 1299 782.4 1296.2 785.6 1293.5 788.9 1290.7 792.1 1287.9 795.3 1285 798.5 1282.2 801.7 1279.3 804.9 1276.4 808.1 1273.5 811.4 1270.6 814.6 1267.7 817.8 1264.7 821 1261.8 824.2 1258.8 827.4 1255.8 830.7 1252.8 833.9 1249.9 837.1 1246.9 840.3 1243.9 843.5 1240.8 846.7 1237.8 850 1234.8 853.2 1231.8 856.4 1228.8 859.6 1225.9 862.8 1222.9 866 1219.9 869.2 1216.9 872.5 1214 875.7 1211 878.9 1208.1 882.1 1205.2 885.3 1202.3 888.5 1199.5 891.8 1196.6 895 1193.8 898.2 1191 901.4 1188.2 904.6 1185.5 907.8 1182.8 911.1 1180.1 914.3 1177.5 917.5 1174.9 920.7 1172.3 923.9 1169.8 927.1 1167.3 930.3 1164.9 933.6 1162.4 936.8 1160.1 940 1157.8 943.2 1155.5 946.4 1153.3 949.6 1151.1 952.9 1149 956.1 1146.9 959.3 1144.9 962.5 1143 965.7 1141 968.9 1139.2" stroke="#3b4a9e" stroke-width="3.1" fill="none"/><path d="M197.2 1076.4 200.4 1081.7 203.6 1086.9 206.8 1092 210 1097.1 213.2 1102.2 216.4 1107.2 219.7 1112.2 222.9 1117.2 226.1 1122 229.3 1126.9 232.5 1131.7 235.7 1136.5 239 1141.2 242.2 1145.8 245.4 1150.5 248.6 1155.1 251.8 1159.6 255 1164.1 258.3 1168.5 261.5 1173 264.7 1177.3 267.9 1181.6 271.1 1185.9 274.3 1190.2 277.5 1194.3 280.8 1198.5 284 1202.6 287.2 1206.6 290.4 1210.7 293.6 1214.6 296.8 1218.6 300.1 1222.4 303.3 1226.3 306.5 1230.1 309.7 1233.8 312.9 1237.5 316.1 1241.2 319.4 1244.8 322.6 1248.4 325.8 1251.9 329 1255.4 332.2 1258.8 335.4 1262.2 338.6 1265.6 341.9 1268.9 345.1 1272.2 348.3 1275.4 351.5 1278.6 354.7 1281.7 357.9 1284.8 361.2 1287.9 364.4 1290.9 367.6 1293.8 370.8 1296.7 374 1299.6 377.2 1302.4 380.5 1305.2 383.7 1308 386.9 1310.7 390.1 1313.3 393.3 1315.9 396.5 1318.5 399.7 1321 403 1323.5 406.2 1325.9 409.4 1328.3 412.6 1330.7 415.8 1333 419 1335.2 422.3 1337.4 425.5 1339.6 428.7 1341.7 431.9 1343.8 435.1 1345.9 438.3 1347.9 441.6 1349.8 444.8 1351.7 448 1353.6 451.2 1355.4 454.4 1357.2 457.6 1358.9 460.8 1360.6 464.1 1362.2 467.3 1363.8 470.5 1365.4 473.7 1366.9 476.9 1368.4 480.1 1369.8 483.4 1371.2 486.6 1372.5 489.8 1373.8 493 1375.1 496.2 1376.3 499.4 1377.4 502.7 1378.5 505.9 1379.6 509.1 1380.6 512.3 1381.6 515.5 1382.6 518.7 1383.5 521.9 1384.3 525.2 1385.1 528.4 1385.9 531.6 1386.6 534.8 1387.3 538 1387.9 541.2 1388.5 544.5 1389.1 547.7 1389.6 550.9 1390 554.1 1390.4 557.3 1390.8 560.5 1391.1 563.8 1391.4 567 1391.7 570.2 1391.9 573.4 1392 576.6 1392.1 579.8 1392.2 583 1392.2 586.3 1392.2 589.5 1392.1 592.7 1392 595.9 1391.8 599.1 1391.6 602.3 1391.4 605.6 1391.1 608.8 1390.8 612 1390.4 615.2 1390 618.4 1389.5 621.6 1389 624.8 1388.5 628.1 1387.9 631.3 1387.2 634.5 1386.6 637.7 1385.8 640.9 1385.1 644.1 1384.2 647.4 1383.4 650.6 1382.5 653.8 1381.5 657 1380.5 660.2 1379.5 663.4 1378.4 666.7 1377.3 669.9 1376.1 673.1 1374.9 676.3 1373.7 679.5 1372.4 682.7 1371.1 685.9 1369.7 689.2 1368.2 692.4 1366.8 695.6 1365.2 698.8 1363.7 702 1362.1 705.2 1360.4 708.5 1358.7 711.7 1357 714.9 1355.2 718.1 1353.4 721.3 1351.5 724.5 1349.6 727.8 1347.7 731 1345.7 734.2 1343.6 737.4 1341.5 740.6 1339.4 743.8 1337.2 747 1335 750.3 1332.8 753.5 1330.5 756.7 1328.1 759.9 1325.7 763.1 1323.3 766.3 1320.8 769.6 1318.3 772.8 1315.7 776 1313.1 779.2 1310.4 782.4 1307.7 785.6 1305 788.9 1302.2 792.1 1299.4 795.3 1296.5 798.5 1293.6 801.7 1290.6 804.9 1287.6 808.1 1284.5 811.4 1281.4 814.6 1278.3 817.8 1275.1 821 1271.9 824.2 1268.6 827.4 1265.3 830.7 1261.9 833.9 1258.5 837.1 1255.1 840.3 1251.6 843.5 1248.1 846.7 1244.5 850 1240.9 853.2 1237.2 856.4 1233.5 859.6 1229.7 862.8 1225.9 866 1222.1 869.2 1218.2 872.5 1214.3 875.7 1210.3 878.9 1206.3 882.1 1202.2 885.3 1198.1 888.5 1194 891.8 1189.8 895 1185.5 898.2 1181.3 901.4 1176.9 904.6 1172.6 907.8 1168.1 911.1 1163.7 914.3 1159.2 917.5 1154.6 920.7 1150.1 923.9 1145.4 927.1 1140.7 930.3 1136 933.6 1131.3 936.8 1126.5 940 1121.6 943.2 1116.7 946.4 1111.8 949.6 1106.8 952.9 1101.8 956.1 1096.7 959.3 1091.6 962.5 1086.4 965.7 1081.2 968.9 1076" stroke="#e0262b" stroke-width="3.1" fill="none" stroke-dasharray="17.5 16.5"/><path d="M463.3 1122H549.9" stroke="#3b4a9e" stroke-width="3.1"/><path d="M463.3 1188.7H549.9" stroke="#e0262b" stroke-width="3.1" stroke-dasharray="17.5 16.5"/><path d="M197.2 1554.7 199.6 1554.3 202 1553.8 204.4 1553.4 206.8 1553 209.2 1552.6 211.6 1552.2 214 1551.8 216.4 1551.4 218.9 1551 221.3 1550.5 223.7 1550.1 226.1 1549.7 228.5 1549.3 230.9 1548.9 233.3 1548.5 235.7 1548.2 238.2 1547.8 240.6 1547.4 243 1547 245.4 1546.6 247.8 1546.2 250.2 1545.8 252.6 1545.5 255 1545.1 257.4 1544.7 259.9 1544.3 262.3 1544 264.7 1543.6 267.1 1543.2 269.5 1542.9 271.9 1542.5 274.3 1542.1 276.7 1541.8 279.2 1541.4 281.6 1541 284 1540.7 286.4 1540.3 288.8 1540 291.2 1539.6 293.6 1539.3 296 1539 298.5 1538.6 300.9 1538.3 303.3 1537.9 305.7 1537.6 308.1 1537.3 310.5 1536.9 312.9 1536.6 315.3 1536.3 317.7 1535.9 320.2 1535.6 322.6 1535.3 325 1535 327.4 1534.6 329.8 1534.3 332.2 1534 334.6 1533.7 337 1533.4 339.5 1533.1 341.9 1532.8 344.3 1532.5 346.7 1532.2 349.1 1531.9 351.5 1531.6 353.9 1531.3 356.3 1531 358.7 1530.7 361.2 1530.4 363.6 1530.1 366 1529.8 368.4 1529.5 370.8 1529.2 373.2 1529 375.6 1528.7 378 1528.4 380.5 1528.1 382.9 1527.8 385.3 1527.6 387.7 1527.3 390.1 1527 392.5 1526.8 394.9 1526.5 397.3 1526.2 399.7 1526 402.2 1525.7 404.6 1525.5 407 1525.2 409.4 1525 411.8 1524.7 414.2 1524.5 416.6 1524.2 419 1524 421.5 1523.7 423.9 1523.5 426.3 1523.2 428.7 1523 431.1 1522.8 433.5 1522.5 435.9 1522.3 438.3 1522.1 440.7 1521.8 443.2 1521.6 445.6 1521.4 448 1521.2 450.4 1521 452.8 1520.7 455.2 1520.5 457.6 1520.3 460 1520.1 462.5 1519.9 464.9 1519.7 467.3 1519.5 469.7 1519.3 472.1 1519.1 474.5 1518.9 476.9 1518.7 479.3 1518.5 481.7 1518.3 484.2 1518.1 486.6 1517.9 489 1517.7 491.4 1517.5 493.8 1517.3 496.2 1517.2 498.6 1517 501 1516.8 503.5 1516.6 505.9 1516.4 508.3 1516.3 510.7 1516.1 513.1 1515.9 515.5 1515.7 517.9 1515.5 520.3 1515.3 522.7 1515.1 525.2 1514.9 527.6 1514.7 530 1514.5 532.4 1514.2 534.8 1513.9 537.2 1513.7 539.6 1513.3 542 1513 544.5 1512.6 546.9 1512.2 549.3 1511.8 551.7 1511.3 554.1 1510.8 556.5 1510.3 558.9 1509.8 561.3 1509.3 563.8 1508.8 566.2 1508.3 568.6 1507.8 571 1507.4 573.4 1507 575.8 1506.6 578.2 1506.3 580.6 1506.1 583 1506 585.5 1506.2 587.9 1506.4 590.3 1506.7 592.7 1507 595.1 1507.4 597.5 1507.9 599.9 1508.3 602.3 1508.8 604.8 1509.4 607.2 1509.9 609.6 1510.4 612 1510.9 614.4 1511.4 616.8 1511.8 619.2 1512.3 621.6 1512.7 624 1513 626.5 1513.4 628.9 1513.7 631.3 1514 633.7 1514.2 636.1 1514.5 638.5 1514.7 640.9 1515 643.3 1515.2 645.8 1515.4 648.2 1515.5 650.6 1515.7 653 1515.9 655.4 1516.1 657.8 1516.3 660.2 1516.5 662.6 1516.6 665 1516.8 667.5 1517 669.9 1517.2 672.3 1517.4 674.7 1517.5 677.1 1517.7 679.5 1517.9 681.9 1518.1 684.3 1518.3 686.8 1518.5 689.2 1518.7 691.6 1518.9 694 1519.1 696.4 1519.3 698.8 1519.5 701.2 1519.7 703.6 1519.9 706 1520.1 708.5 1520.3 710.9 1520.6 713.3 1520.8 715.7 1521 718.1 1521.2 720.5 1521.4 722.9 1521.6 725.3 1521.9 727.8 1522.1 730.2 1522.3 732.6 1522.6 735 1522.8 737.4 1523 739.8 1523.3 742.2 1523.5 744.6 1523.8 747 1524 749.5 1524.2 751.9 1524.5 754.3 1524.7 756.7 1525 759.1 1525.2 761.5 1525.5 763.9 1525.8 766.3 1526 768.8 1526.3 771.2 1526.5 773.6 1526.8 776 1527.1 778.4 1527.3 780.8 1527.6 783.2 1527.9 785.6 1528.2 788 1528.4 790.5 1528.7 792.9 1529 795.3 1529.3 797.7 1529.6 800.1 1529.8 802.5 1530.1 804.9 1530.4 807.3 1530.7 809.8 1531 812.2 1531.3 814.6 1531.6 817 1531.9 819.4 1532.2 821.8 1532.5 824.2 1532.8 826.6 1533.1 829 1533.4 831.5 1533.7 833.9 1534.1 836.3 1534.4 838.7 1534.7 841.1 1535 843.5 1535.3 845.9 1535.7 848.3 1536 850.8 1536.3 853.2 1536.6 855.6 1537 858 1537.3 860.4 1537.6 862.8 1538 865.2 1538.3 867.6 1538.6 870.1 1539 872.5 1539.3 874.9 1539.7 877.3 1540 879.7 1540.4 882.1 1540.7 884.5 1541.1 886.9 1541.4 889.3 1541.8 891.8 1542.2 894.2 1542.5 896.6 1542.9 899 1543.3 901.4 1543.6 903.8 1544 906.2 1544.4 908.6 1544.7 911.1 1545.1 913.5 1545.5 915.9 1545.9 918.3 1546.3 920.7 1546.6 923.1 1547 925.5 1547.4 927.9 1547.8 930.3 1548.2 932.8 1548.6 935.2 1549 937.6 1549.4 940 1549.8 942.4 1550.2 944.8 1550.6 947.2 1551 949.6 1551.4 952.1 1551.8 954.5 1552.2 956.9 1552.6 959.3 1553.1 961.7 1553.5 964.1 1553.9 966.5 1554.3 968.9 1554.7" stroke="#4a8a3c" stroke-width="3.1" fill="none"/><rect x="197.4" y="1073.4" width="771.3" height="318.8" fill="none" stroke="#1a1a1a" stroke-width="2.8"/><rect x="197.4" y="1481.9" width="771.3" height="315.7" fill="none" stroke="#1a1a1a" stroke-width="2.8"/><path d="M184.5 1392.2H197.4M184.5 1232.9H197.4M184.5 1073.5H197.4M184.5 1481.9H197.4M184.5 1560.3H197.4M184.5 1639.4H197.4M184.5 1718.9H197.4M184.5 1797.6H197.4M342 1392.2V1408.2M342 1797.6V1813.6M582.9 1392.2V1408.2M582.9 1797.6V1813.6M823.8 1392.2V1408.2M823.8 1797.6V1813.6" stroke="#1a1a1a" stroke-width="2.8" fill="none"/>
<text x="388.00" y="28.80" font-size="38.40" textLength="49.16" lengthAdjust="spacingAndGlyphs" style='stroke:#1a1a1a;stroke-width:0.80px;stroke-linejoin:round'>0.2</text><text x="491.60" y="28.40" font-size="36.51" textLength="48.38" lengthAdjust="spacingAndGlyphs" style='stroke:#1a1a1a;stroke-width:0.80px;stroke-linejoin:round'>0.4</text><text x="595.00" y="28.40" font-size="37.82" textLength="49.09" lengthAdjust="spacingAndGlyphs" style='stroke:#1a1a1a;stroke-width:0.80px;stroke-linejoin:round'>0.6</text><text x="699.90" y="28.40" font-size="37.82" textLength="48.21" lengthAdjust="spacingAndGlyphs" style='stroke:#1a1a1a;stroke-width:0.80px;stroke-linejoin:round'>0.8</text><text x="843.00" y="71.00" font-size="44.54" textLength="19.39" lengthAdjust="spacingAndGlyphs" style='stroke:#1a1a1a;stroke-width:0.40px;stroke-linejoin:round;font-family:"Liberation Serif",serif;font-style:italic'>r</text><text x="861.80" y="85.80" font-size="24.29" textLength="28.34" lengthAdjust="spacingAndGlyphs" style='stroke:#1a1a1a;stroke-width:0.80px;stroke-linejoin:round'>RR</text><text x="9.10" y="125.60" font-size="39.23" textLength="50.03" lengthAdjust="spacingAndGlyphs" style='stroke:#1a1a1a;stroke-width:0.80px;stroke-linejoin:round;font-weight:bold'>(a)</text><text x="9.10" y="1001.30" font-size="40.61" textLength="51.69" lengthAdjust="spacingAndGlyphs" style='stroke:#1a1a1a;stroke-width:0.80px;stroke-linejoin:round;font-weight:bold'>(b)</text><text x="80.80" y="362.50" font-size="39.72" textLength="49.51" lengthAdjust="spacingAndGlyphs" style='stroke:#1a1a1a;stroke-width:0.80px;stroke-linejoin:round'>0.8</text><text x="80.80" y="456.00" font-size="40.77" textLength="49.51" lengthAdjust="spacingAndGlyphs" style='stroke:#1a1a1a;stroke-width:0.80px;stroke-linejoin:round'>0.6</text><text x="80.80" y="549.10" font-size="38.14" textLength="50.41" lengthAdjust="spacingAndGlyphs" style='stroke:#1a1a1a;stroke-width:0.80px;stroke-linejoin:round'>0.4</text><text x="80.80" y="642.70" font-size="39.79" textLength="49.48" lengthAdjust="spacingAndGlyphs" style='stroke:#1a1a1a;stroke-width:0.80px;stroke-linejoin:round'>0.2</text><text x="138.20" y="804.90" font-size="38.14" textLength="63.76" lengthAdjust="spacingAndGlyphs" style='stroke:#1a1a1a;stroke-width:0.80px;stroke-linejoin:round'>-0.5</text><text x="296.10" y="867.50" font-size="42.63" textLength="19.95" lengthAdjust="spacingAndGlyphs" style='stroke:#1a1a1a;stroke-width:0.80px;stroke-linejoin:round'>0</text><text x="418.10" y="929.00" font-size="37.64" textLength="48.34" lengthAdjust="spacingAndGlyphs" style='stroke:#1a1a1a;stroke-width:0.80px;stroke-linejoin:round'>0.5</text><text x="656.20" y="929.00" font-size="37.64" textLength="62.33" lengthAdjust="spacingAndGlyphs" style='stroke:#1a1a1a;stroke-width:0.80px;stroke-linejoin:round'>-0.5</text><text x="805.80" y="867.90" font-size="41.52" textLength="21.66" lengthAdjust="spacingAndGlyphs" style='stroke:#1a1a1a;stroke-width:0.80px;stroke-linejoin:round'>0</text><text x="921.20" y="805.00" font-size="37.42" textLength="48.94" lengthAdjust="spacingAndGlyphs" style='stroke:#1a1a1a;stroke-width:0.80px;stroke-linejoin:round'>0.5</text><text x="212.90" y="908.60" font-size="38.02" textLength="19.02" lengthAdjust="spacingAndGlyphs" style='stroke:#1a1a1a;stroke-width:0.80px;stroke-linejoin:round;font-family:"Liberation Serif",serif;font-style:italic'>k</text><text x="231.00" y="921.40" font-size="19.55" textLength="9.85" lengthAdjust="spacingAndGlyphs" style='stroke:#1a1a1a;stroke-width:0.80px;stroke-linejoin:round;font-family:"Liberation Serif",serif;font-style:italic'>x</text><text x="241.30" y="908.20" font-size="39.60" textLength="10.58" lengthAdjust="spacingAndGlyphs" style='stroke:#1a1a1a;stroke-width:0.80px;stroke-linejoin:round'>/</text><text x="252.60" y="908.60" font-size="38.02" textLength="18.45" lengthAdjust="spacingAndGlyphs" style='stroke:#1a1a1a;stroke-width:0.80px;stroke-linejoin:round;font-family:"Liberation Serif",serif;font-style:italic'>k</text><text x="270.40" y="922.60" font-size="24.60" textLength="10.44" lengthAdjust="spacingAndGlyphs" style='stroke:#1a1a1a;stroke-width:0.80px;stroke-linejoin:round'>0</text><text x="846.70" y="909.70" font-size="37.30" textLength="18.56" lengthAdjust="spacingAndGlyphs" style='stroke:#1a1a1a;stroke-width:0.80px;stroke-linejoin:round;font-family:"Liberation Serif",serif;font-style:italic'>k</text><text x="865.60" y="924.90" font-size="21.43" textLength="9.82" lengthAdjust="spacingAndGlyphs" style='stroke:#1a1a1a;stroke-width:0.80px;stroke-linejoin:round;font-family:"Liberation Serif",serif;font-style:italic'>y</text><text x="875.50" y="910.80" font-size="39.30" textLength="11.80" lengthAdjust="spacingAndGlyphs" style='stroke:#1a1a1a;stroke-width:0.80px;stroke-linejoin:round'>/</text><text x="886.90" y="909.70" font-size="37.30" textLength="19.17" lengthAdjust="spacingAndGlyphs" style='stroke:#1a1a1a;stroke-width:0.80px;stroke-linejoin:round;font-family:"Liberation Serif",serif;font-style:italic'>k</text><text x="905.10" y="924.50" font-size="22.90" textLength="10.83" lengthAdjust="spacingAndGlyphs" style='stroke:#1a1a1a;stroke-width:0.80px;stroke-linejoin:round'>0</text><text x="33.20" y="675.80" font-size="40.87" textLength="261.45" lengthAdjust="spacingAndGlyphs" style='stroke:#1a1a1a;stroke-width:0.80px;stroke-linejoin:round' transform="rotate(-90 33.20 675.80)">Transfer function,</text><text x="34.00" y="397.00" font-size="44.50" textLength="19.24" lengthAdjust="spacingAndGlyphs" style='stroke:#1a1a1a;stroke-width:0.40px;stroke-linejoin:round;font-family:"Liberation Serif",serif;font-style:italic' transform="rotate(-90 34.00 397.00)">r</text><text x="48.30" y="378.10" font-size="27.20" textLength="27.16" lengthAdjust="spacingAndGlyphs" style='stroke:#1a1a1a;stroke-width:0.80px;stroke-linejoin:round' transform="rotate(-90 48.30 378.10)">RR</text><text x="119.20" y="1085.70" font-size="39.58" textLength="48.70" lengthAdjust="spacingAndGlyphs" style='stroke:#1a1a1a;stroke-width:0.80px;stroke-linejoin:round'>1.0</text><text x="119.00" y="1244.50" font-size="37.64" textLength="48.73" lengthAdjust="spacingAndGlyphs" style='stroke:#1a1a1a;stroke-width:0.80px;stroke-linejoin:round'>0.5</text><text x="148.90" y="1405.90" font-size="41.61" textLength="19.02" lengthAdjust="spacingAndGlyphs" style='stroke:#1a1a1a;stroke-width:0.80px;stroke-linejoin:round'>0</text><text x="584.00" y="1137.00" font-size="44.50" textLength="20.40" lengthAdjust="spacingAndGlyphs" style='stroke:#1a1a1a;stroke-width:0.40px;stroke-linejoin:round;font-family:"Liberation Serif",serif;font-style:italic'>r</text><text x="603.20" y="1151.10" font-size="24.29" textLength="27.99" lengthAdjust="spacingAndGlyphs" style='stroke:#1a1a1a;stroke-width:0.80px;stroke-linejoin:round'>RR</text><text x="572.90" y="1198.20" font-size="39.30" textLength="177.37" lengthAdjust="spacingAndGlyphs" style='stroke:#1a1a1a;stroke-width:0.80px;stroke-linejoin:round'>Parabolic fit</text><text x="71.60" y="1348.00" font-size="37.61" textLength="159.94" lengthAdjust="spacingAndGlyphs" style='stroke:#1a1a1a;stroke-width:0.80px;stroke-linejoin:round' transform="rotate(-90 71.60 1348.00)">Amplitude,</text><text x="74.00" y="1171.00" font-size="44.54" textLength="20.41" lengthAdjust="spacingAndGlyphs" style='stroke:#1a1a1a;stroke-width:0.40px;stroke-linejoin:round;font-family:"Liberation Serif",serif;font-style:italic' transform="rotate(-90 74.00 1171.00)">r</text><text x="87.60" y="1150.60" font-size="27.32" textLength="27.69" lengthAdjust="spacingAndGlyphs" style='stroke:#1a1a1a;stroke-width:0.80px;stroke-linejoin:round' transform="rotate(-90 87.60 1150.60)">RR</text><text x="147.00" y="1492.70" font-size="38.38" textLength="20.05" lengthAdjust="spacingAndGlyphs" style='stroke:#1a1a1a;stroke-width:0.00px;stroke-linejoin:round;font-family:"Liberation Serif",serif;font-style:italic;font-weight:bold'>π</text><text x="149.00" y="1652.10" font-size="41.35" textLength="18.07" lengthAdjust="spacingAndGlyphs" style='stroke:#1a1a1a;stroke-width:0.80px;stroke-linejoin:round'>0</text><text x="147.00" y="1807.70" font-size="38.38" textLength="20.05" lengthAdjust="spacingAndGlyphs" style='stroke:#1a1a1a;stroke-width:0.00px;stroke-linejoin:round;font-family:"Liberation Serif",serif;font-style:italic;font-weight:bold'>π</text><text x="73.50" y="1738.30" font-size="39.75" textLength="99.23" lengthAdjust="spacingAndGlyphs" style='stroke:#1a1a1a;stroke-width:0.80px;stroke-linejoin:round' transform="rotate(-90 73.50 1738.30)">Phase,</text><text x="74.00" y="1596.00" font-size="44.47" textLength="20.32" lengthAdjust="spacingAndGlyphs" style='stroke:#1a1a1a;stroke-width:0.40px;stroke-linejoin:round;font-family:"Liberation Serif",serif;font-style:italic' transform="rotate(-90 74.00 1596.00)">r</text><text x="87.60" y="1576.30" font-size="27.20" textLength="28.66" lengthAdjust="spacingAndGlyphs" style='stroke:#1a1a1a;stroke-width:0.80px;stroke-linejoin:round' transform="rotate(-90 87.60 1576.30)">RR</text><text x="313.70" y="1868.70" font-size="37.12" textLength="63.96" lengthAdjust="spacingAndGlyphs" style='stroke:#1a1a1a;stroke-width:0.80px;stroke-linejoin:round'>-0.5</text><text x="574.00" y="1869.70" font-size="39.78" textLength="20.25" lengthAdjust="spacingAndGlyphs" style='stroke:#1a1a1a;stroke-width:0.80px;stroke-linejoin:round'>0</text><text x="798.80" y="1868.70" font-size="37.12" textLength="49.18" lengthAdjust="spacingAndGlyphs" style='stroke:#1a1a1a;stroke-width:0.80px;stroke-linejoin:round'>0.5</text><text x="284.10" y="1929.80" font-size="38.26" textLength="521.44" lengthAdjust="spacingAndGlyphs" style='stroke:#1a1a1a;stroke-width:0.80px;stroke-linejoin:round'>Normalized transverse wavevector,</text><text x="813.80" y="1929.60" font-size="38.10" textLength="18.21" lengthAdjust="spacingAndGlyphs" style='stroke:#1a1a1a;stroke-width:0.80px;stroke-linejoin:round;font-family:"Liberation Serif",serif;font-style:italic'>k</text><text x="831.10" y="1942.60" font-size="15.83" textLength="9.97" lengthAdjust="spacingAndGlyphs" style='stroke:#1a1a1a;stroke-width:0.80px;stroke-linejoin:round;font-family:"Liberation Serif",serif;font-style:italic'>x</text><text x="842.30" y="1929.60" font-size="37.66" textLength="11.22" lengthAdjust="spacingAndGlyphs" style='stroke:#1a1a1a;stroke-width:0.80px;stroke-linejoin:round'>/</text><text x="853.60" y="1929.60" font-size="38.10" textLength="17.99" lengthAdjust="spacingAndGlyphs" style='stroke:#1a1a1a;stroke-width:0.80px;stroke-linejoin:round;font-family:"Liberation Serif",serif;font-style:italic'>k</text><text x="871.50" y="1943.40" font-size="23.49" textLength="11.53" lengthAdjust="spacingAndGlyphs" style='stroke:#1a1a1a;stroke-width:0.80px;stroke-linejoin:round'>0</text><rect x="837.4" y="37.2" width="3.4" height="34.6" fill="#1a1a1a"/><rect x="893.9" y="37.2" width="3.3" height="34.6" fill="#1a1a1a"/><rect x="578.6" y="1103.2" width="3.3" height="34.5" fill="#1a1a1a"/><rect x="635.1" y="1103.2" width="2.9" height="34.5" fill="#1a1a1a"/><rect x="-1" y="399.9" width="34.9" height="3.1" fill="#1a1a1a"/><rect x="-1" y="344.2" width="34.9" height="2.6" fill="#1a1a1a"/><rect x="39.6" y="1173" width="34.4" height="2.8" fill="#1a1a1a"/><rect x="39.6" y="1116.4" width="34.4" height="3.4" fill="#1a1a1a"/><rect x="134" y="1796.7" width="11.1" height="3.7" fill="#1a1a1a"/><path d="M42.6 1596.8L73.3 1627.2V1597.8" stroke="#1a1a1a" stroke-width="2.9" fill="none" stroke-linejoin="miter"/>
</svg></body></html>
